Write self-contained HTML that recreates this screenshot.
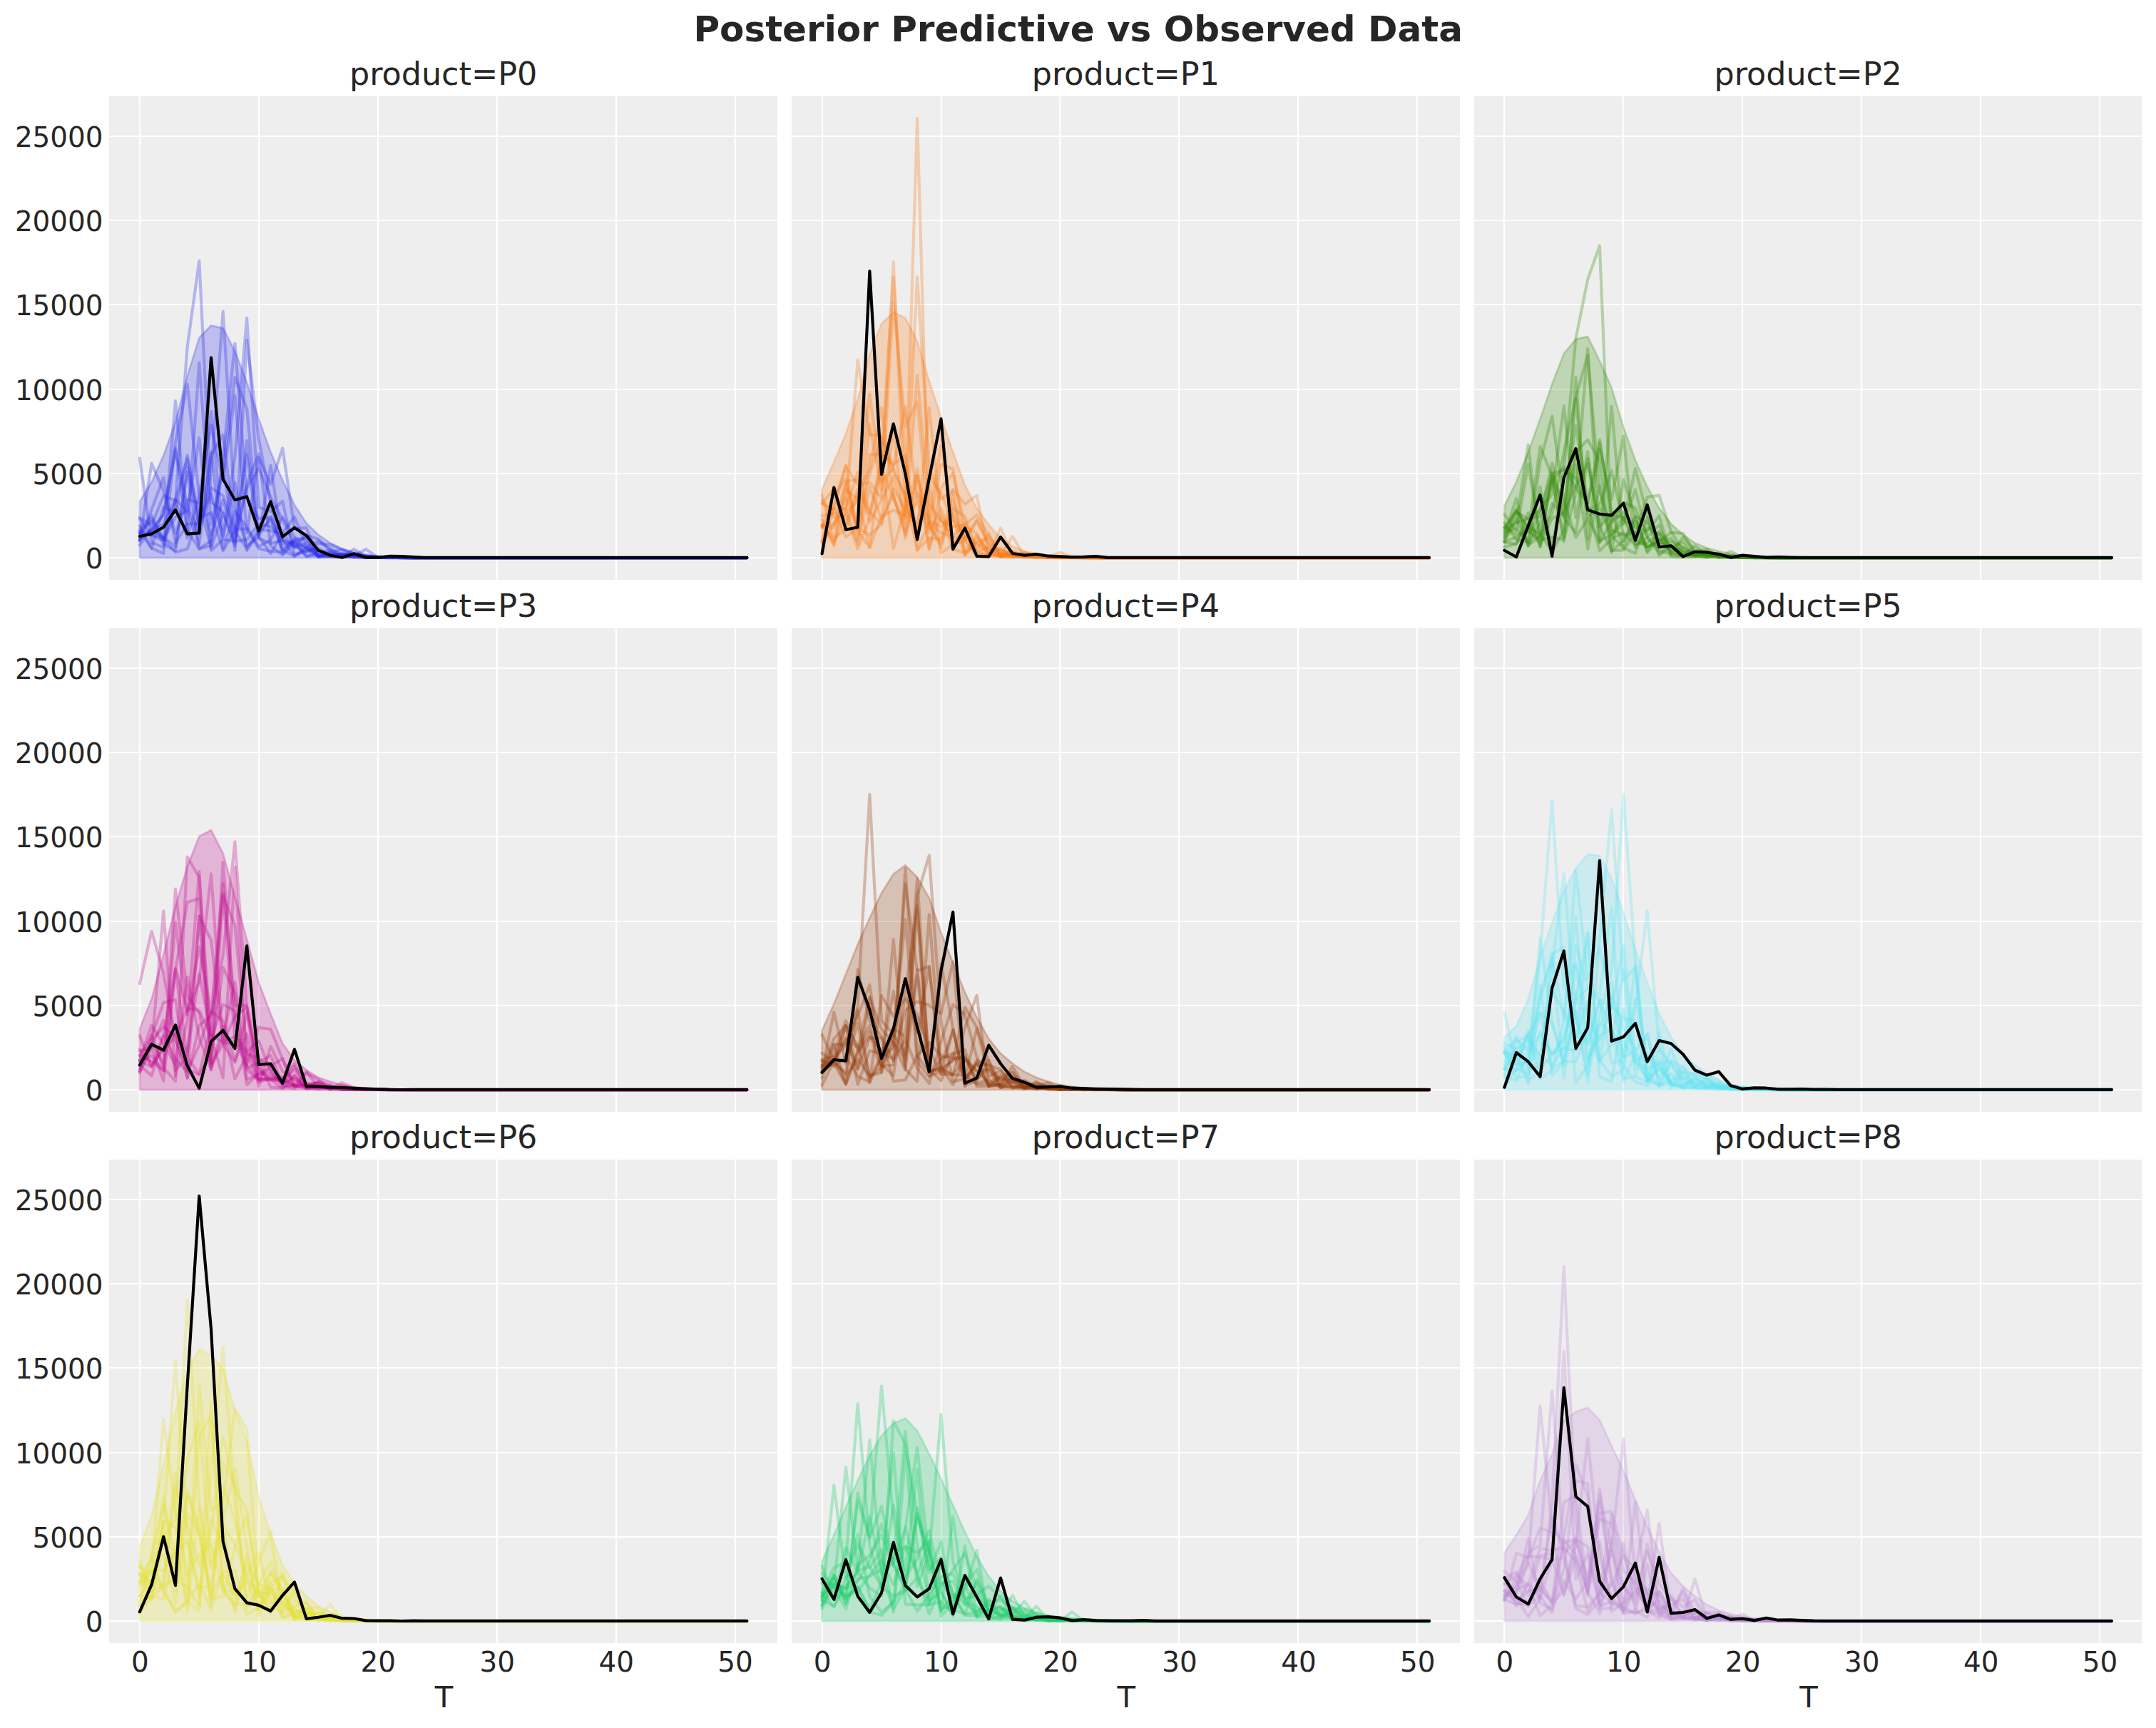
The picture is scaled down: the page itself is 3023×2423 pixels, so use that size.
<!DOCTYPE html>
<html lang="en"><head><meta charset="utf-8">
<title>Posterior Predictive vs Observed Data</title>
<style>
html,body{margin:0;padding:0;background:#fff;}
body{width:3023px;height:2423px;overflow:hidden;}
svg{display:block;}
text{font-family:"DejaVu Sans", "Liberation Sans", sans-serif;fill:#262626;}
.tick{font-size:38.9px;}
.ttl{font-size:44.44px;}
.xl{font-size:41.7px;}
.sup{font-size:50px;font-weight:bold;}
.grid{stroke:#fff;stroke-width:2.22;fill:none;}
.obs{stroke:#000;stroke-width:4.17;fill:none;stroke-linecap:round;stroke-linejoin:round;}
.dr{stroke-width:4.17;fill:none;stroke-opacity:0.3;stroke-linecap:round;stroke-linejoin:round;}
.band{fill-opacity:0.25;stroke-opacity:0.25;stroke-width:2.78;stroke-linejoin:round;}
</style></head><body>
<svg width="3023" height="2423" viewBox="0 0 3023 2423">
<rect x="0" y="0" width="3023" height="2423" fill="#ffffff"/>
<text class="sup" x="1511.7" y="58.4" text-anchor="middle">Posterior Predictive vs Observed Data</text>
<g id="panel-P0">
<rect x="153.0" y="135.0" width="937.0" height="678.0" fill="#eeeeee"/>
<path class="grid" d="M196.0,135.0V813.0M363.0,135.0V813.0M530.0,135.0V813.0M697.0,135.0V813.0M864.0,135.0V813.0M1031.0,135.0V813.0M153.3,782.0H1089.9M153.3,664.0H1089.9M153.3,546.0H1089.9M153.3,427.0H1089.9M153.3,309.0H1089.9M153.3,191.0H1089.9"/>
<g>
<path class="band" fill="#2a2eec" stroke="#2a2eec" d="M195.9,703.3L212.6,675.7L229.3,638.4L246.0,592.0L262.7,527.0L279.3,473.7L296.0,456.3L312.7,460.2L329.4,492.2L346.1,536.3L362.8,587.4L379.5,633.7L396.2,673.2L412.9,708.0L429.6,733.5L446.3,749.7L463.0,761.3L479.7,769.4L496.4,774.1L513.1,777.5L529.8,779.9L546.5,781.0L563.2,781.6L579.9,781.9L596.6,782.2L613.3,782.2L629.9,782.2L646.6,782.2L663.3,782.2L680.0,782.2L696.7,782.2L713.4,782.2L730.1,782.2L746.8,782.2L763.5,782.2L780.2,782.2L796.9,782.2L813.6,782.2L830.3,782.2L847.0,782.2L863.7,782.2L880.4,782.2L897.1,782.2L913.8,782.2L930.5,782.2L947.2,782.2L963.9,782.2L980.5,782.2L997.2,782.2L1013.9,782.2L1030.6,782.2L1047.3,782.2L1047.3,782.2L195.9,782.2Z"/>
<g class="dr" stroke="#2a2eec">
<path d="M195.9,727.6L212.6,750.9L229.3,757.7L246.0,702.1L262.7,486.4L279.3,365.8L296.0,704.1L312.7,717.7L329.4,765.8L346.1,617.9L362.8,752.3L379.5,776.2L396.2,747.9L412.9,768.0L429.6,761.1L446.3,780.3L463.0,775.1L479.7,780.8L496.4,780.0L513.1,781.3L529.8,781.7L546.5,782.1L563.2,781.8L579.9,782.1L596.6,782.2L613.3,782.2L629.9,782.2L646.6,782.2L663.3,782.2L680.0,782.2L696.7,782.2L713.4,782.2L730.1,782.2L746.8,782.2L763.5,782.2L780.2,782.2L796.9,782.2L813.6,782.2L830.3,782.2L847.0,782.2L863.7,782.2L880.4,782.2L897.1,782.2L913.8,782.2L930.5,782.2L947.2,782.2L963.9,782.2L980.5,782.2L997.2,782.2L1013.9,782.2L1030.6,782.2L1047.3,782.2"/>
<path d="M195.9,755.7L212.6,743.7L229.3,720.6L246.0,631.4L262.7,709.3L279.3,748.1L296.0,663.9L312.7,436.8L329.4,712.3L346.1,765.4L362.8,753.4L379.5,652.8L396.2,762.8L412.9,759.8L429.6,752.5L446.3,778.9L463.0,779.8L479.7,776.2L496.4,780.4L513.1,781.9L529.8,781.5L546.5,781.7L563.2,781.9L579.9,782.1L596.6,782.2L613.3,782.2L629.9,782.2L646.6,782.2L663.3,782.2L680.0,782.2L696.7,782.2L713.4,782.2L730.1,782.2L746.8,782.2L763.5,782.2L780.2,782.2L796.9,782.2L813.6,782.2L830.3,782.2L847.0,782.2L863.7,782.2L880.4,782.2L897.1,782.2L913.8,782.2L930.5,782.2L947.2,782.2L963.9,782.2L980.5,782.2L997.2,782.2L1013.9,782.2L1030.6,782.2L1047.3,782.2"/>
<path d="M195.9,737.0L212.6,768.9L229.3,711.4L246.0,718.5L262.7,638.5L279.3,737.7L296.0,692.2L312.7,751.2L329.4,640.2L346.1,446.2L362.8,711.2L379.5,717.3L396.2,702.9L412.9,777.6L429.6,773.4L446.3,762.1L463.0,763.5L479.7,770.6L496.4,776.6L513.1,780.6L529.8,781.2L546.5,781.9L563.2,782.0L579.9,782.1L596.6,782.2L613.3,782.2L629.9,782.2L646.6,782.2L663.3,782.2L680.0,782.2L696.7,782.2L713.4,782.2L730.1,782.2L746.8,782.2L763.5,782.2L780.2,782.2L796.9,782.2L813.6,782.2L830.3,782.2L847.0,782.2L863.7,782.2L880.4,782.2L897.1,782.2L913.8,782.2L930.5,782.2L947.2,782.2L963.9,782.2L980.5,782.2L997.2,782.2L1013.9,782.2L1030.6,782.2L1047.3,782.2"/>
<path d="M195.9,750.0L212.6,749.9L229.3,753.0L246.0,766.5L262.7,662.1L279.3,769.7L296.0,764.8L312.7,650.3L329.4,771.6L346.1,477.0L362.8,615.5L379.5,705.1L396.2,776.5L412.9,758.3L429.6,780.5L446.3,774.1L463.0,780.5L479.7,780.4L496.4,776.6L513.1,781.6L529.8,781.9L546.5,782.1L563.2,781.7L579.9,782.1L596.6,782.2L613.3,782.2L629.9,782.2L646.6,782.2L663.3,782.2L680.0,782.2L696.7,782.2L713.4,782.2L730.1,782.2L746.8,782.2L763.5,782.2L780.2,782.2L796.9,782.2L813.6,782.2L830.3,782.2L847.0,782.2L863.7,782.2L880.4,782.2L897.1,782.2L913.8,782.2L930.5,782.2L947.2,782.2L963.9,782.2L980.5,782.2L997.2,782.2L1013.9,782.2L1030.6,782.2L1047.3,782.2"/>
<path d="M195.9,642.6L212.6,760.9L229.3,767.4L246.0,701.1L262.7,643.1L279.3,725.5L296.0,719.2L312.7,772.2L329.4,743.7L346.1,637.9L362.8,755.0L379.5,762.2L396.2,757.3L412.9,766.9L429.6,750.8L446.3,755.7L463.0,772.8L479.7,780.4L496.4,781.2L513.1,781.1L529.8,781.9L546.5,782.0L563.2,781.8L579.9,782.2L596.6,782.2L613.3,782.2L629.9,782.2L646.6,782.2L663.3,782.2L680.0,782.2L696.7,782.2L713.4,782.2L730.1,782.2L746.8,782.2L763.5,782.2L780.2,782.2L796.9,782.2L813.6,782.2L830.3,782.2L847.0,782.2L863.7,782.2L880.4,782.2L897.1,782.2L913.8,782.2L930.5,782.2L947.2,782.2L963.9,782.2L980.5,782.2L997.2,782.2L1013.9,782.2L1030.6,782.2L1047.3,782.2"/>
<path d="M195.9,726.0L212.6,736.8L229.3,695.1L246.0,702.2L262.7,754.6L279.3,695.3L296.0,596.5L312.7,674.0L329.4,554.7L346.1,747.1L362.8,641.3L379.5,679.2L396.2,628.4L412.9,740.9L429.6,740.2L446.3,781.1L463.0,779.4L479.7,777.6L496.4,777.9L513.1,780.1L529.8,781.7L546.5,782.0L563.2,781.8L579.9,782.0L596.6,782.2L613.3,782.2L629.9,782.2L646.6,782.2L663.3,782.2L680.0,782.2L696.7,782.2L713.4,782.2L730.1,782.2L746.8,782.2L763.5,782.2L780.2,782.2L796.9,782.2L813.6,782.2L830.3,782.2L847.0,782.2L863.7,782.2L880.4,782.2L897.1,782.2L913.8,782.2L930.5,782.2L947.2,782.2L963.9,782.2L980.5,782.2L997.2,782.2L1013.9,782.2L1030.6,782.2L1047.3,782.2"/>
<path d="M195.9,757.7L212.6,649.7L229.3,689.0L246.0,748.4L262.7,700.3L279.3,705.2L296.0,768.6L312.7,719.7L329.4,761.8L346.1,678.5L362.8,636.4L379.5,765.4L396.2,778.2L412.9,761.8L429.6,767.9L446.3,775.6L463.0,771.1L479.7,777.5L496.4,776.4L513.1,779.2L529.8,780.9L546.5,781.8L563.2,781.9L579.9,782.1L596.6,782.2L613.3,782.2L629.9,782.2L646.6,782.2L663.3,782.2L680.0,782.2L696.7,782.2L713.4,782.2L730.1,782.2L746.8,782.2L763.5,782.2L780.2,782.2L796.9,782.2L813.6,782.2L830.3,782.2L847.0,782.2L863.7,782.2L880.4,782.2L897.1,782.2L913.8,782.2L930.5,782.2L947.2,782.2L963.9,782.2L980.5,782.2L997.2,782.2L1013.9,782.2L1030.6,782.2L1047.3,782.2"/>
<path d="M195.9,742.5L212.6,722.8L229.3,757.7L246.0,562.2L262.7,745.1L279.3,508.6L296.0,735.6L312.7,658.4L329.4,529.1L346.1,573.2L362.8,751.1L379.5,724.3L396.2,770.1L412.9,757.6L429.6,770.5L446.3,780.4L463.0,775.6L479.7,780.8L496.4,780.0L513.1,779.8L529.8,781.0L546.5,781.5L563.2,782.1L579.9,782.1L596.6,782.2L613.3,782.2L629.9,782.2L646.6,782.2L663.3,782.2L680.0,782.2L696.7,782.2L713.4,782.2L730.1,782.2L746.8,782.2L763.5,782.2L780.2,782.2L796.9,782.2L813.6,782.2L830.3,782.2L847.0,782.2L863.7,782.2L880.4,782.2L897.1,782.2L913.8,782.2L930.5,782.2L947.2,782.2L963.9,782.2L980.5,782.2L997.2,782.2L1013.9,782.2L1030.6,782.2L1047.3,782.2"/>
<path d="M195.9,745.1L212.6,768.7L229.3,776.0L246.0,619.6L262.7,538.5L279.3,697.1L296.0,750.1L312.7,701.4L329.4,755.1L346.1,684.3L362.8,656.6L379.5,696.9L396.2,728.6L412.9,765.3L429.6,774.3L446.3,768.5L463.0,778.5L479.7,776.6L496.4,778.0L513.1,780.8L529.8,781.9L546.5,781.8L563.2,782.1L579.9,782.1L596.6,782.2L613.3,782.2L629.9,782.2L646.6,782.2L663.3,782.2L680.0,782.2L696.7,782.2L713.4,782.2L730.1,782.2L746.8,782.2L763.5,782.2L780.2,782.2L796.9,782.2L813.6,782.2L830.3,782.2L847.0,782.2L863.7,782.2L880.4,782.2L897.1,782.2L913.8,782.2L930.5,782.2L947.2,782.2L963.9,782.2L980.5,782.2L997.2,782.2L1013.9,782.2L1030.6,782.2L1047.3,782.2"/>
<path d="M195.9,757.0L212.6,743.0L229.3,722.4L246.0,628.3L262.7,744.5L279.3,769.4L296.0,758.2L312.7,641.1L329.4,481.7L346.1,697.9L362.8,727.1L379.5,725.9L396.2,756.4L412.9,762.8L429.6,779.6L446.3,778.1L463.0,777.9L479.7,777.8L496.4,781.5L513.1,781.8L529.8,781.3L546.5,781.6L563.2,782.0L579.9,782.1L596.6,782.2L613.3,782.2L629.9,782.2L646.6,782.2L663.3,782.2L680.0,782.2L696.7,782.2L713.4,782.2L730.1,782.2L746.8,782.2L763.5,782.2L780.2,782.2L796.9,782.2L813.6,782.2L830.3,782.2L847.0,782.2L863.7,782.2L880.4,782.2L897.1,782.2L913.8,782.2L930.5,782.2L947.2,782.2L963.9,782.2L980.5,782.2L997.2,782.2L1013.9,782.2L1030.6,782.2L1047.3,782.2"/>
<path d="M195.9,758.7L212.6,714.6L229.3,669.6L246.0,761.4L262.7,734.8L279.3,733.9L296.0,634.1L312.7,770.0L329.4,717.1L346.1,738.9L362.8,766.4L379.5,757.1L396.2,725.1L412.9,753.3L429.6,768.1L446.3,780.3L463.0,780.5L479.7,780.4L496.4,769.9L513.1,780.8L529.8,781.7L546.5,781.3L563.2,782.1L579.9,782.1L596.6,782.2L613.3,782.2L629.9,782.2L646.6,782.2L663.3,782.2L680.0,782.2L696.7,782.2L713.4,782.2L730.1,782.2L746.8,782.2L763.5,782.2L780.2,782.2L796.9,782.2L813.6,782.2L830.3,782.2L847.0,782.2L863.7,782.2L880.4,782.2L897.1,782.2L913.8,782.2L930.5,782.2L947.2,782.2L963.9,782.2L980.5,782.2L997.2,782.2L1013.9,782.2L1030.6,782.2L1047.3,782.2"/>
<path d="M195.9,747.3L212.6,744.5L229.3,735.1L246.0,699.8L262.7,716.9L279.3,763.3L296.0,638.1L312.7,609.9L329.4,745.2L346.1,769.2L362.8,742.4L379.5,744.5L396.2,747.2L412.9,724.8L429.6,765.5L446.3,779.3L463.0,778.8L479.7,778.6L496.4,779.3L513.1,770.1L529.8,781.7L546.5,781.6L563.2,782.1L579.9,782.1L596.6,782.2L613.3,782.2L629.9,782.2L646.6,782.2L663.3,782.2L680.0,782.2L696.7,782.2L713.4,782.2L730.1,782.2L746.8,782.2L763.5,782.2L780.2,782.2L796.9,782.2L813.6,782.2L830.3,782.2L847.0,782.2L863.7,782.2L880.4,782.2L897.1,782.2L913.8,782.2L930.5,782.2L947.2,782.2L963.9,782.2L980.5,782.2L997.2,782.2L1013.9,782.2L1030.6,782.2L1047.3,782.2"/>
<path d="M195.9,748.7L212.6,726.9L229.3,756.0L246.0,725.2L262.7,716.2L279.3,614.2L296.0,771.9L312.7,756.8L329.4,759.0L346.1,756.7L362.8,734.8L379.5,738.2L396.2,756.7L412.9,779.7L429.6,767.0L446.3,758.2L463.0,769.1L479.7,780.0L496.4,779.2L513.1,779.5L529.8,781.7L546.5,781.8L563.2,782.0L579.9,782.1L596.6,782.2L613.3,782.2L629.9,782.2L646.6,782.2L663.3,782.2L680.0,782.2L696.7,782.2L713.4,782.2L730.1,782.2L746.8,782.2L763.5,782.2L780.2,782.2L796.9,782.2L813.6,782.2L830.3,782.2L847.0,782.2L863.7,782.2L880.4,782.2L897.1,782.2L913.8,782.2L930.5,782.2L947.2,782.2L963.9,782.2L980.5,782.2L997.2,782.2L1013.9,782.2L1030.6,782.2L1047.3,782.2"/>
<path d="M195.9,746.4L212.6,730.9L229.3,763.1L246.0,772.3L262.7,655.0L279.3,736.2L296.0,684.1L312.7,695.0L329.4,741.8L346.1,741.6L362.8,769.4L379.5,773.0L396.2,774.0L412.9,754.9L429.6,755.9L446.3,780.3L463.0,774.1L479.7,770.8L496.4,777.5L513.1,780.8L529.8,781.8L546.5,781.5L563.2,781.7L579.9,782.1L596.6,782.2L613.3,782.2L629.9,782.2L646.6,782.2L663.3,782.2L680.0,782.2L696.7,782.2L713.4,782.2L730.1,782.2L746.8,782.2L763.5,782.2L780.2,782.2L796.9,782.2L813.6,782.2L830.3,782.2L847.0,782.2L863.7,782.2L880.4,782.2L897.1,782.2L913.8,782.2L930.5,782.2L947.2,782.2L963.9,782.2L980.5,782.2L997.2,782.2L1013.9,782.2L1030.6,782.2L1047.3,782.2"/>
<path d="M195.9,764.4L212.6,739.8L229.3,755.3L246.0,774.4L262.7,769.5L279.3,721.5L296.0,576.8L312.7,753.8L329.4,676.6L346.1,772.0L362.8,746.3L379.5,728.6L396.2,771.4L412.9,779.8L429.6,770.7L446.3,771.9L463.0,778.0L479.7,777.2L496.4,780.4L513.1,780.5L529.8,780.8L546.5,782.0L563.2,782.1L579.9,782.1L596.6,782.2L613.3,782.2L629.9,782.2L646.6,782.2L663.3,782.2L680.0,782.2L696.7,782.2L713.4,782.2L730.1,782.2L746.8,782.2L763.5,782.2L780.2,782.2L796.9,782.2L813.6,782.2L830.3,782.2L847.0,782.2L863.7,782.2L880.4,782.2L897.1,782.2L913.8,782.2L930.5,782.2L947.2,782.2L963.9,782.2L980.5,782.2L997.2,782.2L1013.9,782.2L1030.6,782.2L1047.3,782.2"/>
</g>
<path class="obs" d="M195.9,752.0L212.6,748.6L229.3,739.2L246.0,714.9L262.7,748.6L279.3,747.4L296.0,501.5L312.7,672.0L329.4,701.0L346.1,696.4L362.8,744.6L379.5,703.3L396.2,752.7L412.9,740.0L429.6,750.9L446.3,771.7L463.0,778.7L479.7,781.7L496.4,776.4L513.1,781.7L529.8,781.7L546.5,779.8L563.2,780.2L579.9,781.1L596.6,781.8L613.3,781.9L629.9,781.9L646.6,781.9L663.3,781.9L680.0,781.9L696.7,781.9L713.4,781.9L730.1,781.9L746.8,781.9L763.5,781.9L780.2,781.9L796.9,781.9L813.6,781.9L830.3,781.9L847.0,781.9L863.7,781.9L880.4,781.9L897.1,781.9L913.8,781.9L930.5,781.9L947.2,781.9L963.9,781.9L980.5,781.9L997.2,781.9L1013.9,781.9L1030.6,781.9L1047.3,781.9"/>
</g>
<text class="ttl" x="621.6" y="119.0" text-anchor="middle">product=P0</text>
<text class="tick" x="144.6" y="797.2" text-anchor="end">0</text>
<text class="tick" x="144.6" y="678.9" text-anchor="end">5000</text>
<text class="tick" x="144.6" y="560.6" text-anchor="end">10000</text>
<text class="tick" x="144.6" y="442.3" text-anchor="end">15000</text>
<text class="tick" x="144.6" y="324.0" text-anchor="end">20000</text>
<text class="tick" x="144.6" y="205.7" text-anchor="end">25000</text>
</g>
<g id="panel-P1">
<rect x="1110.0" y="135.0" width="937.0" height="678.0" fill="#eeeeee"/>
<path class="grid" d="M1153.0,135.0V813.0M1320.0,135.0V813.0M1486.0,135.0V813.0M1653.0,135.0V813.0M1820.0,135.0V813.0M1987.0,135.0V813.0M1110.0,782.0H2046.6M1110.0,664.0H2046.6M1110.0,546.0H2046.6M1110.0,427.0H2046.6M1110.0,309.0H2046.6M1110.0,191.0H2046.6"/>
<g>
<path class="band" fill="#fa7c17" stroke="#fa7c17" d="M1152.6,685.9L1169.3,647.7L1186.0,608.2L1202.7,559.8L1219.4,496.9L1236.0,454.0L1252.7,437.7L1269.4,445.8L1286.1,478.3L1302.8,534.0L1319.5,585.0L1336.2,633.7L1352.9,680.1L1369.6,712.6L1386.3,735.8L1403.0,754.4L1419.7,766.0L1436.4,772.9L1453.1,776.4L1469.8,778.7L1486.5,779.9L1503.2,781.0L1519.9,781.6L1536.6,781.9L1553.3,782.2L1570.0,782.2L1586.6,782.2L1603.3,782.2L1620.0,782.2L1636.7,782.2L1653.4,782.2L1670.1,782.2L1686.8,782.2L1703.5,782.2L1720.2,782.2L1736.9,782.2L1753.6,782.2L1770.3,782.2L1787.0,782.2L1803.7,782.2L1820.4,782.2L1837.1,782.2L1853.8,782.2L1870.5,782.2L1887.2,782.2L1903.9,782.2L1920.6,782.2L1937.2,782.2L1953.9,782.2L1970.6,782.2L1987.3,782.2L2004.0,782.2L2004.0,782.2L1152.6,782.2Z"/>
<g class="dr" stroke="#fa7c17">
<path d="M1152.6,728.8L1169.3,765.0L1186.0,687.0L1202.7,699.9L1219.4,767.4L1236.0,647.7L1252.7,768.9L1269.4,711.2L1286.1,165.8L1302.8,746.7L1319.5,712.8L1336.2,762.2L1352.9,759.1L1369.6,778.8L1386.3,776.8L1403.0,772.2L1419.7,775.6L1436.4,779.8L1453.1,780.1L1469.8,781.8L1486.5,781.8L1503.2,781.7L1519.9,782.1L1536.6,782.1L1553.3,782.2L1570.0,782.2L1586.6,782.2L1603.3,782.2L1620.0,782.2L1636.7,782.2L1653.4,782.2L1670.1,782.2L1686.8,782.2L1703.5,782.2L1720.2,782.2L1736.9,782.2L1753.6,782.2L1770.3,782.2L1787.0,782.2L1803.7,782.2L1820.4,782.2L1837.1,782.2L1853.8,782.2L1870.5,782.2L1887.2,782.2L1903.9,782.2L1920.6,782.2L1937.2,782.2L1953.9,782.2L1970.6,782.2L1987.3,782.2L2004.0,782.2"/>
<path d="M1152.6,739.3L1169.3,693.3L1186.0,671.5L1202.7,740.7L1219.4,595.1L1236.0,687.5L1252.7,367.3L1269.4,723.0L1286.1,657.5L1302.8,768.6L1319.5,722.3L1336.2,769.9L1352.9,775.3L1369.6,763.2L1386.3,775.6L1403.0,780.1L1419.7,781.1L1436.4,781.1L1453.1,778.8L1469.8,782.0L1486.5,782.0L1503.2,782.0L1519.9,782.1L1536.6,782.0L1553.3,782.2L1570.0,782.2L1586.6,782.2L1603.3,782.2L1620.0,782.2L1636.7,782.2L1653.4,782.2L1670.1,782.2L1686.8,782.2L1703.5,782.2L1720.2,782.2L1736.9,782.2L1753.6,782.2L1770.3,782.2L1787.0,782.2L1803.7,782.2L1820.4,782.2L1837.1,782.2L1853.8,782.2L1870.5,782.2L1887.2,782.2L1903.9,782.2L1920.6,782.2L1937.2,782.2L1953.9,782.2L1970.6,782.2L1987.3,782.2L2004.0,782.2"/>
<path d="M1152.6,700.9L1169.3,725.8L1186.0,720.9L1202.7,769.5L1219.4,725.4L1236.0,640.2L1252.7,389.2L1269.4,645.0L1286.1,754.3L1302.8,677.4L1319.5,775.4L1336.2,763.7L1352.9,744.0L1369.6,774.1L1386.3,778.4L1403.0,779.3L1419.7,772.7L1436.4,780.8L1453.1,781.1L1469.8,781.2L1486.5,781.1L1503.2,782.0L1519.9,781.8L1536.6,782.1L1553.3,782.2L1570.0,782.2L1586.6,782.2L1603.3,782.2L1620.0,782.2L1636.7,782.2L1653.4,782.2L1670.1,782.2L1686.8,782.2L1703.5,782.2L1720.2,782.2L1736.9,782.2L1753.6,782.2L1770.3,782.2L1787.0,782.2L1803.7,782.2L1820.4,782.2L1837.1,782.2L1853.8,782.2L1870.5,782.2L1887.2,782.2L1903.9,782.2L1920.6,782.2L1937.2,782.2L1953.9,782.2L1970.6,782.2L1987.3,782.2L2004.0,782.2"/>
<path d="M1152.6,759.2L1169.3,707.7L1186.0,653.5L1202.7,679.6L1219.4,676.4L1236.0,698.5L1252.7,423.8L1269.4,598.0L1286.1,563.2L1302.8,737.9L1319.5,762.6L1336.2,713.1L1352.9,724.2L1369.6,771.1L1386.3,748.2L1403.0,779.6L1419.7,781.2L1436.4,775.3L1453.1,780.3L1469.8,782.0L1486.5,782.1L1503.2,781.9L1519.9,782.0L1536.6,781.9L1553.3,782.2L1570.0,782.2L1586.6,782.2L1603.3,782.2L1620.0,782.2L1636.7,782.2L1653.4,782.2L1670.1,782.2L1686.8,782.2L1703.5,782.2L1720.2,782.2L1736.9,782.2L1753.6,782.2L1770.3,782.2L1787.0,782.2L1803.7,782.2L1820.4,782.2L1837.1,782.2L1853.8,782.2L1870.5,782.2L1887.2,782.2L1903.9,782.2L1920.6,782.2L1937.2,782.2L1953.9,782.2L1970.6,782.2L1987.3,782.2L2004.0,782.2"/>
<path d="M1152.6,694.4L1169.3,759.0L1186.0,678.3L1202.7,744.4L1219.4,767.6L1236.0,724.2L1252.7,715.3L1269.4,723.0L1286.1,388.0L1302.8,652.1L1319.5,699.7L1336.2,688.3L1352.9,777.7L1369.6,754.8L1386.3,769.7L1403.0,778.4L1419.7,778.8L1436.4,774.4L1453.1,780.1L1469.8,781.7L1486.5,781.3L1503.2,781.7L1519.9,781.8L1536.6,782.1L1553.3,782.2L1570.0,782.2L1586.6,782.2L1603.3,782.2L1620.0,782.2L1636.7,782.2L1653.4,782.2L1670.1,782.2L1686.8,782.2L1703.5,782.2L1720.2,782.2L1736.9,782.2L1753.6,782.2L1770.3,782.2L1787.0,782.2L1803.7,782.2L1820.4,782.2L1837.1,782.2L1853.8,782.2L1870.5,782.2L1887.2,782.2L1903.9,782.2L1920.6,782.2L1937.2,782.2L1953.9,782.2L1970.6,782.2L1987.3,782.2L2004.0,782.2"/>
<path d="M1152.6,761.2L1169.3,734.2L1186.0,713.5L1202.7,504.7L1219.4,609.6L1236.0,610.3L1252.7,654.5L1269.4,570.4L1286.1,698.4L1302.8,732.4L1319.5,747.1L1336.2,753.1L1352.9,756.2L1369.6,729.4L1386.3,762.9L1403.0,773.8L1419.7,778.5L1436.4,778.1L1453.1,778.2L1469.8,781.5L1486.5,781.8L1503.2,782.0L1519.9,781.8L1536.6,782.1L1553.3,782.2L1570.0,782.2L1586.6,782.2L1603.3,782.2L1620.0,782.2L1636.7,782.2L1653.4,782.2L1670.1,782.2L1686.8,782.2L1703.5,782.2L1720.2,782.2L1736.9,782.2L1753.6,782.2L1770.3,782.2L1787.0,782.2L1803.7,782.2L1820.4,782.2L1837.1,782.2L1853.8,782.2L1870.5,782.2L1887.2,782.2L1903.9,782.2L1920.6,782.2L1937.2,782.2L1953.9,782.2L1970.6,782.2L1987.3,782.2L2004.0,782.2"/>
<path d="M1152.6,735.1L1169.3,762.6L1186.0,718.8L1202.7,702.7L1219.4,552.9L1236.0,676.4L1252.7,656.5L1269.4,697.7L1286.1,748.0L1302.8,571.6L1319.5,729.6L1336.2,751.9L1352.9,732.9L1369.6,773.8L1386.3,767.1L1403.0,781.1L1419.7,774.7L1436.4,777.8L1453.1,778.8L1469.8,780.0L1486.5,780.7L1503.2,781.5L1519.9,781.8L1536.6,782.1L1553.3,782.2L1570.0,782.2L1586.6,782.2L1603.3,782.2L1620.0,782.2L1636.7,782.2L1653.4,782.2L1670.1,782.2L1686.8,782.2L1703.5,782.2L1720.2,782.2L1736.9,782.2L1753.6,782.2L1770.3,782.2L1787.0,782.2L1803.7,782.2L1820.4,782.2L1837.1,782.2L1853.8,782.2L1870.5,782.2L1887.2,782.2L1903.9,782.2L1920.6,782.2L1937.2,782.2L1953.9,782.2L1970.6,782.2L1987.3,782.2L2004.0,782.2"/>
<path d="M1152.6,723.3L1169.3,720.0L1186.0,713.5L1202.7,763.0L1219.4,637.1L1236.0,637.4L1252.7,651.3L1269.4,638.4L1286.1,771.5L1302.8,754.6L1319.5,756.0L1336.2,686.1L1352.9,706.9L1369.6,694.6L1386.3,777.2L1403.0,780.5L1419.7,778.7L1436.4,781.0L1453.1,779.8L1469.8,781.4L1486.5,782.0L1503.2,781.8L1519.9,781.9L1536.6,782.0L1553.3,782.2L1570.0,782.2L1586.6,782.2L1603.3,782.2L1620.0,782.2L1636.7,782.2L1653.4,782.2L1670.1,782.2L1686.8,782.2L1703.5,782.2L1720.2,782.2L1736.9,782.2L1753.6,782.2L1770.3,782.2L1787.0,782.2L1803.7,782.2L1820.4,782.2L1837.1,782.2L1853.8,782.2L1870.5,782.2L1887.2,782.2L1903.9,782.2L1920.6,782.2L1937.2,782.2L1953.9,782.2L1970.6,782.2L1987.3,782.2L2004.0,782.2"/>
<path d="M1152.6,739.7L1169.3,713.2L1186.0,712.6L1202.7,662.6L1219.4,718.2L1236.0,734.2L1252.7,599.5L1269.4,754.5L1286.1,691.0L1302.8,729.7L1319.5,738.9L1336.2,721.0L1352.9,755.7L1369.6,776.0L1386.3,779.5L1403.0,740.3L1419.7,780.1L1436.4,779.6L1453.1,776.9L1469.8,781.1L1486.5,782.0L1503.2,781.9L1519.9,782.1L1536.6,782.1L1553.3,782.2L1570.0,782.2L1586.6,782.2L1603.3,782.2L1620.0,782.2L1636.7,782.2L1653.4,782.2L1670.1,782.2L1686.8,782.2L1703.5,782.2L1720.2,782.2L1736.9,782.2L1753.6,782.2L1770.3,782.2L1787.0,782.2L1803.7,782.2L1820.4,782.2L1837.1,782.2L1853.8,782.2L1870.5,782.2L1887.2,782.2L1903.9,782.2L1920.6,782.2L1937.2,782.2L1953.9,782.2L1970.6,782.2L1987.3,782.2L2004.0,782.2"/>
<path d="M1152.6,706.3L1169.3,713.9L1186.0,652.5L1202.7,758.8L1219.4,683.3L1236.0,728.1L1252.7,693.6L1269.4,747.2L1286.1,665.2L1302.8,770.2L1319.5,683.8L1336.2,663.9L1352.9,735.8L1369.6,721.8L1386.3,751.3L1403.0,779.2L1419.7,752.1L1436.4,780.4L1453.1,779.7L1469.8,781.2L1486.5,781.5L1503.2,782.1L1519.9,782.1L1536.6,782.2L1553.3,782.2L1570.0,782.2L1586.6,782.2L1603.3,782.2L1620.0,782.2L1636.7,782.2L1653.4,782.2L1670.1,782.2L1686.8,782.2L1703.5,782.2L1720.2,782.2L1736.9,782.2L1753.6,782.2L1770.3,782.2L1787.0,782.2L1803.7,782.2L1820.4,782.2L1837.1,782.2L1853.8,782.2L1870.5,782.2L1887.2,782.2L1903.9,782.2L1920.6,782.2L1937.2,782.2L1953.9,782.2L1970.6,782.2L1987.3,782.2L2004.0,782.2"/>
<path d="M1152.6,736.1L1169.3,734.9L1186.0,698.1L1202.7,740.2L1219.4,750.2L1236.0,734.7L1252.7,684.9L1269.4,713.7L1286.1,733.0L1302.8,667.9L1319.5,692.3L1336.2,729.0L1352.9,753.5L1369.6,761.3L1386.3,771.1L1403.0,770.3L1419.7,778.4L1436.4,780.7L1453.1,779.9L1469.8,781.3L1486.5,774.4L1503.2,781.7L1519.9,782.1L1536.6,782.0L1553.3,782.2L1570.0,782.2L1586.6,782.2L1603.3,782.2L1620.0,782.2L1636.7,782.2L1653.4,782.2L1670.1,782.2L1686.8,782.2L1703.5,782.2L1720.2,782.2L1736.9,782.2L1753.6,782.2L1770.3,782.2L1787.0,782.2L1803.7,782.2L1820.4,782.2L1837.1,782.2L1853.8,782.2L1870.5,782.2L1887.2,782.2L1903.9,782.2L1920.6,782.2L1937.2,782.2L1953.9,782.2L1970.6,782.2L1987.3,782.2L2004.0,782.2"/>
<path d="M1152.6,737.4L1169.3,755.0L1186.0,741.1L1202.7,692.1L1219.4,657.6L1236.0,571.7L1252.7,696.2L1269.4,750.5L1286.1,667.2L1302.8,725.8L1319.5,624.9L1336.2,727.4L1352.9,778.7L1369.6,759.8L1386.3,754.7L1403.0,776.7L1419.7,778.2L1436.4,780.7L1453.1,782.0L1469.8,781.3L1486.5,781.5L1503.2,781.5L1519.9,782.1L1536.6,782.2L1553.3,782.2L1570.0,782.2L1586.6,782.2L1603.3,782.2L1620.0,782.2L1636.7,782.2L1653.4,782.2L1670.1,782.2L1686.8,782.2L1703.5,782.2L1720.2,782.2L1736.9,782.2L1753.6,782.2L1770.3,782.2L1787.0,782.2L1803.7,782.2L1820.4,782.2L1837.1,782.2L1853.8,782.2L1870.5,782.2L1887.2,782.2L1903.9,782.2L1920.6,782.2L1937.2,782.2L1953.9,782.2L1970.6,782.2L1987.3,782.2L2004.0,782.2"/>
<path d="M1152.6,706.1L1169.3,685.7L1186.0,735.1L1202.7,685.3L1219.4,720.0L1236.0,654.5L1252.7,699.3L1269.4,734.2L1286.1,526.4L1302.8,706.4L1319.5,730.8L1336.2,738.3L1352.9,736.2L1369.6,748.5L1386.3,776.6L1403.0,768.5L1419.7,780.7L1436.4,780.3L1453.1,780.3L1469.8,781.7L1486.5,780.6L1503.2,781.8L1519.9,781.9L1536.6,782.0L1553.3,782.2L1570.0,782.2L1586.6,782.2L1603.3,782.2L1620.0,782.2L1636.7,782.2L1653.4,782.2L1670.1,782.2L1686.8,782.2L1703.5,782.2L1720.2,782.2L1736.9,782.2L1753.6,782.2L1770.3,782.2L1787.0,782.2L1803.7,782.2L1820.4,782.2L1837.1,782.2L1853.8,782.2L1870.5,782.2L1887.2,782.2L1903.9,782.2L1920.6,782.2L1937.2,782.2L1953.9,782.2L1970.6,782.2L1987.3,782.2L2004.0,782.2"/>
<path d="M1152.6,758.4L1169.3,714.4L1186.0,753.0L1202.7,740.2L1219.4,664.6L1236.0,614.8L1252.7,661.3L1269.4,693.9L1286.1,770.9L1302.8,733.2L1319.5,767.9L1336.2,699.9L1352.9,772.8L1369.6,750.6L1386.3,778.7L1403.0,776.0L1419.7,778.0L1436.4,778.6L1453.1,781.9L1469.8,780.3L1486.5,782.0L1503.2,781.9L1519.9,782.1L1536.6,782.1L1553.3,782.2L1570.0,782.2L1586.6,782.2L1603.3,782.2L1620.0,782.2L1636.7,782.2L1653.4,782.2L1670.1,782.2L1686.8,782.2L1703.5,782.2L1720.2,782.2L1736.9,782.2L1753.6,782.2L1770.3,782.2L1787.0,782.2L1803.7,782.2L1820.4,782.2L1837.1,782.2L1853.8,782.2L1870.5,782.2L1887.2,782.2L1903.9,782.2L1920.6,782.2L1937.2,782.2L1953.9,782.2L1970.6,782.2L1987.3,782.2L2004.0,782.2"/>
<path d="M1152.6,737.6L1169.3,740.5L1186.0,674.8L1202.7,672.9L1219.4,731.7L1236.0,701.1L1252.7,668.5L1269.4,726.7L1286.1,704.5L1302.8,742.2L1319.5,651.0L1336.2,657.5L1352.9,757.8L1369.6,730.3L1386.3,761.9L1403.0,780.6L1419.7,777.9L1436.4,779.3L1453.1,780.8L1469.8,781.8L1486.5,782.1L1503.2,782.1L1519.9,782.0L1536.6,782.0L1553.3,782.2L1570.0,782.2L1586.6,782.2L1603.3,782.2L1620.0,782.2L1636.7,782.2L1653.4,782.2L1670.1,782.2L1686.8,782.2L1703.5,782.2L1720.2,782.2L1736.9,782.2L1753.6,782.2L1770.3,782.2L1787.0,782.2L1803.7,782.2L1820.4,782.2L1837.1,782.2L1853.8,782.2L1870.5,782.2L1887.2,782.2L1903.9,782.2L1920.6,782.2L1937.2,782.2L1953.9,782.2L1970.6,782.2L1987.3,782.2L2004.0,782.2"/>
</g>
<path class="obs" d="M1152.6,776.4L1169.3,683.6L1186.0,742.7L1202.7,739.3L1219.4,380.0L1236.0,665.1L1252.7,594.3L1269.4,663.9L1286.1,756.7L1302.8,671.0L1319.5,587.4L1336.2,770.1L1352.9,740.4L1369.6,779.9L1386.3,780.5L1403.0,753.0L1419.7,776.0L1436.4,778.6L1453.1,777.1L1469.8,779.7L1486.5,780.4L1503.2,781.1L1519.9,780.9L1536.6,780.1L1553.3,781.9L1570.0,781.9L1586.6,781.9L1603.3,781.9L1620.0,781.9L1636.7,781.9L1653.4,781.9L1670.1,781.9L1686.8,781.9L1703.5,781.9L1720.2,781.9L1736.9,781.9L1753.6,781.9L1770.3,781.9L1787.0,781.9L1803.7,781.9L1820.4,781.9L1837.1,781.9L1853.8,781.9L1870.5,781.9L1887.2,781.9L1903.9,781.9L1920.6,781.9L1937.2,781.9L1953.9,781.9L1970.6,781.9L1987.3,781.9L2004.0,781.9"/>
</g>
<text class="ttl" x="1578.3" y="119.0" text-anchor="middle">product=P1</text>
</g>
<g id="panel-P2">
<rect x="2067.0" y="135.0" width="936.3" height="678.0" fill="#eeeeee"/>
<path class="grid" d="M2109.0,135.0V813.0M2276.0,135.0V813.0M2443.0,135.0V813.0M2610.0,135.0V813.0M2777.0,135.0V813.0M2944.0,135.0V813.0M2066.8,782.0H3003.4M2066.8,664.0H3003.4M2066.8,546.0H3003.4M2066.8,427.0H3003.4M2066.8,309.0H3003.4M2066.8,191.0H3003.4"/>
<g>
<path class="band" fill="#328c06" stroke="#328c06" d="M2109.4,709.1L2126.1,675.5L2142.8,633.7L2159.5,587.4L2176.2,538.6L2192.8,495.7L2209.5,475.6L2226.2,471.8L2242.9,506.2L2259.6,543.3L2276.3,598.9L2293.0,645.3L2309.7,682.4L2326.4,712.6L2343.1,734.6L2359.8,749.7L2376.5,761.3L2393.2,768.3L2409.9,772.9L2426.6,776.4L2443.3,779.4L2460.0,780.8L2476.7,781.5L2493.4,781.8L2510.1,782.2L2526.8,782.2L2543.4,782.2L2560.1,782.2L2576.8,782.2L2593.5,782.2L2610.2,782.2L2626.9,782.2L2643.6,782.2L2660.3,782.2L2677.0,782.2L2693.7,782.2L2710.4,782.2L2727.1,782.2L2743.8,782.2L2760.5,782.2L2777.2,782.2L2793.9,782.2L2810.6,782.2L2827.3,782.2L2844.0,782.2L2860.7,782.2L2877.4,782.2L2894.0,782.2L2910.7,782.2L2927.4,782.2L2944.1,782.2L2960.8,782.2L2960.8,782.2L2109.4,782.2Z"/>
<g class="dr" stroke="#328c06">
<path d="M2109.4,733.0L2126.1,757.0L2142.8,760.0L2159.5,682.6L2176.2,772.2L2192.8,659.2L2209.5,474.6L2226.2,391.8L2242.9,344.5L2259.6,751.4L2276.3,767.9L2293.0,731.3L2309.7,767.4L2326.4,757.2L2343.1,772.0L2359.8,767.9L2376.5,777.4L2393.2,781.7L2409.9,779.0L2426.6,780.3L2443.3,780.6L2460.0,781.2L2476.7,782.1L2493.4,782.0L2510.1,782.2L2526.8,782.2L2543.4,782.2L2560.1,782.2L2576.8,782.2L2593.5,782.2L2610.2,782.2L2626.9,782.2L2643.6,782.2L2660.3,782.2L2677.0,782.2L2693.7,782.2L2710.4,782.2L2727.1,782.2L2743.8,782.2L2760.5,782.2L2777.2,782.2L2793.9,782.2L2810.6,782.2L2827.3,782.2L2844.0,782.2L2860.7,782.2L2877.4,782.2L2894.0,782.2L2910.7,782.2L2927.4,782.2L2944.1,782.2L2960.8,782.2"/>
<path d="M2109.4,759.9L2126.1,753.3L2142.8,745.3L2159.5,757.3L2176.2,753.6L2192.8,756.5L2209.5,692.2L2226.2,488.8L2242.9,760.4L2259.6,569.9L2276.3,758.9L2293.0,724.0L2309.7,773.3L2326.4,745.3L2343.1,765.2L2359.8,774.1L2376.5,779.5L2393.2,781.5L2409.9,777.2L2426.6,781.2L2443.3,780.1L2460.0,781.3L2476.7,781.9L2493.4,782.1L2510.1,782.2L2526.8,782.2L2543.4,782.2L2560.1,782.2L2576.8,782.2L2593.5,782.2L2610.2,782.2L2626.9,782.2L2643.6,782.2L2660.3,782.2L2677.0,782.2L2693.7,782.2L2710.4,782.2L2727.1,782.2L2743.8,782.2L2760.5,782.2L2777.2,782.2L2793.9,782.2L2810.6,782.2L2827.3,782.2L2844.0,782.2L2860.7,782.2L2877.4,782.2L2894.0,782.2L2910.7,782.2L2927.4,782.2L2944.1,782.2L2960.8,782.2"/>
<path d="M2109.4,752.2L2126.1,713.2L2142.8,765.6L2159.5,733.6L2176.2,673.3L2192.8,752.6L2209.5,529.0L2226.2,756.3L2242.9,620.3L2259.6,717.0L2276.3,768.4L2293.0,775.9L2309.7,726.3L2326.4,778.8L2343.1,766.2L2359.8,778.3L2376.5,780.5L2393.2,776.3L2409.9,779.2L2426.6,780.6L2443.3,782.0L2460.0,782.1L2476.7,781.8L2493.4,782.1L2510.1,782.2L2526.8,782.2L2543.4,782.2L2560.1,782.2L2576.8,782.2L2593.5,782.2L2610.2,782.2L2626.9,782.2L2643.6,782.2L2660.3,782.2L2677.0,782.2L2693.7,782.2L2710.4,782.2L2727.1,782.2L2743.8,782.2L2760.5,782.2L2777.2,782.2L2793.9,782.2L2810.6,782.2L2827.3,782.2L2844.0,782.2L2860.7,782.2L2877.4,782.2L2894.0,782.2L2910.7,782.2L2927.4,782.2L2944.1,782.2L2960.8,782.2"/>
<path d="M2109.4,721.1L2126.1,744.8L2142.8,650.7L2159.5,751.1L2176.2,720.3L2192.8,633.7L2209.5,557.4L2226.2,497.9L2242.9,688.7L2259.6,743.1L2276.3,750.7L2293.0,746.7L2309.7,766.6L2326.4,761.5L2343.1,759.0L2359.8,766.9L2376.5,777.4L2393.2,777.8L2409.9,780.3L2426.6,781.0L2443.3,781.8L2460.0,781.0L2476.7,782.0L2493.4,782.1L2510.1,782.2L2526.8,782.2L2543.4,782.2L2560.1,782.2L2576.8,782.2L2593.5,782.2L2610.2,782.2L2626.9,782.2L2643.6,782.2L2660.3,782.2L2677.0,782.2L2693.7,782.2L2710.4,782.2L2727.1,782.2L2743.8,782.2L2760.5,782.2L2777.2,782.2L2793.9,782.2L2810.6,782.2L2827.3,782.2L2844.0,782.2L2860.7,782.2L2877.4,782.2L2894.0,782.2L2910.7,782.2L2927.4,782.2L2944.1,782.2L2960.8,782.2"/>
<path d="M2109.4,754.2L2126.1,726.9L2142.8,765.5L2159.5,711.8L2176.2,693.8L2192.8,569.3L2209.5,725.9L2226.2,633.4L2242.9,761.1L2259.6,730.9L2276.3,704.5L2293.0,712.2L2309.7,752.8L2326.4,776.3L2343.1,764.5L2359.8,779.7L2376.5,765.2L2393.2,778.6L2409.9,775.9L2426.6,781.3L2443.3,780.5L2460.0,782.1L2476.7,782.0L2493.4,782.1L2510.1,782.2L2526.8,782.2L2543.4,782.2L2560.1,782.2L2576.8,782.2L2593.5,782.2L2610.2,782.2L2626.9,782.2L2643.6,782.2L2660.3,782.2L2677.0,782.2L2693.7,782.2L2710.4,782.2L2727.1,782.2L2743.8,782.2L2760.5,782.2L2777.2,782.2L2793.9,782.2L2810.6,782.2L2827.3,782.2L2844.0,782.2L2860.7,782.2L2877.4,782.2L2894.0,782.2L2910.7,782.2L2927.4,782.2L2944.1,782.2L2960.8,782.2"/>
<path d="M2109.4,746.2L2126.1,741.2L2142.8,760.8L2159.5,647.9L2176.2,583.4L2192.8,703.0L2209.5,753.5L2226.2,727.6L2242.9,758.5L2259.6,749.8L2276.3,724.8L2293.0,756.5L2309.7,767.1L2326.4,757.3L2343.1,754.7L2359.8,777.7L2376.5,778.6L2393.2,777.2L2409.9,781.2L2426.6,780.3L2443.3,781.7L2460.0,782.1L2476.7,782.1L2493.4,782.1L2510.1,782.2L2526.8,782.2L2543.4,782.2L2560.1,782.2L2576.8,782.2L2593.5,782.2L2610.2,782.2L2626.9,782.2L2643.6,782.2L2660.3,782.2L2677.0,782.2L2693.7,782.2L2710.4,782.2L2727.1,782.2L2743.8,782.2L2760.5,782.2L2777.2,782.2L2793.9,782.2L2810.6,782.2L2827.3,782.2L2844.0,782.2L2860.7,782.2L2877.4,782.2L2894.0,782.2L2910.7,782.2L2927.4,782.2L2944.1,782.2L2960.8,782.2"/>
<path d="M2109.4,743.7L2126.1,732.9L2142.8,727.6L2159.5,716.1L2176.2,662.8L2192.8,710.0L2209.5,596.9L2226.2,705.8L2242.9,629.8L2259.6,700.6L2276.3,611.8L2293.0,768.1L2309.7,740.3L2326.4,748.5L2343.1,767.6L2359.8,759.7L2376.5,779.2L2393.2,776.1L2409.9,778.3L2426.6,780.1L2443.3,782.0L2460.0,781.3L2476.7,781.8L2493.4,782.2L2510.1,782.2L2526.8,782.2L2543.4,782.2L2560.1,782.2L2576.8,782.2L2593.5,782.2L2610.2,782.2L2626.9,782.2L2643.6,782.2L2660.3,782.2L2677.0,782.2L2693.7,782.2L2710.4,782.2L2727.1,782.2L2743.8,782.2L2760.5,782.2L2777.2,782.2L2793.9,782.2L2810.6,782.2L2827.3,782.2L2844.0,782.2L2860.7,782.2L2877.4,782.2L2894.0,782.2L2910.7,782.2L2927.4,782.2L2944.1,782.2L2960.8,782.2"/>
<path d="M2109.4,760.3L2126.1,762.7L2142.8,733.9L2159.5,755.1L2176.2,674.0L2192.8,655.4L2209.5,684.0L2226.2,705.9L2242.9,616.6L2259.6,732.3L2276.3,718.5L2293.0,739.6L2309.7,744.8L2326.4,723.3L2343.1,780.5L2359.8,781.2L2376.5,780.2L2393.2,779.9L2409.9,779.6L2426.6,781.8L2443.3,781.5L2460.0,781.5L2476.7,782.1L2493.4,782.1L2510.1,782.2L2526.8,782.2L2543.4,782.2L2560.1,782.2L2576.8,782.2L2593.5,782.2L2610.2,782.2L2626.9,782.2L2643.6,782.2L2660.3,782.2L2677.0,782.2L2693.7,782.2L2710.4,782.2L2727.1,782.2L2743.8,782.2L2760.5,782.2L2777.2,782.2L2793.9,782.2L2810.6,782.2L2827.3,782.2L2844.0,782.2L2860.7,782.2L2877.4,782.2L2894.0,782.2L2910.7,782.2L2927.4,782.2L2944.1,782.2L2960.8,782.2"/>
<path d="M2109.4,740.2L2126.1,717.7L2142.8,727.5L2159.5,724.0L2176.2,649.6L2192.8,726.6L2209.5,747.0L2226.2,643.1L2242.9,738.4L2259.6,772.0L2276.3,771.3L2293.0,747.8L2309.7,697.0L2326.4,694.6L2343.1,745.4L2359.8,772.2L2376.5,775.9L2393.2,779.9L2409.9,779.7L2426.6,779.7L2443.3,781.3L2460.0,781.3L2476.7,781.9L2493.4,782.1L2510.1,782.2L2526.8,782.2L2543.4,782.2L2560.1,782.2L2576.8,782.2L2593.5,782.2L2610.2,782.2L2626.9,782.2L2643.6,782.2L2660.3,782.2L2677.0,782.2L2693.7,782.2L2710.4,782.2L2727.1,782.2L2743.8,782.2L2760.5,782.2L2777.2,782.2L2793.9,782.2L2810.6,782.2L2827.3,782.2L2844.0,782.2L2860.7,782.2L2877.4,782.2L2894.0,782.2L2910.7,782.2L2927.4,782.2L2944.1,782.2L2960.8,782.2"/>
<path d="M2109.4,759.0L2126.1,730.8L2142.8,623.7L2159.5,766.0L2176.2,664.1L2192.8,659.3L2209.5,670.4L2226.2,707.8L2242.9,772.5L2259.6,755.5L2276.3,746.9L2293.0,764.8L2309.7,753.8L2326.4,771.7L2343.1,777.2L2359.8,753.1L2376.5,771.9L2393.2,774.2L2409.9,780.4L2426.6,781.1L2443.3,781.8L2460.0,781.6L2476.7,782.0L2493.4,782.2L2510.1,782.2L2526.8,782.2L2543.4,782.2L2560.1,782.2L2576.8,782.2L2593.5,782.2L2610.2,782.2L2626.9,782.2L2643.6,782.2L2660.3,782.2L2677.0,782.2L2693.7,782.2L2710.4,782.2L2727.1,782.2L2743.8,782.2L2760.5,782.2L2777.2,782.2L2793.9,782.2L2810.6,782.2L2827.3,782.2L2844.0,782.2L2860.7,782.2L2877.4,782.2L2894.0,782.2L2910.7,782.2L2927.4,782.2L2944.1,782.2L2960.8,782.2"/>
<path d="M2109.4,738.8L2126.1,749.5L2142.8,745.1L2159.5,626.0L2176.2,667.4L2192.8,759.3L2209.5,632.0L2226.2,716.3L2242.9,707.2L2259.6,660.2L2276.3,734.6L2293.0,686.6L2309.7,753.0L2326.4,735.9L2343.1,775.3L2359.8,779.7L2376.5,776.8L2393.2,772.9L2409.9,781.6L2426.6,781.0L2443.3,781.5L2460.0,781.9L2476.7,781.8L2493.4,782.1L2510.1,782.2L2526.8,782.2L2543.4,782.2L2560.1,782.2L2576.8,782.2L2593.5,782.2L2610.2,782.2L2626.9,782.2L2643.6,782.2L2660.3,782.2L2677.0,782.2L2693.7,782.2L2710.4,782.2L2727.1,782.2L2743.8,782.2L2760.5,782.2L2777.2,782.2L2793.9,782.2L2810.6,782.2L2827.3,782.2L2844.0,782.2L2860.7,782.2L2877.4,782.2L2894.0,782.2L2910.7,782.2L2927.4,782.2L2944.1,782.2L2960.8,782.2"/>
<path d="M2109.4,767.1L2126.1,762.6L2142.8,719.1L2159.5,766.9L2176.2,706.2L2192.8,724.1L2209.5,559.6L2226.2,725.0L2242.9,712.1L2259.6,750.7L2276.3,732.9L2293.0,656.8L2309.7,723.6L2326.4,758.7L2343.1,746.7L2359.8,747.9L2376.5,775.1L2393.2,777.7L2409.9,779.9L2426.6,779.4L2443.3,782.0L2460.0,782.1L2476.7,782.1L2493.4,782.1L2510.1,782.2L2526.8,782.2L2543.4,782.2L2560.1,782.2L2576.8,782.2L2593.5,782.2L2610.2,782.2L2626.9,782.2L2643.6,782.2L2660.3,782.2L2677.0,782.2L2693.7,782.2L2710.4,782.2L2727.1,782.2L2743.8,782.2L2760.5,782.2L2777.2,782.2L2793.9,782.2L2810.6,782.2L2827.3,782.2L2844.0,782.2L2860.7,782.2L2877.4,782.2L2894.0,782.2L2910.7,782.2L2927.4,782.2L2944.1,782.2L2960.8,782.2"/>
<path d="M2109.4,758.3L2126.1,716.3L2142.8,740.1L2159.5,763.0L2176.2,727.2L2192.8,719.2L2209.5,682.5L2226.2,650.1L2242.9,738.4L2259.6,721.8L2276.3,726.2L2293.0,762.8L2309.7,761.2L2326.4,748.3L2343.1,778.1L2359.8,778.4L2376.5,774.1L2393.2,779.1L2409.9,781.8L2426.6,773.0L2443.3,782.0L2460.0,782.0L2476.7,781.8L2493.4,782.1L2510.1,782.2L2526.8,782.2L2543.4,782.2L2560.1,782.2L2576.8,782.2L2593.5,782.2L2610.2,782.2L2626.9,782.2L2643.6,782.2L2660.3,782.2L2677.0,782.2L2693.7,782.2L2710.4,782.2L2727.1,782.2L2743.8,782.2L2760.5,782.2L2777.2,782.2L2793.9,782.2L2810.6,782.2L2827.3,782.2L2844.0,782.2L2860.7,782.2L2877.4,782.2L2894.0,782.2L2910.7,782.2L2927.4,782.2L2944.1,782.2L2960.8,782.2"/>
<path d="M2109.4,740.6L2126.1,715.5L2142.8,739.9L2159.5,747.9L2176.2,773.4L2192.8,743.3L2209.5,651.5L2226.2,769.8L2242.9,680.8L2259.6,772.9L2276.3,758.6L2293.0,725.8L2309.7,774.8L2326.4,754.9L2343.1,773.4L2359.8,778.2L2376.5,776.9L2393.2,778.2L2409.9,780.2L2426.6,779.4L2443.3,780.2L2460.0,781.9L2476.7,781.9L2493.4,782.2L2510.1,782.2L2526.8,782.2L2543.4,782.2L2560.1,782.2L2576.8,782.2L2593.5,782.2L2610.2,782.2L2626.9,782.2L2643.6,782.2L2660.3,782.2L2677.0,782.2L2693.7,782.2L2710.4,782.2L2727.1,782.2L2743.8,782.2L2760.5,782.2L2777.2,782.2L2793.9,782.2L2810.6,782.2L2827.3,782.2L2844.0,782.2L2860.7,782.2L2877.4,782.2L2894.0,782.2L2910.7,782.2L2927.4,782.2L2944.1,782.2L2960.8,782.2"/>
<path d="M2109.4,749.1L2126.1,698.9L2142.8,764.5L2159.5,751.8L2176.2,666.4L2192.8,723.2L2209.5,633.2L2226.2,616.9L2242.9,646.0L2259.6,774.8L2276.3,672.8L2293.0,723.6L2309.7,732.4L2326.4,762.2L2343.1,766.3L2359.8,773.3L2376.5,773.8L2393.2,770.1L2409.9,781.0L2426.6,781.9L2443.3,781.7L2460.0,781.8L2476.7,782.1L2493.4,782.1L2510.1,782.2L2526.8,782.2L2543.4,782.2L2560.1,782.2L2576.8,782.2L2593.5,782.2L2610.2,782.2L2626.9,782.2L2643.6,782.2L2660.3,782.2L2677.0,782.2L2693.7,782.2L2710.4,782.2L2727.1,782.2L2743.8,782.2L2760.5,782.2L2777.2,782.2L2793.9,782.2L2810.6,782.2L2827.3,782.2L2844.0,782.2L2860.7,782.2L2877.4,782.2L2894.0,782.2L2910.7,782.2L2927.4,782.2L2944.1,782.2L2960.8,782.2"/>
</g>
<path class="obs" d="M2109.4,771.7L2126.1,781.0L2142.8,737.2L2159.5,694.1L2176.2,779.9L2192.8,669.7L2209.5,629.1L2226.2,714.9L2242.9,720.7L2259.6,722.6L2276.3,705.6L2293.0,757.8L2309.7,708.0L2326.4,767.0L2343.1,765.3L2359.8,780.4L2376.5,773.7L2393.2,774.5L2409.9,777.1L2426.6,781.8L2443.3,778.6L2460.0,780.1L2476.7,781.6L2493.4,781.1L2510.1,781.6L2526.8,781.9L2543.4,781.9L2560.1,781.9L2576.8,781.9L2593.5,781.9L2610.2,781.9L2626.9,781.9L2643.6,781.9L2660.3,781.9L2677.0,781.9L2693.7,781.9L2710.4,781.9L2727.1,781.9L2743.8,781.9L2760.5,781.9L2777.2,781.9L2793.9,781.9L2810.6,781.9L2827.3,781.9L2844.0,781.9L2860.7,781.9L2877.4,781.9L2894.0,781.9L2910.7,781.9L2927.4,781.9L2944.1,781.9L2960.8,781.9"/>
</g>
<text class="ttl" x="2535.1" y="119.0" text-anchor="middle">product=P2</text>
</g>
<g id="panel-P3">
<rect x="153.0" y="881.0" width="937.0" height="678.0" fill="#eeeeee"/>
<path class="grid" d="M196.0,881.0V1559.0M363.0,881.0V1559.0M530.0,881.0V1559.0M697.0,881.0V1559.0M864.0,881.0V1559.0M1031.0,881.0V1559.0M153.3,1528.0H1089.9M153.3,1410.0H1089.9M153.3,1292.0H1089.9M153.3,1173.0H1089.9M153.3,1055.0H1089.9M153.3,937.0H1089.9"/>
<g>
<path class="band" fill="#c10c90" stroke="#c10c90" d="M195.9,1442.4L212.6,1400.6L229.3,1338.0L246.0,1270.7L262.7,1215.1L279.3,1172.8L296.0,1164.0L312.7,1196.5L329.4,1256.8L346.1,1317.1L362.8,1377.4L379.5,1421.5L396.2,1463.2L412.9,1486.4L429.6,1500.4L446.3,1510.8L463.0,1516.6L479.7,1521.2L496.4,1524.0L513.1,1525.9L529.8,1527.0L546.5,1527.6L563.2,1527.9L579.9,1528.2L596.6,1528.2L613.3,1528.2L629.9,1528.2L646.6,1528.2L663.3,1528.2L680.0,1528.2L696.7,1528.2L713.4,1528.2L730.1,1528.2L746.8,1528.2L763.5,1528.2L780.2,1528.2L796.9,1528.2L813.6,1528.2L830.3,1528.2L847.0,1528.2L863.7,1528.2L880.4,1528.2L897.1,1528.2L913.8,1528.2L930.5,1528.2L947.2,1528.2L963.9,1528.2L980.5,1528.2L997.2,1528.2L1013.9,1528.2L1030.6,1528.2L1047.3,1528.2L1047.3,1528.2L195.9,1528.2Z"/>
<g class="dr" stroke="#c10c90">
<path d="M195.9,1379.1L212.6,1305.8L229.3,1364.9L246.0,1457.2L262.7,1498.5L279.3,1507.1L296.0,1477.5L312.7,1356.5L329.4,1392.5L346.1,1513.5L362.8,1506.2L379.5,1505.2L396.2,1521.3L412.9,1522.9L429.6,1519.5L446.3,1526.4L463.0,1522.0L479.7,1526.9L496.4,1527.9L513.1,1527.6L529.8,1527.6L546.5,1527.9L563.2,1528.0L579.9,1528.2L596.6,1528.2L613.3,1528.2L629.9,1528.2L646.6,1528.2L663.3,1528.2L680.0,1528.2L696.7,1528.2L713.4,1528.2L730.1,1528.2L746.8,1528.2L763.5,1528.2L780.2,1528.2L796.9,1528.2L813.6,1528.2L830.3,1528.2L847.0,1528.2L863.7,1528.2L880.4,1528.2L897.1,1528.2L913.8,1528.2L930.5,1528.2L947.2,1528.2L963.9,1528.2L980.5,1528.2L997.2,1528.2L1013.9,1528.2L1030.6,1528.2L1047.3,1528.2"/>
<path d="M195.9,1487.7L212.6,1495.9L229.3,1469.2L246.0,1456.3L262.7,1511.1L279.3,1437.9L296.0,1424.4L312.7,1338.9L329.4,1180.4L346.1,1413.1L362.8,1517.3L379.5,1512.4L396.2,1510.5L412.9,1522.5L429.6,1525.3L446.3,1527.7L463.0,1526.5L479.7,1527.6L496.4,1527.3L513.1,1527.7L529.8,1527.8L546.5,1527.9L563.2,1528.2L579.9,1528.2L596.6,1528.2L613.3,1528.2L629.9,1528.2L646.6,1528.2L663.3,1528.2L680.0,1528.2L696.7,1528.2L713.4,1528.2L730.1,1528.2L746.8,1528.2L763.5,1528.2L780.2,1528.2L796.9,1528.2L813.6,1528.2L830.3,1528.2L847.0,1528.2L863.7,1528.2L880.4,1528.2L897.1,1528.2L913.8,1528.2L930.5,1528.2L947.2,1528.2L963.9,1528.2L980.5,1528.2L997.2,1528.2L1013.9,1528.2L1030.6,1528.2L1047.3,1528.2"/>
<path d="M195.9,1498.6L212.6,1458.5L229.3,1440.3L246.0,1452.7L262.7,1413.7L279.3,1416.8L296.0,1453.5L312.7,1511.2L329.4,1215.9L346.1,1494.0L362.8,1513.6L379.5,1513.0L396.2,1517.1L412.9,1499.5L429.6,1526.3L446.3,1525.2L463.0,1524.1L479.7,1527.8L496.4,1527.3L513.1,1527.2L529.8,1528.0L546.5,1528.1L563.2,1528.2L579.9,1528.2L596.6,1528.2L613.3,1528.2L629.9,1528.2L646.6,1528.2L663.3,1528.2L680.0,1528.2L696.7,1528.2L713.4,1528.2L730.1,1528.2L746.8,1528.2L763.5,1528.2L780.2,1528.2L796.9,1528.2L813.6,1528.2L830.3,1528.2L847.0,1528.2L863.7,1528.2L880.4,1528.2L897.1,1528.2L913.8,1528.2L930.5,1528.2L947.2,1528.2L963.9,1528.2L980.5,1528.2L997.2,1528.2L1013.9,1528.2L1030.6,1528.2L1047.3,1528.2"/>
<path d="M195.9,1452.2L212.6,1495.4L229.3,1451.5L246.0,1359.7L262.7,1265.0L279.3,1260.1L296.0,1489.9L312.7,1208.8L329.4,1433.2L346.1,1500.3L362.8,1514.9L379.5,1509.1L396.2,1514.2L412.9,1521.7L429.6,1502.2L446.3,1524.4L463.0,1526.1L479.7,1526.8L496.4,1527.9L513.1,1527.9L529.8,1527.8L546.5,1528.1L563.2,1528.0L579.9,1528.2L596.6,1528.2L613.3,1528.2L629.9,1528.2L646.6,1528.2L663.3,1528.2L680.0,1528.2L696.7,1528.2L713.4,1528.2L730.1,1528.2L746.8,1528.2L763.5,1528.2L780.2,1528.2L796.9,1528.2L813.6,1528.2L830.3,1528.2L847.0,1528.2L863.7,1528.2L880.4,1528.2L897.1,1528.2L913.8,1528.2L930.5,1528.2L947.2,1528.2L963.9,1528.2L980.5,1528.2L997.2,1528.2L1013.9,1528.2L1030.6,1528.2L1047.3,1528.2"/>
<path d="M195.9,1486.7L212.6,1480.2L229.3,1501.0L246.0,1358.1L262.7,1417.8L279.3,1376.8L296.0,1225.3L312.7,1464.2L329.4,1489.7L346.1,1420.4L362.8,1512.5L379.5,1492.8L396.2,1522.8L412.9,1526.4L429.6,1504.8L446.3,1513.4L463.0,1526.4L479.7,1527.8L496.4,1527.6L513.1,1527.8L529.8,1528.0L546.5,1527.8L563.2,1528.1L579.9,1528.2L596.6,1528.2L613.3,1528.2L629.9,1528.2L646.6,1528.2L663.3,1528.2L680.0,1528.2L696.7,1528.2L713.4,1528.2L730.1,1528.2L746.8,1528.2L763.5,1528.2L780.2,1528.2L796.9,1528.2L813.6,1528.2L830.3,1528.2L847.0,1528.2L863.7,1528.2L880.4,1528.2L897.1,1528.2L913.8,1528.2L930.5,1528.2L947.2,1528.2L963.9,1528.2L980.5,1528.2L997.2,1528.2L1013.9,1528.2L1030.6,1528.2L1047.3,1528.2"/>
<path d="M195.9,1501.5L212.6,1451.5L229.3,1497.5L246.0,1516.0L262.7,1201.7L279.3,1230.1L296.0,1457.2L312.7,1408.4L329.4,1417.5L346.1,1521.2L362.8,1504.8L379.5,1499.7L396.2,1517.5L412.9,1495.2L429.6,1520.5L446.3,1518.9L463.0,1527.6L479.7,1526.0L496.4,1525.7L513.1,1528.0L529.8,1527.5L546.5,1528.1L563.2,1528.1L579.9,1528.2L596.6,1528.2L613.3,1528.2L629.9,1528.2L646.6,1528.2L663.3,1528.2L680.0,1528.2L696.7,1528.2L713.4,1528.2L730.1,1528.2L746.8,1528.2L763.5,1528.2L780.2,1528.2L796.9,1528.2L813.6,1528.2L830.3,1528.2L847.0,1528.2L863.7,1528.2L880.4,1528.2L897.1,1528.2L913.8,1528.2L930.5,1528.2L947.2,1528.2L963.9,1528.2L980.5,1528.2L997.2,1528.2L1013.9,1528.2L1030.6,1528.2L1047.3,1528.2"/>
<path d="M195.9,1479.8L212.6,1488.0L229.3,1501.6L246.0,1246.6L262.7,1396.4L279.3,1421.0L296.0,1496.6L312.7,1453.2L329.4,1377.1L346.1,1497.9L362.8,1489.8L379.5,1480.0L396.2,1519.2L412.9,1508.1L429.6,1525.7L446.3,1522.6L463.0,1527.7L479.7,1522.0L496.4,1527.3L513.1,1528.0L529.8,1528.1L546.5,1528.2L563.2,1528.0L579.9,1528.2L596.6,1528.2L613.3,1528.2L629.9,1528.2L646.6,1528.2L663.3,1528.2L680.0,1528.2L696.7,1528.2L713.4,1528.2L730.1,1528.2L746.8,1528.2L763.5,1528.2L780.2,1528.2L796.9,1528.2L813.6,1528.2L830.3,1528.2L847.0,1528.2L863.7,1528.2L880.4,1528.2L897.1,1528.2L913.8,1528.2L930.5,1528.2L947.2,1528.2L963.9,1528.2L980.5,1528.2L997.2,1528.2L1013.9,1528.2L1030.6,1528.2L1047.3,1528.2"/>
<path d="M195.9,1473.7L212.6,1468.8L229.3,1277.4L246.0,1508.3L262.7,1429.7L279.3,1222.1L296.0,1493.2L312.7,1464.3L329.4,1460.1L346.1,1477.9L362.8,1484.3L379.5,1495.2L396.2,1484.2L412.9,1523.3L429.6,1520.4L446.3,1518.3L463.0,1525.7L479.7,1523.8L496.4,1528.1L513.1,1527.4L529.8,1527.2L546.5,1528.1L563.2,1528.0L579.9,1528.2L596.6,1528.2L613.3,1528.2L629.9,1528.2L646.6,1528.2L663.3,1528.2L680.0,1528.2L696.7,1528.2L713.4,1528.2L730.1,1528.2L746.8,1528.2L763.5,1528.2L780.2,1528.2L796.9,1528.2L813.6,1528.2L830.3,1528.2L847.0,1528.2L863.7,1528.2L880.4,1528.2L897.1,1528.2L913.8,1528.2L930.5,1528.2L947.2,1528.2L963.9,1528.2L980.5,1528.2L997.2,1528.2L1013.9,1528.2L1030.6,1528.2L1047.3,1528.2"/>
<path d="M195.9,1502.7L212.6,1465.8L229.3,1430.8L246.0,1501.0L262.7,1480.1L279.3,1284.5L296.0,1499.8L312.7,1439.2L329.4,1512.7L346.1,1479.8L362.8,1512.6L379.5,1513.8L396.2,1526.0L412.9,1508.3L429.6,1526.9L446.3,1523.7L463.0,1523.1L479.7,1527.0L496.4,1527.4L513.1,1528.1L529.8,1528.0L546.5,1527.8L563.2,1528.1L579.9,1528.2L596.6,1528.2L613.3,1528.2L629.9,1528.2L646.6,1528.2L663.3,1528.2L680.0,1528.2L696.7,1528.2L713.4,1528.2L730.1,1528.2L746.8,1528.2L763.5,1528.2L780.2,1528.2L796.9,1528.2L813.6,1528.2L830.3,1528.2L847.0,1528.2L863.7,1528.2L880.4,1528.2L897.1,1528.2L913.8,1528.2L930.5,1528.2L947.2,1528.2L963.9,1528.2L980.5,1528.2L997.2,1528.2L1013.9,1528.2L1030.6,1528.2L1047.3,1528.2"/>
<path d="M195.9,1485.8L212.6,1437.8L229.3,1463.9L246.0,1492.8L262.7,1369.9L279.3,1454.7L296.0,1500.0L312.7,1256.1L329.4,1297.4L346.1,1474.1L362.8,1459.6L379.5,1502.6L396.2,1519.4L412.9,1512.2L429.6,1524.7L446.3,1516.3L463.0,1521.8L479.7,1526.7L496.4,1526.0L513.1,1527.9L529.8,1527.9L546.5,1528.2L563.2,1528.1L579.9,1528.2L596.6,1528.2L613.3,1528.2L629.9,1528.2L646.6,1528.2L663.3,1528.2L680.0,1528.2L696.7,1528.2L713.4,1528.2L730.1,1528.2L746.8,1528.2L763.5,1528.2L780.2,1528.2L796.9,1528.2L813.6,1528.2L830.3,1528.2L847.0,1528.2L863.7,1528.2L880.4,1528.2L897.1,1528.2L913.8,1528.2L930.5,1528.2L947.2,1528.2L963.9,1528.2L980.5,1528.2L997.2,1528.2L1013.9,1528.2L1030.6,1528.2L1047.3,1528.2"/>
<path d="M195.9,1488.4L212.6,1463.6L229.3,1491.0L246.0,1293.4L262.7,1423.0L279.3,1327.4L296.0,1421.8L312.7,1239.0L329.4,1410.1L346.1,1409.9L362.8,1491.1L379.5,1524.3L396.2,1525.4L412.9,1521.0L429.6,1521.0L446.3,1523.2L463.0,1526.3L479.7,1525.6L496.4,1527.3L513.1,1527.0L529.8,1528.0L546.5,1528.0L563.2,1528.1L579.9,1528.2L596.6,1528.2L613.3,1528.2L629.9,1528.2L646.6,1528.2L663.3,1528.2L680.0,1528.2L696.7,1528.2L713.4,1528.2L730.1,1528.2L746.8,1528.2L763.5,1528.2L780.2,1528.2L796.9,1528.2L813.6,1528.2L830.3,1528.2L847.0,1528.2L863.7,1528.2L880.4,1528.2L897.1,1528.2L913.8,1528.2L930.5,1528.2L947.2,1528.2L963.9,1528.2L980.5,1528.2L997.2,1528.2L1013.9,1528.2L1030.6,1528.2L1047.3,1528.2"/>
<path d="M195.9,1504.0L212.6,1469.6L229.3,1515.9L246.0,1359.8L262.7,1483.1L279.3,1505.9L296.0,1439.5L312.7,1252.5L329.4,1458.0L346.1,1493.4L362.8,1440.7L379.5,1443.0L396.2,1485.6L412.9,1523.6L429.6,1524.8L446.3,1524.5L463.0,1525.2L479.7,1526.3L496.4,1526.9L513.1,1527.1L529.8,1527.7L546.5,1527.8L563.2,1528.1L579.9,1528.2L596.6,1528.2L613.3,1528.2L629.9,1528.2L646.6,1528.2L663.3,1528.2L680.0,1528.2L696.7,1528.2L713.4,1528.2L730.1,1528.2L746.8,1528.2L763.5,1528.2L780.2,1528.2L796.9,1528.2L813.6,1528.2L830.3,1528.2L847.0,1528.2L863.7,1528.2L880.4,1528.2L897.1,1528.2L913.8,1528.2L930.5,1528.2L947.2,1528.2L963.9,1528.2L980.5,1528.2L997.2,1528.2L1013.9,1528.2L1030.6,1528.2L1047.3,1528.2"/>
<path d="M195.9,1480.1L212.6,1453.2L229.3,1405.8L246.0,1401.7L262.7,1512.0L279.3,1284.7L296.0,1318.2L312.7,1461.2L329.4,1453.7L346.1,1472.8L362.8,1499.0L379.5,1512.4L396.2,1515.8L412.9,1522.7L429.6,1524.0L446.3,1521.6L463.0,1527.0L479.7,1518.2L496.4,1525.8L513.1,1527.7L529.8,1527.5L546.5,1528.0L563.2,1528.0L579.9,1528.2L596.6,1528.2L613.3,1528.2L629.9,1528.2L646.6,1528.2L663.3,1528.2L680.0,1528.2L696.7,1528.2L713.4,1528.2L730.1,1528.2L746.8,1528.2L763.5,1528.2L780.2,1528.2L796.9,1528.2L813.6,1528.2L830.3,1528.2L847.0,1528.2L863.7,1528.2L880.4,1528.2L897.1,1528.2L913.8,1528.2L930.5,1528.2L947.2,1528.2L963.9,1528.2L980.5,1528.2L997.2,1528.2L1013.9,1528.2L1030.6,1528.2L1047.3,1528.2"/>
<path d="M195.9,1493.9L212.6,1508.3L229.3,1452.6L246.0,1485.0L262.7,1502.9L279.3,1465.5L296.0,1417.9L312.7,1431.6L329.4,1487.4L346.1,1449.6L362.8,1523.1L379.5,1467.1L396.2,1502.2L412.9,1514.6L429.6,1522.7L446.3,1522.8L463.0,1525.6L479.7,1527.4L496.4,1526.6L513.1,1527.2L529.8,1528.0L546.5,1528.1L563.2,1528.1L579.9,1528.2L596.6,1528.2L613.3,1528.2L629.9,1528.2L646.6,1528.2L663.3,1528.2L680.0,1528.2L696.7,1528.2L713.4,1528.2L730.1,1528.2L746.8,1528.2L763.5,1528.2L780.2,1528.2L796.9,1528.2L813.6,1528.2L830.3,1528.2L847.0,1528.2L863.7,1528.2L880.4,1528.2L897.1,1528.2L913.8,1528.2L930.5,1528.2L947.2,1528.2L963.9,1528.2L980.5,1528.2L997.2,1528.2L1013.9,1528.2L1030.6,1528.2L1047.3,1528.2"/>
<path d="M195.9,1471.5L212.6,1494.1L229.3,1471.6L246.0,1449.1L262.7,1474.3L279.3,1365.9L296.0,1450.4L312.7,1462.0L329.4,1425.0L346.1,1412.4L362.8,1501.2L379.5,1515.1L396.2,1511.9L412.9,1491.2L429.6,1524.1L446.3,1517.6L463.0,1525.8L479.7,1527.6L496.4,1526.4L513.1,1527.6L529.8,1527.7L546.5,1528.1L563.2,1528.2L579.9,1528.2L596.6,1528.2L613.3,1528.2L629.9,1528.2L646.6,1528.2L663.3,1528.2L680.0,1528.2L696.7,1528.2L713.4,1528.2L730.1,1528.2L746.8,1528.2L763.5,1528.2L780.2,1528.2L796.9,1528.2L813.6,1528.2L830.3,1528.2L847.0,1528.2L863.7,1528.2L880.4,1528.2L897.1,1528.2L913.8,1528.2L930.5,1528.2L947.2,1528.2L963.9,1528.2L980.5,1528.2L997.2,1528.2L1013.9,1528.2L1030.6,1528.2L1047.3,1528.2"/>
</g>
<path class="obs" d="M195.9,1493.4L212.6,1464.4L229.3,1472.5L246.0,1437.3L262.7,1494.5L279.3,1525.9L296.0,1460.4L312.7,1444.7L329.4,1470.2L346.1,1326.4L362.8,1492.9L379.5,1491.5L396.2,1518.9L412.9,1471.4L429.6,1523.1L446.3,1523.7L463.0,1524.6L479.7,1525.0L496.4,1525.9L513.1,1526.7L529.8,1527.3L546.5,1527.9L563.2,1528.0L579.9,1527.9L596.6,1527.9L613.3,1527.9L629.9,1527.9L646.6,1527.9L663.3,1527.9L680.0,1527.9L696.7,1527.9L713.4,1527.9L730.1,1527.9L746.8,1527.9L763.5,1527.9L780.2,1527.9L796.9,1527.9L813.6,1527.9L830.3,1527.9L847.0,1527.9L863.7,1527.9L880.4,1527.9L897.1,1527.9L913.8,1527.9L930.5,1527.9L947.2,1527.9L963.9,1527.9L980.5,1527.9L997.2,1527.9L1013.9,1527.9L1030.6,1527.9L1047.3,1527.9"/>
</g>
<text class="ttl" x="621.6" y="865.0" text-anchor="middle">product=P3</text>
<text class="tick" x="144.6" y="1543.2" text-anchor="end">0</text>
<text class="tick" x="144.6" y="1424.9" text-anchor="end">5000</text>
<text class="tick" x="144.6" y="1306.6" text-anchor="end">10000</text>
<text class="tick" x="144.6" y="1188.3" text-anchor="end">15000</text>
<text class="tick" x="144.6" y="1070.0" text-anchor="end">20000</text>
<text class="tick" x="144.6" y="951.7" text-anchor="end">25000</text>
</g>
<g id="panel-P4">
<rect x="1110.0" y="881.0" width="937.0" height="678.0" fill="#eeeeee"/>
<path class="grid" d="M1153.0,881.0V1559.0M1320.0,881.0V1559.0M1486.0,881.0V1559.0M1653.0,881.0V1559.0M1820.0,881.0V1559.0M1987.0,881.0V1559.0M1110.0,1528.0H2046.6M1110.0,1410.0H2046.6M1110.0,1292.0H2046.6M1110.0,1173.0H2046.6M1110.0,1055.0H2046.6M1110.0,937.0H2046.6"/>
<g>
<path class="band" fill="#933708" stroke="#933708" d="M1152.6,1444.7L1169.3,1407.6L1186.0,1365.8L1202.7,1324.1L1219.4,1287.0L1236.0,1252.2L1252.7,1225.5L1269.4,1213.2L1286.1,1230.1L1302.8,1259.1L1319.5,1307.8L1336.2,1349.6L1352.9,1391.3L1369.6,1426.1L1386.3,1456.3L1403.0,1477.1L1419.7,1491.1L1436.4,1502.7L1453.1,1510.8L1469.8,1516.6L1486.5,1521.2L1503.2,1523.5L1519.9,1525.4L1536.6,1526.3L1553.3,1527.2L1570.0,1527.7L1586.6,1528.2L1603.3,1528.2L1620.0,1528.2L1636.7,1528.2L1653.4,1528.2L1670.1,1528.2L1686.8,1528.2L1703.5,1528.2L1720.2,1528.2L1736.9,1528.2L1753.6,1528.2L1770.3,1528.2L1787.0,1528.2L1803.7,1528.2L1820.4,1528.2L1837.1,1528.2L1853.8,1528.2L1870.5,1528.2L1887.2,1528.2L1903.9,1528.2L1920.6,1528.2L1937.2,1528.2L1953.9,1528.2L1970.6,1528.2L1987.3,1528.2L2004.0,1528.2L2004.0,1528.2L1152.6,1528.2Z"/>
<g class="dr" stroke="#933708">
<path d="M1152.6,1493.7L1169.3,1490.6L1186.0,1504.1L1202.7,1409.9L1219.4,1114.1L1236.0,1431.2L1252.7,1450.1L1269.4,1478.7L1286.1,1359.4L1302.8,1502.7L1319.5,1496.7L1336.2,1507.0L1352.9,1507.8L1369.6,1520.6L1386.3,1519.2L1403.0,1520.8L1419.7,1509.2L1436.4,1521.2L1453.1,1527.4L1469.8,1524.6L1486.5,1527.9L1503.2,1526.7L1519.9,1526.8L1536.6,1527.9L1553.3,1527.9L1570.0,1528.1L1586.6,1528.2L1603.3,1528.2L1620.0,1528.2L1636.7,1528.2L1653.4,1528.2L1670.1,1528.2L1686.8,1528.2L1703.5,1528.2L1720.2,1528.2L1736.9,1528.2L1753.6,1528.2L1770.3,1528.2L1787.0,1528.2L1803.7,1528.2L1820.4,1528.2L1837.1,1528.2L1853.8,1528.2L1870.5,1528.2L1887.2,1528.2L1903.9,1528.2L1920.6,1528.2L1937.2,1528.2L1953.9,1528.2L1970.6,1528.2L1987.3,1528.2L2004.0,1528.2"/>
<path d="M1152.6,1488.2L1169.3,1488.5L1186.0,1456.9L1202.7,1499.0L1219.4,1399.1L1236.0,1443.3L1252.7,1462.1L1269.4,1500.3L1286.1,1256.1L1302.8,1199.3L1319.5,1433.5L1336.2,1516.8L1352.9,1512.6L1369.6,1491.2L1386.3,1522.4L1403.0,1510.5L1419.7,1502.7L1436.4,1523.6L1453.1,1526.7L1469.8,1525.0L1486.5,1526.7L1503.2,1528.0L1519.9,1528.0L1536.6,1527.7L1553.3,1527.9L1570.0,1528.0L1586.6,1528.2L1603.3,1528.2L1620.0,1528.2L1636.7,1528.2L1653.4,1528.2L1670.1,1528.2L1686.8,1528.2L1703.5,1528.2L1720.2,1528.2L1736.9,1528.2L1753.6,1528.2L1770.3,1528.2L1787.0,1528.2L1803.7,1528.2L1820.4,1528.2L1837.1,1528.2L1853.8,1528.2L1870.5,1528.2L1887.2,1528.2L1903.9,1528.2L1920.6,1528.2L1937.2,1528.2L1953.9,1528.2L1970.6,1528.2L1987.3,1528.2L2004.0,1528.2"/>
<path d="M1152.6,1476.7L1169.3,1488.7L1186.0,1454.7L1202.7,1469.2L1219.4,1437.7L1236.0,1495.2L1252.7,1493.2L1269.4,1218.2L1286.1,1481.3L1302.8,1502.4L1319.5,1351.7L1336.2,1441.4L1352.9,1522.0L1369.6,1515.6L1386.3,1486.6L1403.0,1524.8L1419.7,1523.7L1436.4,1525.1L1453.1,1522.5L1469.8,1527.7L1486.5,1527.1L1503.2,1527.9L1519.9,1526.5L1536.6,1527.7L1553.3,1527.8L1570.0,1528.1L1586.6,1528.2L1603.3,1528.2L1620.0,1528.2L1636.7,1528.2L1653.4,1528.2L1670.1,1528.2L1686.8,1528.2L1703.5,1528.2L1720.2,1528.2L1736.9,1528.2L1753.6,1528.2L1770.3,1528.2L1787.0,1528.2L1803.7,1528.2L1820.4,1528.2L1837.1,1528.2L1853.8,1528.2L1870.5,1528.2L1887.2,1528.2L1903.9,1528.2L1920.6,1528.2L1937.2,1528.2L1953.9,1528.2L1970.6,1528.2L1987.3,1528.2L2004.0,1528.2"/>
<path d="M1152.6,1496.4L1169.3,1456.6L1186.0,1438.1L1202.7,1466.3L1219.4,1518.1L1236.0,1482.1L1252.7,1469.8L1269.4,1239.5L1286.1,1361.5L1302.8,1355.0L1319.5,1507.3L1336.2,1443.8L1352.9,1513.8L1369.6,1488.9L1386.3,1523.1L1403.0,1520.5L1419.7,1495.2L1436.4,1523.9L1453.1,1524.0L1469.8,1522.2L1486.5,1527.5L1503.2,1527.5L1519.9,1526.0L1536.6,1527.4L1553.3,1527.5L1570.0,1528.1L1586.6,1528.2L1603.3,1528.2L1620.0,1528.2L1636.7,1528.2L1653.4,1528.2L1670.1,1528.2L1686.8,1528.2L1703.5,1528.2L1720.2,1528.2L1736.9,1528.2L1753.6,1528.2L1770.3,1528.2L1787.0,1528.2L1803.7,1528.2L1820.4,1528.2L1837.1,1528.2L1853.8,1528.2L1870.5,1528.2L1887.2,1528.2L1903.9,1528.2L1920.6,1528.2L1937.2,1528.2L1953.9,1528.2L1970.6,1528.2L1987.3,1528.2L2004.0,1528.2"/>
<path d="M1152.6,1502.0L1169.3,1419.3L1186.0,1490.8L1202.7,1435.1L1219.4,1509.7L1236.0,1497.5L1252.7,1441.9L1269.4,1453.6L1286.1,1232.4L1302.8,1503.6L1319.5,1496.8L1336.2,1521.0L1352.9,1485.0L1369.6,1512.3L1386.3,1498.4L1403.0,1514.8L1419.7,1511.6L1436.4,1526.5L1453.1,1526.2L1469.8,1525.9L1486.5,1526.4L1503.2,1525.8L1519.9,1527.7L1536.6,1528.0L1553.3,1528.0L1570.0,1527.8L1586.6,1528.2L1603.3,1528.2L1620.0,1528.2L1636.7,1528.2L1653.4,1528.2L1670.1,1528.2L1686.8,1528.2L1703.5,1528.2L1720.2,1528.2L1736.9,1528.2L1753.6,1528.2L1770.3,1528.2L1787.0,1528.2L1803.7,1528.2L1820.4,1528.2L1837.1,1528.2L1853.8,1528.2L1870.5,1528.2L1887.2,1528.2L1903.9,1528.2L1920.6,1528.2L1937.2,1528.2L1953.9,1528.2L1970.6,1528.2L1987.3,1528.2L2004.0,1528.2"/>
<path d="M1152.6,1496.2L1169.3,1491.6L1186.0,1520.2L1202.7,1474.0L1219.4,1446.4L1236.0,1503.3L1252.7,1461.1L1269.4,1485.4L1286.1,1275.0L1302.8,1500.7L1319.5,1500.9L1336.2,1506.5L1352.9,1485.7L1369.6,1502.3L1386.3,1518.7L1403.0,1507.3L1419.7,1524.0L1436.4,1527.0L1453.1,1516.4L1469.8,1526.8L1486.5,1527.5L1503.2,1525.5L1519.9,1528.0L1536.6,1527.7L1553.3,1527.8L1570.0,1528.1L1586.6,1528.2L1603.3,1528.2L1620.0,1528.2L1636.7,1528.2L1653.4,1528.2L1670.1,1528.2L1686.8,1528.2L1703.5,1528.2L1720.2,1528.2L1736.9,1528.2L1753.6,1528.2L1770.3,1528.2L1787.0,1528.2L1803.7,1528.2L1820.4,1528.2L1837.1,1528.2L1853.8,1528.2L1870.5,1528.2L1887.2,1528.2L1903.9,1528.2L1920.6,1528.2L1937.2,1528.2L1953.9,1528.2L1970.6,1528.2L1987.3,1528.2L2004.0,1528.2"/>
<path d="M1152.6,1511.6L1169.3,1464.0L1186.0,1465.3L1202.7,1416.3L1219.4,1513.3L1236.0,1480.3L1252.7,1390.1L1269.4,1498.9L1286.1,1516.6L1302.8,1282.1L1319.5,1493.5L1336.2,1444.6L1352.9,1513.4L1369.6,1492.6L1386.3,1493.5L1403.0,1524.3L1419.7,1522.1L1436.4,1524.7L1453.1,1520.2L1469.8,1525.9L1486.5,1527.8L1503.2,1527.8L1519.9,1527.0L1536.6,1527.3L1553.3,1527.9L1570.0,1527.8L1586.6,1528.2L1603.3,1528.2L1620.0,1528.2L1636.7,1528.2L1653.4,1528.2L1670.1,1528.2L1686.8,1528.2L1703.5,1528.2L1720.2,1528.2L1736.9,1528.2L1753.6,1528.2L1770.3,1528.2L1787.0,1528.2L1803.7,1528.2L1820.4,1528.2L1837.1,1528.2L1853.8,1528.2L1870.5,1528.2L1887.2,1528.2L1903.9,1528.2L1920.6,1528.2L1937.2,1528.2L1953.9,1528.2L1970.6,1528.2L1987.3,1528.2L2004.0,1528.2"/>
<path d="M1152.6,1487.3L1169.3,1495.7L1186.0,1481.4L1202.7,1509.1L1219.4,1517.1L1236.0,1396.1L1252.7,1425.0L1269.4,1400.1L1286.1,1423.0L1302.8,1470.5L1319.5,1505.9L1336.2,1507.8L1352.9,1441.1L1369.6,1395.7L1386.3,1523.9L1403.0,1511.1L1419.7,1517.5L1436.4,1519.3L1453.1,1525.9L1469.8,1526.4L1486.5,1527.3L1503.2,1527.8L1519.9,1527.1L1536.6,1527.4L1553.3,1528.0L1570.0,1528.2L1586.6,1528.2L1603.3,1528.2L1620.0,1528.2L1636.7,1528.2L1653.4,1528.2L1670.1,1528.2L1686.8,1528.2L1703.5,1528.2L1720.2,1528.2L1736.9,1528.2L1753.6,1528.2L1770.3,1528.2L1787.0,1528.2L1803.7,1528.2L1820.4,1528.2L1837.1,1528.2L1853.8,1528.2L1870.5,1528.2L1887.2,1528.2L1903.9,1528.2L1920.6,1528.2L1937.2,1528.2L1953.9,1528.2L1970.6,1528.2L1987.3,1528.2L2004.0,1528.2"/>
<path d="M1152.6,1504.0L1169.3,1489.5L1186.0,1438.1L1202.7,1520.6L1219.4,1473.3L1236.0,1477.1L1252.7,1484.7L1269.4,1416.8L1286.1,1404.4L1302.8,1409.6L1319.5,1421.3L1336.2,1348.4L1352.9,1523.7L1369.6,1486.5L1386.3,1494.0L1403.0,1499.6L1419.7,1526.1L1436.4,1518.8L1453.1,1524.2L1469.8,1526.7L1486.5,1521.9L1503.2,1527.5L1519.9,1528.1L1536.6,1527.0L1553.3,1528.0L1570.0,1528.0L1586.6,1528.2L1603.3,1528.2L1620.0,1528.2L1636.7,1528.2L1653.4,1528.2L1670.1,1528.2L1686.8,1528.2L1703.5,1528.2L1720.2,1528.2L1736.9,1528.2L1753.6,1528.2L1770.3,1528.2L1787.0,1528.2L1803.7,1528.2L1820.4,1528.2L1837.1,1528.2L1853.8,1528.2L1870.5,1528.2L1887.2,1528.2L1903.9,1528.2L1920.6,1528.2L1937.2,1528.2L1953.9,1528.2L1970.6,1528.2L1987.3,1528.2L2004.0,1528.2"/>
<path d="M1152.6,1492.8L1169.3,1485.3L1186.0,1465.3L1202.7,1424.8L1219.4,1381.0L1236.0,1494.3L1252.7,1455.7L1269.4,1372.0L1286.1,1448.1L1302.8,1356.4L1319.5,1498.3L1336.2,1487.6L1352.9,1412.3L1369.6,1440.8L1386.3,1509.6L1403.0,1501.6L1419.7,1516.1L1436.4,1514.8L1453.1,1523.5L1469.8,1526.9L1486.5,1526.3L1503.2,1527.5L1519.9,1526.2L1536.6,1527.4L1553.3,1528.0L1570.0,1528.1L1586.6,1528.2L1603.3,1528.2L1620.0,1528.2L1636.7,1528.2L1653.4,1528.2L1670.1,1528.2L1686.8,1528.2L1703.5,1528.2L1720.2,1528.2L1736.9,1528.2L1753.6,1528.2L1770.3,1528.2L1787.0,1528.2L1803.7,1528.2L1820.4,1528.2L1837.1,1528.2L1853.8,1528.2L1870.5,1528.2L1887.2,1528.2L1903.9,1528.2L1920.6,1528.2L1937.2,1528.2L1953.9,1528.2L1970.6,1528.2L1987.3,1528.2L2004.0,1528.2"/>
<path d="M1152.6,1485.6L1169.3,1481.7L1186.0,1520.1L1202.7,1359.3L1219.4,1431.9L1236.0,1453.1L1252.7,1516.0L1269.4,1514.3L1286.1,1480.4L1302.8,1461.6L1319.5,1480.3L1336.2,1483.7L1352.9,1483.3L1369.6,1501.8L1386.3,1499.9L1403.0,1524.9L1419.7,1511.0L1436.4,1524.2L1453.1,1518.5L1469.8,1523.4L1486.5,1523.7L1503.2,1526.6L1519.9,1528.0L1536.6,1528.1L1553.3,1527.5L1570.0,1528.1L1586.6,1528.2L1603.3,1528.2L1620.0,1528.2L1636.7,1528.2L1653.4,1528.2L1670.1,1528.2L1686.8,1528.2L1703.5,1528.2L1720.2,1528.2L1736.9,1528.2L1753.6,1528.2L1770.3,1528.2L1787.0,1528.2L1803.7,1528.2L1820.4,1528.2L1837.1,1528.2L1853.8,1528.2L1870.5,1528.2L1887.2,1528.2L1903.9,1528.2L1920.6,1528.2L1937.2,1528.2L1953.9,1528.2L1970.6,1528.2L1987.3,1528.2L2004.0,1528.2"/>
<path d="M1152.6,1451.1L1169.3,1486.4L1186.0,1439.1L1202.7,1499.0L1219.4,1455.3L1236.0,1455.4L1252.7,1487.6L1269.4,1457.0L1286.1,1497.9L1302.8,1519.0L1319.5,1460.2L1336.2,1408.6L1352.9,1422.4L1369.6,1482.2L1386.3,1522.7L1403.0,1522.3L1419.7,1525.1L1436.4,1523.4L1453.1,1524.9L1469.8,1523.3L1486.5,1527.0L1503.2,1525.5L1519.9,1527.2L1536.6,1528.1L1553.3,1528.0L1570.0,1527.9L1586.6,1528.2L1603.3,1528.2L1620.0,1528.2L1636.7,1528.2L1653.4,1528.2L1670.1,1528.2L1686.8,1528.2L1703.5,1528.2L1720.2,1528.2L1736.9,1528.2L1753.6,1528.2L1770.3,1528.2L1787.0,1528.2L1803.7,1528.2L1820.4,1528.2L1837.1,1528.2L1853.8,1528.2L1870.5,1528.2L1887.2,1528.2L1903.9,1528.2L1920.6,1528.2L1937.2,1528.2L1953.9,1528.2L1970.6,1528.2L1987.3,1528.2L2004.0,1528.2"/>
<path d="M1152.6,1521.7L1169.3,1487.4L1186.0,1507.4L1202.7,1485.2L1219.4,1508.6L1236.0,1504.0L1252.7,1317.4L1269.4,1496.4L1286.1,1366.7L1302.8,1508.6L1319.5,1502.5L1336.2,1485.7L1352.9,1480.5L1369.6,1518.7L1386.3,1513.7L1403.0,1524.9L1419.7,1517.2L1436.4,1526.0L1453.1,1523.2L1469.8,1517.8L1486.5,1527.7L1503.2,1526.4L1519.9,1528.0L1536.6,1527.8L1553.3,1528.1L1570.0,1528.1L1586.6,1528.2L1603.3,1528.2L1620.0,1528.2L1636.7,1528.2L1653.4,1528.2L1670.1,1528.2L1686.8,1528.2L1703.5,1528.2L1720.2,1528.2L1736.9,1528.2L1753.6,1528.2L1770.3,1528.2L1787.0,1528.2L1803.7,1528.2L1820.4,1528.2L1837.1,1528.2L1853.8,1528.2L1870.5,1528.2L1887.2,1528.2L1903.9,1528.2L1920.6,1528.2L1937.2,1528.2L1953.9,1528.2L1970.6,1528.2L1987.3,1528.2L2004.0,1528.2"/>
<path d="M1152.6,1503.4L1169.3,1476.3L1186.0,1431.2L1202.7,1472.5L1219.4,1397.9L1236.0,1492.2L1252.7,1508.3L1269.4,1393.3L1286.1,1268.6L1302.8,1500.0L1319.5,1515.1L1336.2,1476.8L1352.9,1513.9L1369.6,1442.0L1386.3,1488.8L1403.0,1516.6L1419.7,1504.3L1436.4,1524.9L1453.1,1523.6L1469.8,1526.2L1486.5,1527.7L1503.2,1526.2L1519.9,1528.1L1536.6,1527.5L1553.3,1527.8L1570.0,1527.9L1586.6,1528.2L1603.3,1528.2L1620.0,1528.2L1636.7,1528.2L1653.4,1528.2L1670.1,1528.2L1686.8,1528.2L1703.5,1528.2L1720.2,1528.2L1736.9,1528.2L1753.6,1528.2L1770.3,1528.2L1787.0,1528.2L1803.7,1528.2L1820.4,1528.2L1837.1,1528.2L1853.8,1528.2L1870.5,1528.2L1887.2,1528.2L1903.9,1528.2L1920.6,1528.2L1937.2,1528.2L1953.9,1528.2L1970.6,1528.2L1987.3,1528.2L2004.0,1528.2"/>
<path d="M1152.6,1500.1L1169.3,1464.9L1186.0,1519.6L1202.7,1475.4L1219.4,1453.7L1236.0,1473.0L1252.7,1452.3L1269.4,1289.2L1286.1,1489.0L1302.8,1509.8L1319.5,1484.6L1336.2,1477.5L1352.9,1472.2L1369.6,1523.4L1386.3,1522.9L1403.0,1520.7L1419.7,1516.7L1436.4,1525.9L1453.1,1525.2L1469.8,1523.8L1486.5,1526.3L1503.2,1527.8L1519.9,1526.3L1536.6,1527.9L1553.3,1527.9L1570.0,1527.9L1586.6,1528.2L1603.3,1528.2L1620.0,1528.2L1636.7,1528.2L1653.4,1528.2L1670.1,1528.2L1686.8,1528.2L1703.5,1528.2L1720.2,1528.2L1736.9,1528.2L1753.6,1528.2L1770.3,1528.2L1787.0,1528.2L1803.7,1528.2L1820.4,1528.2L1837.1,1528.2L1853.8,1528.2L1870.5,1528.2L1887.2,1528.2L1903.9,1528.2L1920.6,1528.2L1937.2,1528.2L1953.9,1528.2L1970.6,1528.2L1987.3,1528.2L2004.0,1528.2"/>
</g>
<path class="obs" d="M1152.6,1503.8L1169.3,1486.0L1186.0,1487.6L1202.7,1370.4L1219.4,1415.7L1236.0,1484.1L1252.7,1442.4L1269.4,1372.3L1286.1,1440.1L1302.8,1502.7L1319.5,1361.2L1336.2,1278.8L1352.9,1518.9L1369.6,1511.6L1386.3,1465.6L1403.0,1491.5L1419.7,1512.3L1436.4,1517.5L1453.1,1524.6L1469.8,1524.2L1486.5,1523.5L1503.2,1525.7L1519.9,1526.4L1536.6,1526.9L1553.3,1527.1L1570.0,1527.4L1586.6,1527.7L1603.3,1527.9L1620.0,1527.9L1636.7,1527.9L1653.4,1527.9L1670.1,1527.9L1686.8,1527.9L1703.5,1527.9L1720.2,1527.9L1736.9,1527.9L1753.6,1527.9L1770.3,1527.9L1787.0,1527.9L1803.7,1527.9L1820.4,1527.9L1837.1,1527.9L1853.8,1527.9L1870.5,1527.9L1887.2,1527.9L1903.9,1527.9L1920.6,1527.9L1937.2,1527.9L1953.9,1527.9L1970.6,1527.9L1987.3,1527.9L2004.0,1527.9"/>
</g>
<text class="ttl" x="1578.3" y="865.0" text-anchor="middle">product=P4</text>
</g>
<g id="panel-P5">
<rect x="2067.0" y="881.0" width="936.3" height="678.0" fill="#eeeeee"/>
<path class="grid" d="M2109.0,881.0V1559.0M2276.0,881.0V1559.0M2443.0,881.0V1559.0M2610.0,881.0V1559.0M2777.0,881.0V1559.0M2944.0,881.0V1559.0M2066.8,1528.0H3003.4M2066.8,1410.0H3003.4M2066.8,1292.0H3003.4M2066.8,1173.0H3003.4M2066.8,1055.0H3003.4M2066.8,937.0H3003.4"/>
<g>
<path class="band" fill="#65e5f3" stroke="#65e5f3" d="M2109.4,1454.8L2126.1,1438.9L2142.8,1400.6L2159.5,1342.6L2176.2,1293.9L2192.8,1249.8L2209.5,1217.4L2226.2,1197.6L2242.9,1200.0L2259.6,1231.3L2276.3,1280.0L2293.0,1331.0L2309.7,1377.4L2326.4,1421.5L2343.1,1454.0L2359.8,1477.1L2376.5,1493.4L2393.2,1505.0L2409.9,1514.3L2426.6,1520.1L2443.3,1523.5L2460.0,1525.4L2476.7,1526.8L2493.4,1527.5L2510.1,1527.8L2526.8,1528.2L2543.4,1528.2L2560.1,1528.2L2576.8,1528.2L2593.5,1528.2L2610.2,1528.2L2626.9,1528.2L2643.6,1528.2L2660.3,1528.2L2677.0,1528.2L2693.7,1528.2L2710.4,1528.2L2727.1,1528.2L2743.8,1528.2L2760.5,1528.2L2777.2,1528.2L2793.9,1528.2L2810.6,1528.2L2827.3,1528.2L2844.0,1528.2L2860.7,1528.2L2877.4,1528.2L2894.0,1528.2L2910.7,1528.2L2927.4,1528.2L2944.1,1528.2L2960.8,1528.2L2960.8,1528.2L2109.4,1528.2Z"/>
<g class="dr" stroke="#65e5f3">
<path d="M2109.4,1474.6L2126.1,1456.6L2142.8,1473.2L2159.5,1338.9L2176.2,1123.6L2192.8,1386.2L2209.5,1350.4L2226.2,1424.0L2242.9,1458.8L2259.6,1410.1L2276.3,1428.2L2293.0,1431.0L2309.7,1516.8L2326.4,1498.2L2343.1,1517.6L2359.8,1503.3L2376.5,1505.5L2393.2,1512.3L2409.9,1523.8L2426.6,1521.6L2443.3,1525.9L2460.0,1527.7L2476.7,1527.9L2493.4,1528.0L2510.1,1528.1L2526.8,1528.2L2543.4,1528.2L2560.1,1528.2L2576.8,1528.2L2593.5,1528.2L2610.2,1528.2L2626.9,1528.2L2643.6,1528.2L2660.3,1528.2L2677.0,1528.2L2693.7,1528.2L2710.4,1528.2L2727.1,1528.2L2743.8,1528.2L2760.5,1528.2L2777.2,1528.2L2793.9,1528.2L2810.6,1528.2L2827.3,1528.2L2844.0,1528.2L2860.7,1528.2L2877.4,1528.2L2894.0,1528.2L2910.7,1528.2L2927.4,1528.2L2944.1,1528.2L2960.8,1528.2"/>
<path d="M2109.4,1492.2L2126.1,1453.1L2142.8,1499.2L2159.5,1381.3L2176.2,1507.9L2192.8,1489.3L2209.5,1417.7L2226.2,1518.0L2242.9,1315.3L2259.6,1135.4L2276.3,1374.4L2293.0,1356.7L2309.7,1513.6L2326.4,1522.9L2343.1,1505.3L2359.8,1524.8L2376.5,1509.2L2393.2,1513.0L2409.9,1521.0L2426.6,1525.7L2443.3,1525.3L2460.0,1527.5L2476.7,1527.9L2493.4,1528.0L2510.1,1528.1L2526.8,1528.2L2543.4,1528.2L2560.1,1528.2L2576.8,1528.2L2593.5,1528.2L2610.2,1528.2L2626.9,1528.2L2643.6,1528.2L2660.3,1528.2L2677.0,1528.2L2693.7,1528.2L2710.4,1528.2L2727.1,1528.2L2743.8,1528.2L2760.5,1528.2L2777.2,1528.2L2793.9,1528.2L2810.6,1528.2L2827.3,1528.2L2844.0,1528.2L2860.7,1528.2L2877.4,1528.2L2894.0,1528.2L2910.7,1528.2L2927.4,1528.2L2944.1,1528.2L2960.8,1528.2"/>
<path d="M2109.4,1477.1L2126.1,1492.2L2142.8,1490.8L2159.5,1497.8L2176.2,1337.1L2192.8,1328.9L2209.5,1518.2L2226.2,1494.0L2242.9,1423.6L2259.6,1362.6L2276.3,1114.1L2293.0,1350.7L2309.7,1515.3L2326.4,1447.3L2343.1,1520.9L2359.8,1525.8L2376.5,1518.4L2393.2,1521.9L2409.9,1523.6L2426.6,1526.5L2443.3,1527.4L2460.0,1527.9L2476.7,1527.6L2493.4,1528.1L2510.1,1528.0L2526.8,1528.2L2543.4,1528.2L2560.1,1528.2L2576.8,1528.2L2593.5,1528.2L2610.2,1528.2L2626.9,1528.2L2643.6,1528.2L2660.3,1528.2L2677.0,1528.2L2693.7,1528.2L2710.4,1528.2L2727.1,1528.2L2743.8,1528.2L2760.5,1528.2L2777.2,1528.2L2793.9,1528.2L2810.6,1528.2L2827.3,1528.2L2844.0,1528.2L2860.7,1528.2L2877.4,1528.2L2894.0,1528.2L2910.7,1528.2L2927.4,1528.2L2944.1,1528.2L2960.8,1528.2"/>
<path d="M2109.4,1498.8L2126.1,1470.4L2142.8,1515.5L2159.5,1500.8L2176.2,1390.3L2192.8,1418.0L2209.5,1454.7L2226.2,1405.0L2242.9,1486.4L2259.6,1509.0L2276.3,1500.0L2293.0,1409.9L2309.7,1277.4L2326.4,1469.0L2343.1,1525.4L2359.8,1503.1L2376.5,1519.8L2393.2,1524.5L2409.9,1526.3L2426.6,1526.0L2443.3,1527.1L2460.0,1528.1L2476.7,1528.0L2493.4,1528.1L2510.1,1528.1L2526.8,1528.2L2543.4,1528.2L2560.1,1528.2L2576.8,1528.2L2593.5,1528.2L2610.2,1528.2L2626.9,1528.2L2643.6,1528.2L2660.3,1528.2L2677.0,1528.2L2693.7,1528.2L2710.4,1528.2L2727.1,1528.2L2743.8,1528.2L2760.5,1528.2L2777.2,1528.2L2793.9,1528.2L2810.6,1528.2L2827.3,1528.2L2844.0,1528.2L2860.7,1528.2L2877.4,1528.2L2894.0,1528.2L2910.7,1528.2L2927.4,1528.2L2944.1,1528.2L2960.8,1528.2"/>
<path d="M2109.4,1419.4L2126.1,1492.7L2142.8,1451.3L2159.5,1420.5L2176.2,1497.9L2192.8,1488.1L2209.5,1489.0L2226.2,1442.7L2242.9,1489.0L2259.6,1377.6L2276.3,1482.1L2293.0,1401.2L2309.7,1485.0L2326.4,1491.7L2343.1,1518.9L2359.8,1525.4L2376.5,1524.5L2393.2,1510.6L2409.9,1526.8L2426.6,1526.1L2443.3,1526.2L2460.0,1527.6L2476.7,1528.0L2493.4,1527.9L2510.1,1528.1L2526.8,1528.2L2543.4,1528.2L2560.1,1528.2L2576.8,1528.2L2593.5,1528.2L2610.2,1528.2L2626.9,1528.2L2643.6,1528.2L2660.3,1528.2L2677.0,1528.2L2693.7,1528.2L2710.4,1528.2L2727.1,1528.2L2743.8,1528.2L2760.5,1528.2L2777.2,1528.2L2793.9,1528.2L2810.6,1528.2L2827.3,1528.2L2844.0,1528.2L2860.7,1528.2L2877.4,1528.2L2894.0,1528.2L2910.7,1528.2L2927.4,1528.2L2944.1,1528.2L2960.8,1528.2"/>
<path d="M2109.4,1468.5L2126.1,1501.5L2142.8,1445.3L2159.5,1485.9L2176.2,1355.7L2192.8,1225.3L2209.5,1434.5L2226.2,1463.4L2242.9,1401.0L2259.6,1413.0L2276.3,1326.8L2293.0,1487.4L2309.7,1476.9L2326.4,1511.1L2343.1,1471.7L2359.8,1513.5L2376.5,1505.1L2393.2,1507.5L2409.9,1516.2L2426.6,1524.6L2443.3,1525.2L2460.0,1527.3L2476.7,1527.2L2493.4,1527.8L2510.1,1528.1L2526.8,1528.2L2543.4,1528.2L2560.1,1528.2L2576.8,1528.2L2593.5,1528.2L2610.2,1528.2L2626.9,1528.2L2643.6,1528.2L2660.3,1528.2L2677.0,1528.2L2693.7,1528.2L2710.4,1528.2L2727.1,1528.2L2743.8,1528.2L2760.5,1528.2L2777.2,1528.2L2793.9,1528.2L2810.6,1528.2L2827.3,1528.2L2844.0,1528.2L2860.7,1528.2L2877.4,1528.2L2894.0,1528.2L2910.7,1528.2L2927.4,1528.2L2944.1,1528.2L2960.8,1528.2"/>
<path d="M2109.4,1475.8L2126.1,1481.3L2142.8,1449.3L2159.5,1513.1L2176.2,1500.9L2192.8,1432.2L2209.5,1220.6L2226.2,1372.8L2242.9,1328.6L2259.6,1406.6L2276.3,1482.7L2293.0,1473.1L2309.7,1451.2L2326.4,1517.2L2343.1,1491.9L2359.8,1513.9L2376.5,1525.2L2393.2,1525.9L2409.9,1527.1L2426.6,1526.4L2443.3,1525.9L2460.0,1526.9L2476.7,1527.8L2493.4,1527.8L2510.1,1527.9L2526.8,1528.2L2543.4,1528.2L2560.1,1528.2L2576.8,1528.2L2593.5,1528.2L2610.2,1528.2L2626.9,1528.2L2643.6,1528.2L2660.3,1528.2L2677.0,1528.2L2693.7,1528.2L2710.4,1528.2L2727.1,1528.2L2743.8,1528.2L2760.5,1528.2L2777.2,1528.2L2793.9,1528.2L2810.6,1528.2L2827.3,1528.2L2844.0,1528.2L2860.7,1528.2L2877.4,1528.2L2894.0,1528.2L2910.7,1528.2L2927.4,1528.2L2944.1,1528.2L2960.8,1528.2"/>
<path d="M2109.4,1476.1L2126.1,1511.4L2142.8,1508.5L2159.5,1446.8L2176.2,1477.8L2192.8,1469.1L2209.5,1473.6L2226.2,1308.2L2242.9,1488.4L2259.6,1463.9L2276.3,1359.9L2293.0,1507.7L2309.7,1449.2L2326.4,1523.6L2343.1,1518.2L2359.8,1520.9L2376.5,1513.0L2393.2,1518.5L2409.9,1522.8L2426.6,1527.3L2443.3,1527.6L2460.0,1528.1L2476.7,1527.7L2493.4,1528.0L2510.1,1527.9L2526.8,1528.2L2543.4,1528.2L2560.1,1528.2L2576.8,1528.2L2593.5,1528.2L2610.2,1528.2L2626.9,1528.2L2643.6,1528.2L2660.3,1528.2L2677.0,1528.2L2693.7,1528.2L2710.4,1528.2L2727.1,1528.2L2743.8,1528.2L2760.5,1528.2L2777.2,1528.2L2793.9,1528.2L2810.6,1528.2L2827.3,1528.2L2844.0,1528.2L2860.7,1528.2L2877.4,1528.2L2894.0,1528.2L2910.7,1528.2L2927.4,1528.2L2944.1,1528.2L2960.8,1528.2"/>
<path d="M2109.4,1523.1L2126.1,1499.1L2142.8,1505.2L2159.5,1315.3L2176.2,1433.6L2192.8,1486.4L2209.5,1417.8L2226.2,1507.9L2242.9,1440.3L2259.6,1396.1L2276.3,1441.5L2293.0,1470.2L2309.7,1512.7L2326.4,1521.0L2343.1,1515.6L2359.8,1495.0L2376.5,1525.0L2393.2,1524.6L2409.9,1525.1L2426.6,1527.1L2443.3,1527.8L2460.0,1527.8L2476.7,1528.1L2493.4,1528.1L2510.1,1528.1L2526.8,1528.2L2543.4,1528.2L2560.1,1528.2L2576.8,1528.2L2593.5,1528.2L2610.2,1528.2L2626.9,1528.2L2643.6,1528.2L2660.3,1528.2L2677.0,1528.2L2693.7,1528.2L2710.4,1528.2L2727.1,1528.2L2743.8,1528.2L2760.5,1528.2L2777.2,1528.2L2793.9,1528.2L2810.6,1528.2L2827.3,1528.2L2844.0,1528.2L2860.7,1528.2L2877.4,1528.2L2894.0,1528.2L2910.7,1528.2L2927.4,1528.2L2944.1,1528.2L2960.8,1528.2"/>
<path d="M2109.4,1463.4L2126.1,1470.2L2142.8,1458.2L2159.5,1479.7L2176.2,1494.2L2192.8,1469.0L2209.5,1353.7L2226.2,1462.4L2242.9,1403.4L2259.6,1443.1L2276.3,1494.2L2293.0,1517.1L2309.7,1522.2L2326.4,1489.7L2343.1,1488.9L2359.8,1505.2L2376.5,1524.0L2393.2,1513.5L2409.9,1526.6L2426.6,1524.8L2443.3,1526.4L2460.0,1527.1L2476.7,1528.0L2493.4,1528.0L2510.1,1528.2L2526.8,1528.2L2543.4,1528.2L2560.1,1528.2L2576.8,1528.2L2593.5,1528.2L2610.2,1528.2L2626.9,1528.2L2643.6,1528.2L2660.3,1528.2L2677.0,1528.2L2693.7,1528.2L2710.4,1528.2L2727.1,1528.2L2743.8,1528.2L2760.5,1528.2L2777.2,1528.2L2793.9,1528.2L2810.6,1528.2L2827.3,1528.2L2844.0,1528.2L2860.7,1528.2L2877.4,1528.2L2894.0,1528.2L2910.7,1528.2L2927.4,1528.2L2944.1,1528.2L2960.8,1528.2"/>
<path d="M2109.4,1499.2L2126.1,1500.8L2142.8,1484.1L2159.5,1419.9L2176.2,1434.5L2192.8,1494.2L2209.5,1324.6L2226.2,1385.6L2242.9,1402.8L2259.6,1490.4L2276.3,1486.9L2293.0,1354.4L2309.7,1504.0L2326.4,1521.9L2343.1,1486.3L2359.8,1497.5L2376.5,1509.7L2393.2,1524.7L2409.9,1518.4L2426.6,1526.6L2443.3,1528.0L2460.0,1527.2L2476.7,1527.9L2493.4,1528.1L2510.1,1528.1L2526.8,1528.2L2543.4,1528.2L2560.1,1528.2L2576.8,1528.2L2593.5,1528.2L2610.2,1528.2L2626.9,1528.2L2643.6,1528.2L2660.3,1528.2L2677.0,1528.2L2693.7,1528.2L2710.4,1528.2L2727.1,1528.2L2743.8,1528.2L2760.5,1528.2L2777.2,1528.2L2793.9,1528.2L2810.6,1528.2L2827.3,1528.2L2844.0,1528.2L2860.7,1528.2L2877.4,1528.2L2894.0,1528.2L2910.7,1528.2L2927.4,1528.2L2944.1,1528.2L2960.8,1528.2"/>
<path d="M2109.4,1506.4L2126.1,1460.7L2142.8,1452.6L2159.5,1498.7L2176.2,1478.9L2192.8,1454.6L2209.5,1389.6L2226.2,1485.8L2242.9,1453.0L2259.6,1443.7L2276.3,1512.2L2293.0,1509.6L2309.7,1516.8L2326.4,1497.1L2343.1,1521.0L2359.8,1521.9L2376.5,1512.7L2393.2,1521.9L2409.9,1524.5L2426.6,1526.2L2443.3,1526.2L2460.0,1527.8L2476.7,1527.4L2493.4,1527.7L2510.1,1528.1L2526.8,1528.2L2543.4,1528.2L2560.1,1528.2L2576.8,1528.2L2593.5,1528.2L2610.2,1528.2L2626.9,1528.2L2643.6,1528.2L2660.3,1528.2L2677.0,1528.2L2693.7,1528.2L2710.4,1528.2L2727.1,1528.2L2743.8,1528.2L2760.5,1528.2L2777.2,1528.2L2793.9,1528.2L2810.6,1528.2L2827.3,1528.2L2844.0,1528.2L2860.7,1528.2L2877.4,1528.2L2894.0,1528.2L2910.7,1528.2L2927.4,1528.2L2944.1,1528.2L2960.8,1528.2"/>
<path d="M2109.4,1474.2L2126.1,1478.3L2142.8,1467.1L2159.5,1403.5L2176.2,1337.8L2192.8,1429.9L2209.5,1285.2L2226.2,1491.0L2242.9,1434.4L2259.6,1447.2L2276.3,1460.3L2293.0,1488.0L2309.7,1514.3L2326.4,1485.3L2343.1,1520.4L2359.8,1524.4L2376.5,1525.0L2393.2,1526.6L2409.9,1523.4L2426.6,1522.0L2443.3,1527.6L2460.0,1527.8L2476.7,1527.1L2493.4,1527.9L2510.1,1528.1L2526.8,1528.2L2543.4,1528.2L2560.1,1528.2L2576.8,1528.2L2593.5,1528.2L2610.2,1528.2L2626.9,1528.2L2643.6,1528.2L2660.3,1528.2L2677.0,1528.2L2693.7,1528.2L2710.4,1528.2L2727.1,1528.2L2743.8,1528.2L2760.5,1528.2L2777.2,1528.2L2793.9,1528.2L2810.6,1528.2L2827.3,1528.2L2844.0,1528.2L2860.7,1528.2L2877.4,1528.2L2894.0,1528.2L2910.7,1528.2L2927.4,1528.2L2944.1,1528.2L2960.8,1528.2"/>
<path d="M2109.4,1509.2L2126.1,1515.0L2142.8,1474.2L2159.5,1449.6L2176.2,1477.8L2192.8,1457.8L2209.5,1399.3L2226.2,1309.2L2242.9,1509.5L2259.6,1517.0L2276.3,1415.9L2293.0,1490.1L2309.7,1497.5L2326.4,1493.0L2343.1,1521.6L2359.8,1510.9L2376.5,1521.2L2393.2,1522.1L2409.9,1519.2L2426.6,1527.9L2443.3,1524.5L2460.0,1527.8L2476.7,1528.0L2493.4,1527.9L2510.1,1528.2L2526.8,1528.2L2543.4,1528.2L2560.1,1528.2L2576.8,1528.2L2593.5,1528.2L2610.2,1528.2L2626.9,1528.2L2643.6,1528.2L2660.3,1528.2L2677.0,1528.2L2693.7,1528.2L2710.4,1528.2L2727.1,1528.2L2743.8,1528.2L2760.5,1528.2L2777.2,1528.2L2793.9,1528.2L2810.6,1528.2L2827.3,1528.2L2844.0,1528.2L2860.7,1528.2L2877.4,1528.2L2894.0,1528.2L2910.7,1528.2L2927.4,1528.2L2944.1,1528.2L2960.8,1528.2"/>
<path d="M2109.4,1498.0L2126.1,1480.1L2142.8,1518.9L2159.5,1394.1L2176.2,1343.8L2192.8,1511.3L2209.5,1403.2L2226.2,1385.2L2242.9,1395.4L2259.6,1273.0L2276.3,1516.3L2293.0,1477.9L2309.7,1515.5L2326.4,1470.3L2343.1,1492.4L2359.8,1519.7L2376.5,1517.2L2393.2,1517.5L2409.9,1523.6L2426.6,1526.6L2443.3,1527.8L2460.0,1527.8L2476.7,1527.4L2493.4,1528.1L2510.1,1528.1L2526.8,1528.2L2543.4,1528.2L2560.1,1528.2L2576.8,1528.2L2593.5,1528.2L2610.2,1528.2L2626.9,1528.2L2643.6,1528.2L2660.3,1528.2L2677.0,1528.2L2693.7,1528.2L2710.4,1528.2L2727.1,1528.2L2743.8,1528.2L2760.5,1528.2L2777.2,1528.2L2793.9,1528.2L2810.6,1528.2L2827.3,1528.2L2844.0,1528.2L2860.7,1528.2L2877.4,1528.2L2894.0,1528.2L2910.7,1528.2L2927.4,1528.2L2944.1,1528.2L2960.8,1528.2"/>
</g>
<path class="obs" d="M2109.4,1524.7L2126.1,1476.0L2142.8,1488.7L2159.5,1509.6L2176.2,1385.5L2192.8,1333.4L2209.5,1470.2L2226.2,1441.2L2242.9,1206.9L2259.6,1459.8L2276.3,1454.0L2293.0,1434.9L2309.7,1488.7L2326.4,1459.1L2343.1,1463.2L2359.8,1478.3L2376.5,1500.5L2393.2,1507.6L2409.9,1502.7L2426.6,1522.2L2443.3,1526.9L2460.0,1525.4L2476.7,1525.7L2493.4,1527.4L2510.1,1527.4L2526.8,1527.1L2543.4,1527.7L2560.1,1527.5L2576.8,1527.8L2593.5,1527.9L2610.2,1527.9L2626.9,1527.9L2643.6,1527.9L2660.3,1527.9L2677.0,1527.9L2693.7,1527.9L2710.4,1527.9L2727.1,1527.9L2743.8,1527.9L2760.5,1527.9L2777.2,1527.9L2793.9,1527.9L2810.6,1527.9L2827.3,1527.9L2844.0,1527.9L2860.7,1527.9L2877.4,1527.9L2894.0,1527.9L2910.7,1527.9L2927.4,1527.9L2944.1,1527.9L2960.8,1527.9"/>
</g>
<text class="ttl" x="2535.1" y="865.0" text-anchor="middle">product=P5</text>
</g>
<g id="panel-P6">
<rect x="153.0" y="1626.0" width="937.0" height="678.0" fill="#eeeeee"/>
<path class="grid" d="M196.0,1626.0V2304.0M363.0,1626.0V2304.0M530.0,1626.0V2304.0M697.0,1626.0V2304.0M864.0,1626.0V2304.0M1031.0,1626.0V2304.0M153.3,2273.0H1089.9M153.3,2155.0H1089.9M153.3,2037.0H1089.9M153.3,1918.0H1089.9M153.3,1800.0H1089.9M153.3,1682.0H1089.9"/>
<g>
<path class="band" fill="#e6e135" stroke="#e6e135" d="M195.9,2168.6L212.6,2124.6L229.3,2052.7L246.0,1978.4L262.7,1923.0L279.3,1891.8L296.0,1899.8L312.7,1920.7L329.4,1976.3L346.1,2020.0L362.8,2099.1L379.5,2150.2L396.2,2194.2L412.9,2219.7L429.6,2238.2L446.3,2252.1L463.0,2260.2L479.7,2266.1L496.4,2268.8L513.1,2270.6L529.8,2272.0L546.5,2272.6L563.2,2272.9L579.9,2273.2L596.6,2273.2L613.3,2273.2L629.9,2273.2L646.6,2273.2L663.3,2273.2L680.0,2273.2L696.7,2273.2L713.4,2273.2L730.1,2273.2L746.8,2273.2L763.5,2273.2L780.2,2273.2L796.9,2273.2L813.6,2273.2L830.3,2273.2L847.0,2273.2L863.7,2273.2L880.4,2273.2L897.1,2273.2L913.8,2273.2L930.5,2273.2L947.2,2273.2L963.9,2273.2L980.5,2273.2L997.2,2273.2L1013.9,2273.2L1030.6,2273.2L1047.3,2273.2L1047.3,2273.2L195.9,2273.2Z"/>
<g class="dr" stroke="#e6e135">
<path d="M195.9,2209.4L212.6,2244.3L229.3,2155.0L246.0,2131.2L262.7,1822.5L279.3,2107.6L296.0,2200.6L312.7,2135.4L329.4,2241.2L346.1,2193.1L362.8,2221.2L379.5,2228.5L396.2,2227.3L412.9,2271.0L429.6,2257.4L446.3,2268.5L463.0,2269.5L479.7,2269.1L496.4,2272.3L513.1,2273.1L529.8,2273.1L546.5,2273.0L563.2,2273.1L579.9,2273.2L596.6,2273.2L613.3,2273.2L629.9,2273.2L646.6,2273.2L663.3,2273.2L680.0,2273.2L696.7,2273.2L713.4,2273.2L730.1,2273.2L746.8,2273.2L763.5,2273.2L780.2,2273.2L796.9,2273.2L813.6,2273.2L830.3,2273.2L847.0,2273.2L863.7,2273.2L880.4,2273.2L897.1,2273.2L913.8,2273.2L930.5,2273.2L947.2,2273.2L963.9,2273.2L980.5,2273.2L997.2,2273.2L1013.9,2273.2L1030.6,2273.2L1047.3,2273.2"/>
<path d="M195.9,2188.2L212.6,2241.2L229.3,2131.2L246.0,1907.9L262.7,2154.9L279.3,2238.1L296.0,2128.9L312.7,2169.7L329.4,2260.1L346.1,2180.7L362.8,2256.7L379.5,2204.0L396.2,2229.1L412.9,2267.3L429.6,2266.9L446.3,2269.4L463.0,2272.4L479.7,2271.9L496.4,2271.5L513.1,2273.0L529.8,2272.9L546.5,2273.0L563.2,2273.1L579.9,2273.2L596.6,2273.2L613.3,2273.2L629.9,2273.2L646.6,2273.2L663.3,2273.2L680.0,2273.2L696.7,2273.2L713.4,2273.2L730.1,2273.2L746.8,2273.2L763.5,2273.2L780.2,2273.2L796.9,2273.2L813.6,2273.2L830.3,2273.2L847.0,2273.2L863.7,2273.2L880.4,2273.2L897.1,2273.2L913.8,2273.2L930.5,2273.2L947.2,2273.2L963.9,2273.2L980.5,2273.2L997.2,2273.2L1013.9,2273.2L1030.6,2273.2L1047.3,2273.2"/>
<path d="M195.9,2206.6L212.6,2218.9L229.3,2097.5L246.0,2215.7L262.7,2224.9L279.3,2251.4L296.0,2060.3L312.7,1889.4L329.4,2107.6L346.1,2251.0L362.8,2249.2L379.5,2219.9L396.2,2269.5L412.9,2259.1L429.6,2259.9L446.3,2269.7L463.0,2268.9L479.7,2269.2L496.4,2272.6L513.1,2272.1L529.8,2272.9L546.5,2272.9L563.2,2273.0L579.9,2273.2L596.6,2273.2L613.3,2273.2L629.9,2273.2L646.6,2273.2L663.3,2273.2L680.0,2273.2L696.7,2273.2L713.4,2273.2L730.1,2273.2L746.8,2273.2L763.5,2273.2L780.2,2273.2L796.9,2273.2L813.6,2273.2L830.3,2273.2L847.0,2273.2L863.7,2273.2L880.4,2273.2L897.1,2273.2L913.8,2273.2L930.5,2273.2L947.2,2273.2L963.9,2273.2L980.5,2273.2L997.2,2273.2L1013.9,2273.2L1030.6,2273.2L1047.3,2273.2"/>
<path d="M195.9,2225.0L212.6,2202.2L229.3,1989.9L246.0,2119.4L262.7,2208.9L279.3,2180.0L296.0,2165.4L312.7,2228.9L329.4,2234.1L346.1,2217.6L362.8,2231.2L379.5,2262.0L396.2,2205.1L412.9,2269.9L429.6,2255.6L446.3,2270.3L463.0,2270.5L479.7,2270.6L496.4,2272.0L513.1,2272.7L529.8,2273.1L546.5,2272.8L563.2,2273.1L579.9,2273.2L596.6,2273.2L613.3,2273.2L629.9,2273.2L646.6,2273.2L663.3,2273.2L680.0,2273.2L696.7,2273.2L713.4,2273.2L730.1,2273.2L746.8,2273.2L763.5,2273.2L780.2,2273.2L796.9,2273.2L813.6,2273.2L830.3,2273.2L847.0,2273.2L863.7,2273.2L880.4,2273.2L897.1,2273.2L913.8,2273.2L930.5,2273.2L947.2,2273.2L963.9,2273.2L980.5,2273.2L997.2,2273.2L1013.9,2273.2L1030.6,2273.2L1047.3,2273.2"/>
<path d="M195.9,2237.5L212.6,2241.0L229.3,2223.0L246.0,2065.7L262.7,2236.6L279.3,1943.3L296.0,2118.4L312.7,2107.6L329.4,1975.1L346.1,2004.9L362.8,2237.7L379.5,2247.0L396.2,2232.2L412.9,2257.0L429.6,2264.3L446.3,2260.9L463.0,2267.5L479.7,2272.5L496.4,2269.6L513.1,2272.5L529.8,2273.0L546.5,2273.1L563.2,2273.2L579.9,2273.2L596.6,2273.2L613.3,2273.2L629.9,2273.2L646.6,2273.2L663.3,2273.2L680.0,2273.2L696.7,2273.2L713.4,2273.2L730.1,2273.2L746.8,2273.2L763.5,2273.2L780.2,2273.2L796.9,2273.2L813.6,2273.2L830.3,2273.2L847.0,2273.2L863.7,2273.2L880.4,2273.2L897.1,2273.2L913.8,2273.2L930.5,2273.2L947.2,2273.2L963.9,2273.2L980.5,2273.2L997.2,2273.2L1013.9,2273.2L1030.6,2273.2L1047.3,2273.2"/>
<path d="M195.9,2238.1L212.6,2215.5L229.3,2227.8L246.0,2260.5L262.7,2246.2L279.3,2258.3L296.0,1965.6L312.7,2230.2L329.4,2249.3L346.1,2249.2L362.8,2236.2L379.5,2204.0L396.2,2235.7L412.9,2271.5L429.6,2263.2L446.3,2261.5L463.0,2271.9L479.7,2272.2L496.4,2272.4L513.1,2273.0L529.8,2272.8L546.5,2273.1L563.2,2273.2L579.9,2273.2L596.6,2273.2L613.3,2273.2L629.9,2273.2L646.6,2273.2L663.3,2273.2L680.0,2273.2L696.7,2273.2L713.4,2273.2L730.1,2273.2L746.8,2273.2L763.5,2273.2L780.2,2273.2L796.9,2273.2L813.6,2273.2L830.3,2273.2L847.0,2273.2L863.7,2273.2L880.4,2273.2L897.1,2273.2L913.8,2273.2L930.5,2273.2L947.2,2273.2L963.9,2273.2L980.5,2273.2L997.2,2273.2L1013.9,2273.2L1030.6,2273.2L1047.3,2273.2"/>
<path d="M195.9,2217.8L212.6,2199.2L229.3,2202.6L246.0,2175.7L262.7,2046.1L279.3,1994.0L296.0,2191.9L312.7,2131.5L329.4,2059.0L346.1,2168.9L362.8,2266.5L379.5,2226.5L396.2,2267.0L412.9,2264.8L429.6,2246.3L446.3,2271.6L463.0,2271.4L479.7,2272.1L496.4,2271.8L513.1,2273.1L529.8,2273.1L546.5,2273.1L563.2,2273.0L579.9,2273.2L596.6,2273.2L613.3,2273.2L629.9,2273.2L646.6,2273.2L663.3,2273.2L680.0,2273.2L696.7,2273.2L713.4,2273.2L730.1,2273.2L746.8,2273.2L763.5,2273.2L780.2,2273.2L796.9,2273.2L813.6,2273.2L830.3,2273.2L847.0,2273.2L863.7,2273.2L880.4,2273.2L897.1,2273.2L913.8,2273.2L930.5,2273.2L947.2,2273.2L963.9,2273.2L980.5,2273.2L997.2,2273.2L1013.9,2273.2L1030.6,2273.2L1047.3,2273.2"/>
<path d="M195.9,2248.4L212.6,2179.8L229.3,2110.2L246.0,2177.3L262.7,2249.2L279.3,2013.5L296.0,1984.5L312.7,2225.4L329.4,2254.7L346.1,2207.0L362.8,2238.7L379.5,2254.1L396.2,2259.7L412.9,2230.4L429.6,2270.4L446.3,2271.4L463.0,2262.6L479.7,2270.3L496.4,2272.8L513.1,2273.0L529.8,2273.1L546.5,2273.0L563.2,2273.1L579.9,2273.2L596.6,2273.2L613.3,2273.2L629.9,2273.2L646.6,2273.2L663.3,2273.2L680.0,2273.2L696.7,2273.2L713.4,2273.2L730.1,2273.2L746.8,2273.2L763.5,2273.2L780.2,2273.2L796.9,2273.2L813.6,2273.2L830.3,2273.2L847.0,2273.2L863.7,2273.2L880.4,2273.2L897.1,2273.2L913.8,2273.2L930.5,2273.2L947.2,2273.2L963.9,2273.2L980.5,2273.2L997.2,2273.2L1013.9,2273.2L1030.6,2273.2L1047.3,2273.2"/>
<path d="M195.9,2250.7L212.6,2236.5L229.3,2133.0L246.0,2141.2L262.7,2260.1L279.3,2111.7L296.0,2252.6L312.7,2205.6L329.4,2236.1L346.1,2240.3L362.8,2190.2L379.5,2147.8L396.2,2263.1L412.9,2252.6L429.6,2246.3L446.3,2272.3L463.0,2266.7L479.7,2271.9L496.4,2272.0L513.1,2273.0L529.8,2273.1L546.5,2273.2L563.2,2273.2L579.9,2273.2L596.6,2273.2L613.3,2273.2L629.9,2273.2L646.6,2273.2L663.3,2273.2L680.0,2273.2L696.7,2273.2L713.4,2273.2L730.1,2273.2L746.8,2273.2L763.5,2273.2L780.2,2273.2L796.9,2273.2L813.6,2273.2L830.3,2273.2L847.0,2273.2L863.7,2273.2L880.4,2273.2L897.1,2273.2L913.8,2273.2L930.5,2273.2L947.2,2273.2L963.9,2273.2L980.5,2273.2L997.2,2273.2L1013.9,2273.2L1030.6,2273.2L1047.3,2273.2"/>
<path d="M195.9,2262.2L212.6,2238.7L229.3,2241.3L246.0,2170.0L262.7,2162.3L279.3,2228.3L296.0,2222.5L312.7,2138.4L329.4,2165.5L346.1,2206.9L362.8,2177.0L379.5,2247.7L396.2,2246.6L412.9,2266.0L429.6,2255.3L446.3,2268.8L463.0,2249.1L479.7,2272.9L496.4,2272.7L513.1,2272.9L529.8,2272.5L546.5,2273.1L563.2,2273.1L579.9,2273.2L596.6,2273.2L613.3,2273.2L629.9,2273.2L646.6,2273.2L663.3,2273.2L680.0,2273.2L696.7,2273.2L713.4,2273.2L730.1,2273.2L746.8,2273.2L763.5,2273.2L780.2,2273.2L796.9,2273.2L813.6,2273.2L830.3,2273.2L847.0,2273.2L863.7,2273.2L880.4,2273.2L897.1,2273.2L913.8,2273.2L930.5,2273.2L947.2,2273.2L963.9,2273.2L980.5,2273.2L997.2,2273.2L1013.9,2273.2L1030.6,2273.2L1047.3,2273.2"/>
<path d="M195.9,2197.0L212.6,2204.3L229.3,2224.6L246.0,2212.8L262.7,2091.1L279.3,2141.0L296.0,2242.1L312.7,2238.2L329.4,2169.2L346.1,2125.1L362.8,2233.2L379.5,2234.6L396.2,2252.2L412.9,2260.2L429.6,2261.0L446.3,2264.7L463.0,2270.1L479.7,2270.8L496.4,2273.0L513.1,2272.0L529.8,2272.9L546.5,2272.9L563.2,2273.1L579.9,2273.2L596.6,2273.2L613.3,2273.2L629.9,2273.2L646.6,2273.2L663.3,2273.2L680.0,2273.2L696.7,2273.2L713.4,2273.2L730.1,2273.2L746.8,2273.2L763.5,2273.2L780.2,2273.2L796.9,2273.2L813.6,2273.2L830.3,2273.2L847.0,2273.2L863.7,2273.2L880.4,2273.2L897.1,2273.2L913.8,2273.2L930.5,2273.2L947.2,2273.2L963.9,2273.2L980.5,2273.2L997.2,2273.2L1013.9,2273.2L1030.6,2273.2L1047.3,2273.2"/>
<path d="M195.9,2218.8L212.6,2183.9L229.3,2232.7L246.0,2259.3L262.7,2244.8L279.3,2220.2L296.0,2256.8L312.7,2051.4L329.4,2081.0L346.1,2254.8L362.8,2220.8L379.5,2190.0L396.2,2234.9L412.9,2265.5L429.6,2255.1L446.3,2253.8L463.0,2272.0L479.7,2270.4L496.4,2272.4L513.1,2272.5L529.8,2272.5L546.5,2273.1L563.2,2273.0L579.9,2273.2L596.6,2273.2L613.3,2273.2L629.9,2273.2L646.6,2273.2L663.3,2273.2L680.0,2273.2L696.7,2273.2L713.4,2273.2L730.1,2273.2L746.8,2273.2L763.5,2273.2L780.2,2273.2L796.9,2273.2L813.6,2273.2L830.3,2273.2L847.0,2273.2L863.7,2273.2L880.4,2273.2L897.1,2273.2L913.8,2273.2L930.5,2273.2L947.2,2273.2L963.9,2273.2L980.5,2273.2L997.2,2273.2L1013.9,2273.2L1030.6,2273.2L1047.3,2273.2"/>
<path d="M195.9,2206.3L212.6,2231.1L229.3,2221.5L246.0,2084.0L262.7,2139.3L279.3,2194.6L296.0,2149.4L312.7,2015.8L329.4,2088.5L346.1,2116.7L362.8,2239.1L379.5,2217.5L396.2,2211.2L412.9,2231.3L429.6,2268.8L446.3,2271.8L463.0,2269.6L479.7,2270.0L496.4,2269.9L513.1,2272.5L529.8,2273.1L546.5,2273.0L563.2,2273.1L579.9,2273.2L596.6,2273.2L613.3,2273.2L629.9,2273.2L646.6,2273.2L663.3,2273.2L680.0,2273.2L696.7,2273.2L713.4,2273.2L730.1,2273.2L746.8,2273.2L763.5,2273.2L780.2,2273.2L796.9,2273.2L813.6,2273.2L830.3,2273.2L847.0,2273.2L863.7,2273.2L880.4,2273.2L897.1,2273.2L913.8,2273.2L930.5,2273.2L947.2,2273.2L963.9,2273.2L980.5,2273.2L997.2,2273.2L1013.9,2273.2L1030.6,2273.2L1047.3,2273.2"/>
<path d="M195.9,2220.7L212.6,2207.1L229.3,2179.9L246.0,2248.4L262.7,2122.6L279.3,2148.7L296.0,2242.1L312.7,2083.4L329.4,2130.4L346.1,2217.1L362.8,2256.5L379.5,2229.8L396.2,2246.9L412.9,2267.2L429.6,2271.9L446.3,2269.2L463.0,2272.3L479.7,2271.7L496.4,2272.1L513.1,2271.3L529.8,2273.0L546.5,2272.9L563.2,2273.2L579.9,2273.2L596.6,2273.2L613.3,2273.2L629.9,2273.2L646.6,2273.2L663.3,2273.2L680.0,2273.2L696.7,2273.2L713.4,2273.2L730.1,2273.2L746.8,2273.2L763.5,2273.2L780.2,2273.2L796.9,2273.2L813.6,2273.2L830.3,2273.2L847.0,2273.2L863.7,2273.2L880.4,2273.2L897.1,2273.2L913.8,2273.2L930.5,2273.2L947.2,2273.2L963.9,2273.2L980.5,2273.2L997.2,2273.2L1013.9,2273.2L1030.6,2273.2L1047.3,2273.2"/>
<path d="M195.9,2196.6L212.6,2223.7L229.3,2136.6L246.0,2231.3L262.7,2093.8L279.3,2152.2L296.0,2236.3L312.7,2203.6L329.4,2201.4L346.1,2264.1L362.8,2253.6L379.5,2226.1L396.2,2209.7L412.9,2244.0L429.6,2262.7L446.3,2267.5L463.0,2269.7L479.7,2272.7L496.4,2271.6L513.1,2272.6L529.8,2273.1L546.5,2272.9L563.2,2273.2L579.9,2273.2L596.6,2273.2L613.3,2273.2L629.9,2273.2L646.6,2273.2L663.3,2273.2L680.0,2273.2L696.7,2273.2L713.4,2273.2L730.1,2273.2L746.8,2273.2L763.5,2273.2L780.2,2273.2L796.9,2273.2L813.6,2273.2L830.3,2273.2L847.0,2273.2L863.7,2273.2L880.4,2273.2L897.1,2273.2L913.8,2273.2L930.5,2273.2L947.2,2273.2L963.9,2273.2L980.5,2273.2L997.2,2273.2L1013.9,2273.2L1030.6,2273.2L1047.3,2273.2"/>
</g>
<path class="obs" d="M195.9,2260.2L212.6,2221.9L229.3,2154.7L246.0,2223.1L262.7,1942.0L279.3,1677.0L296.0,1863.9L312.7,2161.6L329.4,2227.7L346.1,2247.4L362.8,2250.9L379.5,2259.0L396.2,2237.0L412.9,2218.4L429.6,2269.9L446.3,2267.7L463.0,2265.0L479.7,2269.2L496.4,2269.5L513.1,2272.4L529.8,2272.7L546.5,2272.7L563.2,2273.0L579.9,2272.7L596.6,2272.9L613.3,2272.9L629.9,2272.9L646.6,2272.9L663.3,2272.9L680.0,2272.9L696.7,2272.9L713.4,2272.9L730.1,2272.9L746.8,2272.9L763.5,2272.9L780.2,2272.9L796.9,2272.9L813.6,2272.9L830.3,2272.9L847.0,2272.9L863.7,2272.9L880.4,2272.9L897.1,2272.9L913.8,2272.9L930.5,2272.9L947.2,2272.9L963.9,2272.9L980.5,2272.9L997.2,2272.9L1013.9,2272.9L1030.6,2272.9L1047.3,2272.9"/>
</g>
<text class="ttl" x="621.6" y="1610.0" text-anchor="middle">product=P6</text>
<text class="tick" x="144.6" y="2288.2" text-anchor="end">0</text>
<text class="tick" x="144.6" y="2169.9" text-anchor="end">5000</text>
<text class="tick" x="144.6" y="2051.6" text-anchor="end">10000</text>
<text class="tick" x="144.6" y="1933.3" text-anchor="end">15000</text>
<text class="tick" x="144.6" y="1815.0" text-anchor="end">20000</text>
<text class="tick" x="144.6" y="1696.7" text-anchor="end">25000</text>
<text class="tick" x="196.4" y="2344.4" text-anchor="middle">0</text>
<text class="tick" x="363.3" y="2344.4" text-anchor="middle">10</text>
<text class="tick" x="530.3" y="2344.4" text-anchor="middle">20</text>
<text class="tick" x="697.2" y="2344.4" text-anchor="middle">30</text>
<text class="tick" x="864.2" y="2344.4" text-anchor="middle">40</text>
<text class="tick" x="1031.1" y="2344.4" text-anchor="middle">50</text>
<text class="xl" x="622.6" y="2394.1" text-anchor="middle">T</text>
</g>
<g id="panel-P7">
<rect x="1110.0" y="1626.0" width="937.0" height="678.0" fill="#eeeeee"/>
<path class="grid" d="M1153.0,1626.0V2304.0M1320.0,1626.0V2304.0M1486.0,1626.0V2304.0M1653.0,1626.0V2304.0M1820.0,1626.0V2304.0M1987.0,1626.0V2304.0M1110.0,2273.0H2046.6M1110.0,2155.0H2046.6M1110.0,2037.0H2046.6M1110.0,1918.0H2046.6M1110.0,1800.0H2046.6M1110.0,1682.0H2046.6"/>
<g>
<path class="band" fill="#1ccd6a" stroke="#1ccd6a" d="M1152.6,2189.4L1169.3,2152.3L1186.0,2112.9L1202.7,2075.8L1219.4,2041.0L1236.0,2013.2L1252.7,1995.8L1269.4,1988.8L1286.1,2006.2L1302.8,2038.7L1319.5,2073.5L1336.2,2110.6L1352.9,2147.7L1369.6,2182.5L1386.3,2210.3L1403.0,2231.2L1419.7,2245.1L1436.4,2254.4L1453.1,2260.2L1469.8,2264.8L1486.5,2267.1L1503.2,2268.8L1519.9,2270.2L1536.6,2271.3L1553.3,2272.2L1570.0,2272.7L1586.6,2273.2L1603.3,2273.2L1620.0,2273.2L1636.7,2273.2L1653.4,2273.2L1670.1,2273.2L1686.8,2273.2L1703.5,2273.2L1720.2,2273.2L1736.9,2273.2L1753.6,2273.2L1770.3,2273.2L1787.0,2273.2L1803.7,2273.2L1820.4,2273.2L1837.1,2273.2L1853.8,2273.2L1870.5,2273.2L1887.2,2273.2L1903.9,2273.2L1920.6,2273.2L1937.2,2273.2L1953.9,2273.2L1970.6,2273.2L1987.3,2273.2L2004.0,2273.2L2004.0,2273.2L1152.6,2273.2Z"/>
<g class="dr" stroke="#1ccd6a">
<path d="M1152.6,2244.8L1169.3,2082.7L1186.0,2214.0L1202.7,2152.0L1219.4,2238.4L1236.0,2260.8L1252.7,2245.7L1269.4,2141.6L1286.1,2208.2L1302.8,2162.5L1319.5,2259.9L1336.2,2126.7L1352.9,2249.2L1369.6,2260.0L1386.3,2242.6L1403.0,2266.2L1419.7,2263.3L1436.4,2258.4L1453.1,2269.6L1469.8,2270.3L1486.5,2267.7L1503.2,2272.8L1519.9,2271.1L1536.6,2273.0L1553.3,2273.0L1570.0,2273.1L1586.6,2273.2L1603.3,2273.2L1620.0,2273.2L1636.7,2273.2L1653.4,2273.2L1670.1,2273.2L1686.8,2273.2L1703.5,2273.2L1720.2,2273.2L1736.9,2273.2L1753.6,2273.2L1770.3,2273.2L1787.0,2273.2L1803.7,2273.2L1820.4,2273.2L1837.1,2273.2L1853.8,2273.2L1870.5,2273.2L1887.2,2273.2L1903.9,2273.2L1920.6,2273.2L1937.2,2273.2L1953.9,2273.2L1970.6,2273.2L1987.3,2273.2L2004.0,2273.2"/>
<path d="M1152.6,2205.9L1169.3,2225.9L1186.0,2057.2L1202.7,2202.2L1219.4,2196.8L1236.0,2224.4L1252.7,2178.9L1269.4,2168.4L1286.1,2206.2L1302.8,2263.1L1319.5,2224.3L1336.2,2201.3L1352.9,2178.0L1369.6,2227.9L1386.3,2259.5L1403.0,2254.7L1419.7,2269.0L1436.4,2272.5L1453.1,2271.1L1469.8,2267.3L1486.5,2272.9L1503.2,2271.1L1519.9,2272.5L1536.6,2272.5L1553.3,2273.1L1570.0,2273.0L1586.6,2273.2L1603.3,2273.2L1620.0,2273.2L1636.7,2273.2L1653.4,2273.2L1670.1,2273.2L1686.8,2273.2L1703.5,2273.2L1720.2,2273.2L1736.9,2273.2L1753.6,2273.2L1770.3,2273.2L1787.0,2273.2L1803.7,2273.2L1820.4,2273.2L1837.1,2273.2L1853.8,2273.2L1870.5,2273.2L1887.2,2273.2L1903.9,2273.2L1920.6,2273.2L1937.2,2273.2L1953.9,2273.2L1970.6,2273.2L1987.3,2273.2L2004.0,2273.2"/>
<path d="M1152.6,2232.9L1169.3,2198.5L1186.0,2190.4L1202.7,1968.0L1219.4,2166.7L1236.0,2226.3L1252.7,2237.8L1269.4,2231.0L1286.1,2212.1L1302.8,2248.4L1319.5,2192.0L1336.2,2233.8L1352.9,2250.0L1369.6,2217.4L1386.3,2258.5L1403.0,2252.1L1419.7,2271.1L1436.4,2267.9L1453.1,2270.9L1469.8,2270.8L1486.5,2270.9L1503.2,2272.5L1519.9,2272.8L1536.6,2272.8L1553.3,2273.1L1570.0,2272.9L1586.6,2273.2L1603.3,2273.2L1620.0,2273.2L1636.7,2273.2L1653.4,2273.2L1670.1,2273.2L1686.8,2273.2L1703.5,2273.2L1720.2,2273.2L1736.9,2273.2L1753.6,2273.2L1770.3,2273.2L1787.0,2273.2L1803.7,2273.2L1820.4,2273.2L1837.1,2273.2L1853.8,2273.2L1870.5,2273.2L1887.2,2273.2L1903.9,2273.2L1920.6,2273.2L1937.2,2273.2L1953.9,2273.2L1970.6,2273.2L1987.3,2273.2L2004.0,2273.2"/>
<path d="M1152.6,2251.9L1169.3,2220.0L1186.0,2226.8L1202.7,2202.2L1219.4,2019.0L1236.0,2206.9L1252.7,2256.4L1269.4,2227.6L1286.1,2259.3L1302.8,2236.3L1319.5,2210.7L1336.2,2206.5L1352.9,2241.7L1369.6,2237.5L1386.3,2257.0L1403.0,2265.9L1419.7,2268.6L1436.4,2263.8L1453.1,2271.9L1469.8,2272.1L1486.5,2271.7L1503.2,2272.2L1519.9,2270.7L1536.6,2272.9L1553.3,2273.1L1570.0,2273.2L1586.6,2273.2L1603.3,2273.2L1620.0,2273.2L1636.7,2273.2L1653.4,2273.2L1670.1,2273.2L1686.8,2273.2L1703.5,2273.2L1720.2,2273.2L1736.9,2273.2L1753.6,2273.2L1770.3,2273.2L1787.0,2273.2L1803.7,2273.2L1820.4,2273.2L1837.1,2273.2L1853.8,2273.2L1870.5,2273.2L1887.2,2273.2L1903.9,2273.2L1920.6,2273.2L1937.2,2273.2L1953.9,2273.2L1970.6,2273.2L1987.3,2273.2L2004.0,2273.2"/>
<path d="M1152.6,2239.1L1169.3,2212.7L1186.0,2247.7L1202.7,2093.5L1219.4,2154.9L1236.0,1943.6L1252.7,2131.2L1269.4,2211.6L1286.1,2185.4L1302.8,2146.1L1319.5,2218.8L1336.2,2239.0L1352.9,2263.3L1369.6,2214.9L1386.3,2250.5L1403.0,2254.0L1419.7,2264.7L1436.4,2271.6L1453.1,2269.6L1469.8,2266.4L1486.5,2272.5L1503.2,2272.2L1519.9,2271.8L1536.6,2272.2L1553.3,2272.9L1570.0,2273.1L1586.6,2273.2L1603.3,2273.2L1620.0,2273.2L1636.7,2273.2L1653.4,2273.2L1670.1,2273.2L1686.8,2273.2L1703.5,2273.2L1720.2,2273.2L1736.9,2273.2L1753.6,2273.2L1770.3,2273.2L1787.0,2273.2L1803.7,2273.2L1820.4,2273.2L1837.1,2273.2L1853.8,2273.2L1870.5,2273.2L1887.2,2273.2L1903.9,2273.2L1920.6,2273.2L1937.2,2273.2L1953.9,2273.2L1970.6,2273.2L1987.3,2273.2L2004.0,2273.2"/>
<path d="M1152.6,2195.7L1169.3,2241.8L1186.0,2170.5L1202.7,2204.0L1219.4,2227.1L1236.0,2237.9L1252.7,1992.3L1269.4,2025.1L1286.1,2122.8L1302.8,2199.9L1319.5,2184.1L1336.2,2234.7L1352.9,2264.9L1369.6,2264.6L1386.3,2255.5L1403.0,2266.5L1419.7,2265.3L1436.4,2269.4L1453.1,2267.2L1469.8,2271.3L1486.5,2272.6L1503.2,2270.5L1519.9,2272.6L1536.6,2272.5L1553.3,2272.8L1570.0,2273.1L1586.6,2273.2L1603.3,2273.2L1620.0,2273.2L1636.7,2273.2L1653.4,2273.2L1670.1,2273.2L1686.8,2273.2L1703.5,2273.2L1720.2,2273.2L1736.9,2273.2L1753.6,2273.2L1770.3,2273.2L1787.0,2273.2L1803.7,2273.2L1820.4,2273.2L1837.1,2273.2L1853.8,2273.2L1870.5,2273.2L1887.2,2273.2L1903.9,2273.2L1920.6,2273.2L1937.2,2273.2L1953.9,2273.2L1970.6,2273.2L1987.3,2273.2L2004.0,2273.2"/>
<path d="M1152.6,2243.5L1169.3,2252.4L1186.0,2223.6L1202.7,2205.7L1219.4,2126.8L1236.0,2206.7L1252.7,2191.0L1269.4,2143.1L1286.1,2029.5L1302.8,2190.4L1319.5,2255.4L1336.2,2252.3L1352.9,2211.7L1369.6,2239.7L1386.3,2270.9L1403.0,2265.6L1419.7,2255.3L1436.4,2256.0L1453.1,2264.2L1469.8,2271.2L1486.5,2270.8L1503.2,2273.0L1519.9,2273.0L1536.6,2272.7L1553.3,2272.9L1570.0,2273.0L1586.6,2273.2L1603.3,2273.2L1620.0,2273.2L1636.7,2273.2L1653.4,2273.2L1670.1,2273.2L1686.8,2273.2L1703.5,2273.2L1720.2,2273.2L1736.9,2273.2L1753.6,2273.2L1770.3,2273.2L1787.0,2273.2L1803.7,2273.2L1820.4,2273.2L1837.1,2273.2L1853.8,2273.2L1870.5,2273.2L1887.2,2273.2L1903.9,2273.2L1920.6,2273.2L1937.2,2273.2L1953.9,2273.2L1970.6,2273.2L1987.3,2273.2L2004.0,2273.2"/>
<path d="M1152.6,2233.0L1169.3,2253.0L1186.0,2213.1L1202.7,2165.0L1219.4,2197.8L1236.0,2173.3L1252.7,2260.1L1269.4,2035.3L1286.1,2224.4L1302.8,2178.5L1319.5,1983.0L1336.2,2190.4L1352.9,2239.3L1369.6,2267.7L1386.3,2265.1L1403.0,2270.1L1419.7,2253.7L1436.4,2263.5L1453.1,2271.9L1469.8,2272.7L1486.5,2270.3L1503.2,2271.9L1519.9,2272.9L1536.6,2272.8L1553.3,2273.0L1570.0,2273.1L1586.6,2273.2L1603.3,2273.2L1620.0,2273.2L1636.7,2273.2L1653.4,2273.2L1670.1,2273.2L1686.8,2273.2L1703.5,2273.2L1720.2,2273.2L1736.9,2273.2L1753.6,2273.2L1770.3,2273.2L1787.0,2273.2L1803.7,2273.2L1820.4,2273.2L1837.1,2273.2L1853.8,2273.2L1870.5,2273.2L1887.2,2273.2L1903.9,2273.2L1920.6,2273.2L1937.2,2273.2L1953.9,2273.2L1970.6,2273.2L1987.3,2273.2L2004.0,2273.2"/>
<path d="M1152.6,2220.1L1169.3,2223.2L1186.0,2237.9L1202.7,2225.7L1219.4,2255.8L1236.0,2219.3L1252.7,2110.6L1269.4,2201.6L1286.1,2060.3L1302.8,2250.5L1319.5,2246.1L1336.2,2262.3L1352.9,2167.6L1369.6,2266.3L1386.3,2245.2L1403.0,2244.1L1419.7,2254.0L1436.4,2268.8L1453.1,2267.2L1469.8,2272.7L1486.5,2272.8L1503.2,2272.5L1519.9,2273.0L1536.6,2272.4L1553.3,2273.1L1570.0,2273.0L1586.6,2273.2L1603.3,2273.2L1620.0,2273.2L1636.7,2273.2L1653.4,2273.2L1670.1,2273.2L1686.8,2273.2L1703.5,2273.2L1720.2,2273.2L1736.9,2273.2L1753.6,2273.2L1770.3,2273.2L1787.0,2273.2L1803.7,2273.2L1820.4,2273.2L1837.1,2273.2L1853.8,2273.2L1870.5,2273.2L1887.2,2273.2L1903.9,2273.2L1920.6,2273.2L1937.2,2273.2L1953.9,2273.2L1970.6,2273.2L1987.3,2273.2L2004.0,2273.2"/>
<path d="M1152.6,2236.5L1169.3,2224.2L1186.0,2242.6L1202.7,2223.9L1219.4,2260.4L1236.0,2265.0L1252.7,2246.7L1269.4,2220.4L1286.1,2122.1L1302.8,2174.2L1319.5,2258.6L1336.2,2237.7L1352.9,2229.3L1369.6,2173.8L1386.3,2269.5L1403.0,2269.9L1419.7,2268.3L1436.4,2271.7L1453.1,2269.9L1469.8,2272.0L1486.5,2270.3L1503.2,2269.6L1519.9,2272.0L1536.6,2272.8L1553.3,2273.1L1570.0,2273.0L1586.6,2273.2L1603.3,2273.2L1620.0,2273.2L1636.7,2273.2L1653.4,2273.2L1670.1,2273.2L1686.8,2273.2L1703.5,2273.2L1720.2,2273.2L1736.9,2273.2L1753.6,2273.2L1770.3,2273.2L1787.0,2273.2L1803.7,2273.2L1820.4,2273.2L1837.1,2273.2L1853.8,2273.2L1870.5,2273.2L1887.2,2273.2L1903.9,2273.2L1920.6,2273.2L1937.2,2273.2L1953.9,2273.2L1970.6,2273.2L1987.3,2273.2L2004.0,2273.2"/>
<path d="M1152.6,2255.4L1169.3,2227.2L1186.0,2255.7L1202.7,2193.9L1219.4,2181.0L1236.0,2152.3L1252.7,2196.1L1269.4,2007.1L1286.1,2167.3L1302.8,2243.6L1319.5,2233.5L1336.2,2262.2L1352.9,2220.2L1369.6,2266.9L1386.3,2258.3L1403.0,2263.9L1419.7,2237.3L1436.4,2265.5L1453.1,2261.5L1469.8,2270.9L1486.5,2270.2L1503.2,2272.7L1519.9,2272.7L1536.6,2272.3L1553.3,2272.9L1570.0,2273.1L1586.6,2273.2L1603.3,2273.2L1620.0,2273.2L1636.7,2273.2L1653.4,2273.2L1670.1,2273.2L1686.8,2273.2L1703.5,2273.2L1720.2,2273.2L1736.9,2273.2L1753.6,2273.2L1770.3,2273.2L1787.0,2273.2L1803.7,2273.2L1820.4,2273.2L1837.1,2273.2L1853.8,2273.2L1870.5,2273.2L1887.2,2273.2L1903.9,2273.2L1920.6,2273.2L1937.2,2273.2L1953.9,2273.2L1970.6,2273.2L1987.3,2273.2L2004.0,2273.2"/>
<path d="M1152.6,2241.3L1169.3,2209.8L1186.0,2238.2L1202.7,2231.7L1219.4,2208.6L1236.0,2187.2L1252.7,2222.2L1269.4,2168.5L1286.1,2177.2L1302.8,2159.7L1319.5,2266.7L1336.2,2246.6L1352.9,2208.6L1369.6,2236.1L1386.3,2224.1L1403.0,2240.1L1419.7,2263.2L1436.4,2245.5L1453.1,2267.0L1469.8,2270.6L1486.5,2269.8L1503.2,2271.3L1519.9,2271.9L1536.6,2271.8L1553.3,2273.1L1570.0,2273.1L1586.6,2273.2L1603.3,2273.2L1620.0,2273.2L1636.7,2273.2L1653.4,2273.2L1670.1,2273.2L1686.8,2273.2L1703.5,2273.2L1720.2,2273.2L1736.9,2273.2L1753.6,2273.2L1770.3,2273.2L1787.0,2273.2L1803.7,2273.2L1820.4,2273.2L1837.1,2273.2L1853.8,2273.2L1870.5,2273.2L1887.2,2273.2L1903.9,2273.2L1920.6,2273.2L1937.2,2273.2L1953.9,2273.2L1970.6,2273.2L1987.3,2273.2L2004.0,2273.2"/>
<path d="M1152.6,2250.4L1169.3,2207.7L1186.0,2249.3L1202.7,2213.7L1219.4,2210.4L1236.0,2200.4L1252.7,2037.6L1269.4,2249.4L1286.1,2250.3L1302.8,2250.3L1319.5,2219.2L1336.2,2217.4L1352.9,2246.6L1369.6,2252.8L1386.3,2267.4L1403.0,2257.3L1419.7,2257.0L1436.4,2269.9L1453.1,2252.1L1469.8,2272.9L1486.5,2272.5L1503.2,2272.2L1519.9,2272.6L1536.6,2273.0L1553.3,2272.9L1570.0,2273.0L1586.6,2273.2L1603.3,2273.2L1620.0,2273.2L1636.7,2273.2L1653.4,2273.2L1670.1,2273.2L1686.8,2273.2L1703.5,2273.2L1720.2,2273.2L1736.9,2273.2L1753.6,2273.2L1770.3,2273.2L1787.0,2273.2L1803.7,2273.2L1820.4,2273.2L1837.1,2273.2L1853.8,2273.2L1870.5,2273.2L1887.2,2273.2L1903.9,2273.2L1920.6,2273.2L1937.2,2273.2L1953.9,2273.2L1970.6,2273.2L1987.3,2273.2L2004.0,2273.2"/>
<path d="M1152.6,2238.1L1169.3,2209.1L1186.0,2241.8L1202.7,2103.8L1219.4,2156.8L1236.0,2112.2L1252.7,2193.8L1269.4,2227.6L1286.1,2127.9L1302.8,2177.2L1319.5,2229.8L1336.2,2266.0L1352.9,2222.1L1369.6,2200.8L1386.3,2261.1L1403.0,2237.6L1419.7,2257.9L1436.4,2267.3L1453.1,2266.5L1469.8,2271.8L1486.5,2272.9L1503.2,2260.3L1519.9,2273.0L1536.6,2272.8L1553.3,2272.6L1570.0,2273.0L1586.6,2273.2L1603.3,2273.2L1620.0,2273.2L1636.7,2273.2L1653.4,2273.2L1670.1,2273.2L1686.8,2273.2L1703.5,2273.2L1720.2,2273.2L1736.9,2273.2L1753.6,2273.2L1770.3,2273.2L1787.0,2273.2L1803.7,2273.2L1820.4,2273.2L1837.1,2273.2L1853.8,2273.2L1870.5,2273.2L1887.2,2273.2L1903.9,2273.2L1920.6,2273.2L1937.2,2273.2L1953.9,2273.2L1970.6,2273.2L1987.3,2273.2L2004.0,2273.2"/>
<path d="M1152.6,2249.4L1169.3,2219.8L1186.0,2228.1L1202.7,2217.3L1219.4,2188.1L1236.0,2137.3L1252.7,2193.1L1269.4,2229.3L1286.1,2114.5L1302.8,2205.2L1319.5,2161.7L1336.2,2257.3L1352.9,2262.7L1369.6,2260.0L1386.3,2249.8L1403.0,2263.1L1419.7,2265.1L1436.4,2272.0L1453.1,2269.0L1469.8,2272.3L1486.5,2271.5L1503.2,2270.8L1519.9,2273.0L1536.6,2273.0L1553.3,2272.8L1570.0,2273.1L1586.6,2273.2L1603.3,2273.2L1620.0,2273.2L1636.7,2273.2L1653.4,2273.2L1670.1,2273.2L1686.8,2273.2L1703.5,2273.2L1720.2,2273.2L1736.9,2273.2L1753.6,2273.2L1770.3,2273.2L1787.0,2273.2L1803.7,2273.2L1820.4,2273.2L1837.1,2273.2L1853.8,2273.2L1870.5,2273.2L1887.2,2273.2L1903.9,2273.2L1920.6,2273.2L1937.2,2273.2L1953.9,2273.2L1970.6,2273.2L1987.3,2273.2L2004.0,2273.2"/>
</g>
<path class="obs" d="M1152.6,2213.8L1169.3,2242.8L1186.0,2187.1L1202.7,2238.2L1219.4,2260.9L1236.0,2233.5L1252.7,2162.8L1269.4,2223.1L1286.1,2239.3L1302.8,2227.7L1319.5,2186.7L1336.2,2263.2L1352.9,2209.2L1369.6,2239.3L1386.3,2269.9L1403.0,2212.6L1419.7,2270.7L1436.4,2271.7L1453.1,2267.7L1469.8,2267.2L1486.5,2268.7L1503.2,2272.4L1519.9,2271.1L1536.6,2272.4L1553.3,2272.7L1570.0,2272.7L1586.6,2272.6L1603.3,2272.1L1620.0,2272.9L1636.7,2272.9L1653.4,2272.9L1670.1,2272.9L1686.8,2272.9L1703.5,2272.9L1720.2,2272.9L1736.9,2272.9L1753.6,2272.9L1770.3,2272.9L1787.0,2272.9L1803.7,2272.9L1820.4,2272.9L1837.1,2272.9L1853.8,2272.9L1870.5,2272.9L1887.2,2272.9L1903.9,2272.9L1920.6,2272.9L1937.2,2272.9L1953.9,2272.9L1970.6,2272.9L1987.3,2272.9L2004.0,2272.9"/>
</g>
<text class="ttl" x="1578.3" y="1610.0" text-anchor="middle">product=P7</text>
<text class="tick" x="1153.1" y="2344.4" text-anchor="middle">0</text>
<text class="tick" x="1320.0" y="2344.4" text-anchor="middle">10</text>
<text class="tick" x="1487.0" y="2344.4" text-anchor="middle">20</text>
<text class="tick" x="1653.9" y="2344.4" text-anchor="middle">30</text>
<text class="tick" x="1820.9" y="2344.4" text-anchor="middle">40</text>
<text class="tick" x="1987.8" y="2344.4" text-anchor="middle">50</text>
<text class="xl" x="1579.3" y="2394.1" text-anchor="middle">T</text>
</g>
<g id="panel-P8">
<rect x="2067.0" y="1626.0" width="936.3" height="678.0" fill="#eeeeee"/>
<path class="grid" d="M2109.0,1626.0V2304.0M2276.0,1626.0V2304.0M2443.0,1626.0V2304.0M2610.0,1626.0V2304.0M2777.0,1626.0V2304.0M2944.0,1626.0V2304.0M2066.8,2273.0H3003.4M2066.8,2155.0H3003.4M2066.8,2037.0H3003.4M2066.8,1918.0H3003.4M2066.8,1800.0H3003.4M2066.8,1682.0H3003.4"/>
<g>
<path class="band" fill="#bd8ad5" stroke="#bd8ad5" d="M2109.4,2177.8L2126.1,2152.3L2142.8,2124.5L2159.5,2075.8L2176.2,2038.7L2192.8,1992.3L2209.5,1979.5L2226.2,1973.7L2242.9,1991.1L2259.6,2027.1L2276.3,2061.9L2293.0,2103.6L2309.7,2140.7L2326.4,2175.5L2343.1,2205.7L2359.8,2224.2L2376.5,2238.2L2393.2,2249.8L2409.9,2257.9L2426.6,2263.0L2443.3,2266.5L2460.0,2269.0L2476.7,2270.6L2493.4,2271.8L2510.1,2272.5L2526.8,2272.8L2543.4,2273.2L2560.1,2273.2L2576.8,2273.2L2593.5,2273.2L2610.2,2273.2L2626.9,2273.2L2643.6,2273.2L2660.3,2273.2L2677.0,2273.2L2693.7,2273.2L2710.4,2273.2L2727.1,2273.2L2743.8,2273.2L2760.5,2273.2L2777.2,2273.2L2793.9,2273.2L2810.6,2273.2L2827.3,2273.2L2844.0,2273.2L2860.7,2273.2L2877.4,2273.2L2894.0,2273.2L2910.7,2273.2L2927.4,2273.2L2944.1,2273.2L2960.8,2273.2L2960.8,2273.2L2109.4,2273.2Z"/>
<g class="dr" stroke="#bd8ad5">
<path d="M2109.4,2235.2L2126.1,2240.0L2142.8,2267.1L2159.5,2241.7L2176.2,2107.6L2192.8,1776.3L2209.5,2131.2L2226.2,2233.8L2242.9,2162.7L2259.6,2259.4L2276.3,2248.0L2293.0,2200.5L2309.7,2235.2L2326.4,2258.4L2343.1,2267.6L2359.8,2268.7L2376.5,2271.8L2393.2,2268.3L2409.9,2269.0L2426.6,2271.5L2443.3,2271.5L2460.0,2272.0L2476.7,2273.0L2493.4,2272.6L2510.1,2273.1L2526.8,2273.1L2543.4,2273.2L2560.1,2273.2L2576.8,2273.2L2593.5,2273.2L2610.2,2273.2L2626.9,2273.2L2643.6,2273.2L2660.3,2273.2L2677.0,2273.2L2693.7,2273.2L2710.4,2273.2L2727.1,2273.2L2743.8,2273.2L2760.5,2273.2L2777.2,2273.2L2793.9,2273.2L2810.6,2273.2L2827.3,2273.2L2844.0,2273.2L2860.7,2273.2L2877.4,2273.2L2894.0,2273.2L2910.7,2273.2L2927.4,2273.2L2944.1,2273.2L2960.8,2273.2"/>
<path d="M2109.4,2213.9L2126.1,2204.1L2142.8,2237.7L2159.5,2181.3L2176.2,2178.5L2192.8,1894.6L2209.5,2214.0L2226.2,2179.4L2242.9,2251.5L2259.6,2218.7L2276.3,2257.8L2293.0,2261.7L2309.7,2257.2L2326.4,2269.2L2343.1,2241.2L2359.8,2253.2L2376.5,2243.0L2393.2,2271.6L2409.9,2261.1L2426.6,2267.9L2443.3,2272.6L2460.0,2272.9L2476.7,2273.0L2493.4,2272.9L2510.1,2273.1L2526.8,2273.2L2543.4,2273.2L2560.1,2273.2L2576.8,2273.2L2593.5,2273.2L2610.2,2273.2L2626.9,2273.2L2643.6,2273.2L2660.3,2273.2L2677.0,2273.2L2693.7,2273.2L2710.4,2273.2L2727.1,2273.2L2743.8,2273.2L2760.5,2273.2L2777.2,2273.2L2793.9,2273.2L2810.6,2273.2L2827.3,2273.2L2844.0,2273.2L2860.7,2273.2L2877.4,2273.2L2894.0,2273.2L2910.7,2273.2L2927.4,2273.2L2944.1,2273.2L2960.8,2273.2"/>
<path d="M2109.4,2230.8L2126.1,2235.0L2142.8,2190.4L2159.5,1971.4L2176.2,2143.1L2192.8,2162.6L2209.5,2158.6L2226.2,2168.9L2242.9,2252.2L2259.6,2245.8L2276.3,2253.0L2293.0,2263.0L2309.7,2252.6L2326.4,2246.0L2343.1,2267.3L2359.8,2259.5L2376.5,2261.7L2393.2,2270.2L2409.9,2268.4L2426.6,2265.8L2443.3,2271.7L2460.0,2272.8L2476.7,2271.1L2493.4,2272.5L2510.1,2272.8L2526.8,2273.1L2543.4,2273.2L2560.1,2273.2L2576.8,2273.2L2593.5,2273.2L2610.2,2273.2L2626.9,2273.2L2643.6,2273.2L2660.3,2273.2L2677.0,2273.2L2693.7,2273.2L2710.4,2273.2L2727.1,2273.2L2743.8,2273.2L2760.5,2273.2L2777.2,2273.2L2793.9,2273.2L2810.6,2273.2L2827.3,2273.2L2844.0,2273.2L2860.7,2273.2L2877.4,2273.2L2894.0,2273.2L2910.7,2273.2L2927.4,2273.2L2944.1,2273.2L2960.8,2273.2"/>
<path d="M2109.4,2244.6L2126.1,2211.6L2142.8,2177.2L2159.5,2166.7L2176.2,1950.5L2192.8,2178.5L2209.5,2158.8L2226.2,2214.1L2242.9,2130.3L2259.6,2136.3L2276.3,2223.6L2293.0,2248.8L2309.7,2165.3L2326.4,2251.3L2343.1,2257.4L2359.8,2231.8L2376.5,2269.8L2393.2,2272.1L2409.9,2265.9L2426.6,2272.6L2443.3,2272.4L2460.0,2272.8L2476.7,2272.9L2493.4,2273.1L2510.1,2273.1L2526.8,2273.1L2543.4,2273.2L2560.1,2273.2L2576.8,2273.2L2593.5,2273.2L2610.2,2273.2L2626.9,2273.2L2643.6,2273.2L2660.3,2273.2L2677.0,2273.2L2693.7,2273.2L2710.4,2273.2L2727.1,2273.2L2743.8,2273.2L2760.5,2273.2L2777.2,2273.2L2793.9,2273.2L2810.6,2273.2L2827.3,2273.2L2844.0,2273.2L2860.7,2273.2L2877.4,2273.2L2894.0,2273.2L2910.7,2273.2L2927.4,2273.2L2944.1,2273.2L2960.8,2273.2"/>
<path d="M2109.4,2243.1L2126.1,2177.9L2142.8,2184.5L2159.5,2142.6L2176.2,2149.0L2192.8,2237.1L2209.5,2166.7L2226.2,2017.8L2242.9,2183.3L2259.6,2238.8L2276.3,2259.6L2293.0,2213.9L2309.7,2261.0L2326.4,2262.0L2343.1,2270.1L2359.8,2266.7L2376.5,2257.0L2393.2,2270.5L2409.9,2271.7L2426.6,2267.9L2443.3,2272.0L2460.0,2272.8L2476.7,2272.8L2493.4,2273.0L2510.1,2272.9L2526.8,2273.1L2543.4,2273.2L2560.1,2273.2L2576.8,2273.2L2593.5,2273.2L2610.2,2273.2L2626.9,2273.2L2643.6,2273.2L2660.3,2273.2L2677.0,2273.2L2693.7,2273.2L2710.4,2273.2L2727.1,2273.2L2743.8,2273.2L2760.5,2273.2L2777.2,2273.2L2793.9,2273.2L2810.6,2273.2L2827.3,2273.2L2844.0,2273.2L2860.7,2273.2L2877.4,2273.2L2894.0,2273.2L2910.7,2273.2L2927.4,2273.2L2944.1,2273.2L2960.8,2273.2"/>
<path d="M2109.4,2229.3L2126.1,2244.6L2142.8,2231.1L2159.5,2229.5L2176.2,2126.2L2192.8,2176.0L2209.5,2251.6L2226.2,2253.2L2242.9,2234.1L2259.6,2166.7L2276.3,2017.8L2293.0,2214.0L2309.7,2233.2L2326.4,2263.0L2343.1,2236.9L2359.8,2268.0L2376.5,2269.6L2393.2,2271.4L2409.9,2268.5L2426.6,2270.4L2443.3,2270.3L2460.0,2273.0L2476.7,2272.2L2493.4,2273.1L2510.1,2273.1L2526.8,2273.2L2543.4,2273.2L2560.1,2273.2L2576.8,2273.2L2593.5,2273.2L2610.2,2273.2L2626.9,2273.2L2643.6,2273.2L2660.3,2273.2L2677.0,2273.2L2693.7,2273.2L2710.4,2273.2L2727.1,2273.2L2743.8,2273.2L2760.5,2273.2L2777.2,2273.2L2793.9,2273.2L2810.6,2273.2L2827.3,2273.2L2844.0,2273.2L2860.7,2273.2L2877.4,2273.2L2894.0,2273.2L2910.7,2273.2L2927.4,2273.2L2944.1,2273.2L2960.8,2273.2"/>
<path d="M2109.4,2203.2L2126.1,2217.4L2142.8,2252.3L2159.5,2217.9L2176.2,2245.1L2192.8,2155.2L2209.5,2054.2L2226.2,2097.6L2242.9,2233.4L2259.6,2247.2L2276.3,2257.5L2293.0,2105.9L2309.7,2248.0L2326.4,2231.7L2343.1,2257.3L2359.8,2270.2L2376.5,2268.1L2393.2,2264.6L2409.9,2268.4L2426.6,2269.8L2443.3,2270.7L2460.0,2273.0L2476.7,2273.1L2493.4,2272.9L2510.1,2272.9L2526.8,2273.1L2543.4,2273.2L2560.1,2273.2L2576.8,2273.2L2593.5,2273.2L2610.2,2273.2L2626.9,2273.2L2643.6,2273.2L2660.3,2273.2L2677.0,2273.2L2693.7,2273.2L2710.4,2273.2L2727.1,2273.2L2743.8,2273.2L2760.5,2273.2L2777.2,2273.2L2793.9,2273.2L2810.6,2273.2L2827.3,2273.2L2844.0,2273.2L2860.7,2273.2L2877.4,2273.2L2894.0,2273.2L2910.7,2273.2L2927.4,2273.2L2944.1,2273.2L2960.8,2273.2"/>
<path d="M2109.4,2242.3L2126.1,2249.8L2142.8,2245.5L2159.5,2224.3L2176.2,2248.0L2192.8,2230.2L2209.5,2154.4L2226.2,2237.4L2242.9,2087.4L2259.6,2223.4L2276.3,2181.6L2293.0,2200.1L2309.7,2117.6L2326.4,2256.3L2343.1,2250.7L2359.8,2241.7L2376.5,2270.6L2393.2,2260.7L2409.9,2260.7L2426.6,2271.5L2443.3,2272.9L2460.0,2272.8L2476.7,2273.0L2493.4,2272.1L2510.1,2272.6L2526.8,2273.1L2543.4,2273.2L2560.1,2273.2L2576.8,2273.2L2593.5,2273.2L2610.2,2273.2L2626.9,2273.2L2643.6,2273.2L2660.3,2273.2L2677.0,2273.2L2693.7,2273.2L2710.4,2273.2L2727.1,2273.2L2743.8,2273.2L2760.5,2273.2L2777.2,2273.2L2793.9,2273.2L2810.6,2273.2L2827.3,2273.2L2844.0,2273.2L2860.7,2273.2L2877.4,2273.2L2894.0,2273.2L2910.7,2273.2L2927.4,2273.2L2944.1,2273.2L2960.8,2273.2"/>
<path d="M2109.4,2242.6L2126.1,2220.5L2142.8,2181.8L2159.5,2183.7L2176.2,2185.9L2192.8,2236.0L2209.5,2184.1L2226.2,2232.6L2242.9,2262.5L2259.6,2155.1L2276.3,2248.1L2293.0,2231.8L2309.7,2251.5L2326.4,2136.1L2343.1,2264.5L2359.8,2259.2L2376.5,2269.3L2393.2,2271.7L2409.9,2268.0L2426.6,2271.0L2443.3,2270.6L2460.0,2272.7L2476.7,2272.9L2493.4,2272.7L2510.1,2272.8L2526.8,2273.1L2543.4,2273.2L2560.1,2273.2L2576.8,2273.2L2593.5,2273.2L2610.2,2273.2L2626.9,2273.2L2643.6,2273.2L2660.3,2273.2L2677.0,2273.2L2693.7,2273.2L2710.4,2273.2L2727.1,2273.2L2743.8,2273.2L2760.5,2273.2L2777.2,2273.2L2793.9,2273.2L2810.6,2273.2L2827.3,2273.2L2844.0,2273.2L2860.7,2273.2L2877.4,2273.2L2894.0,2273.2L2910.7,2273.2L2927.4,2273.2L2944.1,2273.2L2960.8,2273.2"/>
<path d="M2109.4,2231.1L2126.1,2248.2L2142.8,2251.2L2159.5,2237.7L2176.2,2261.3L2192.8,2159.9L2209.5,2180.0L2226.2,2230.5L2242.9,2107.1L2259.6,2210.7L2276.3,2262.7L2293.0,2259.1L2309.7,2193.5L2326.4,2265.0L2343.1,2271.1L2359.8,2269.3L2376.5,2213.8L2393.2,2270.9L2409.9,2271.9L2426.6,2271.4L2443.3,2271.6L2460.0,2272.8L2476.7,2272.3L2493.4,2273.1L2510.1,2273.1L2526.8,2273.1L2543.4,2273.2L2560.1,2273.2L2576.8,2273.2L2593.5,2273.2L2610.2,2273.2L2626.9,2273.2L2643.6,2273.2L2660.3,2273.2L2677.0,2273.2L2693.7,2273.2L2710.4,2273.2L2727.1,2273.2L2743.8,2273.2L2760.5,2273.2L2777.2,2273.2L2793.9,2273.2L2810.6,2273.2L2827.3,2273.2L2844.0,2273.2L2860.7,2273.2L2877.4,2273.2L2894.0,2273.2L2910.7,2273.2L2927.4,2273.2L2944.1,2273.2L2960.8,2273.2"/>
<path d="M2109.4,2221.9L2126.1,2208.0L2142.8,2224.1L2159.5,2265.5L2176.2,2250.1L2192.8,2107.0L2209.5,2096.6L2226.2,2232.3L2242.9,2121.8L2259.6,2119.4L2276.3,2180.6L2293.0,2227.8L2309.7,2228.3L2326.4,2237.1L2343.1,2270.4L2359.8,2264.2L2376.5,2260.5L2393.2,2261.0L2409.9,2271.4L2426.6,2271.2L2443.3,2271.1L2460.0,2271.4L2476.7,2271.0L2493.4,2273.1L2510.1,2272.6L2526.8,2273.1L2543.4,2273.2L2560.1,2273.2L2576.8,2273.2L2593.5,2273.2L2610.2,2273.2L2626.9,2273.2L2643.6,2273.2L2660.3,2273.2L2677.0,2273.2L2693.7,2273.2L2710.4,2273.2L2727.1,2273.2L2743.8,2273.2L2760.5,2273.2L2777.2,2273.2L2793.9,2273.2L2810.6,2273.2L2827.3,2273.2L2844.0,2273.2L2860.7,2273.2L2877.4,2273.2L2894.0,2273.2L2910.7,2273.2L2927.4,2273.2L2944.1,2273.2L2960.8,2273.2"/>
<path d="M2109.4,2237.5L2126.1,2231.6L2142.8,2156.9L2159.5,2247.7L2176.2,2257.0L2192.8,2216.4L2209.5,2242.2L2226.2,2216.4L2242.9,2095.2L2259.6,2172.7L2276.3,2262.4L2293.0,2228.5L2309.7,2244.5L2326.4,2254.0L2343.1,2260.5L2359.8,2262.5L2376.5,2265.5L2393.2,2272.1L2409.9,2269.6L2426.6,2272.3L2443.3,2263.2L2460.0,2272.1L2476.7,2272.3L2493.4,2272.2L2510.1,2273.1L2526.8,2273.2L2543.4,2273.2L2560.1,2273.2L2576.8,2273.2L2593.5,2273.2L2610.2,2273.2L2626.9,2273.2L2643.6,2273.2L2660.3,2273.2L2677.0,2273.2L2693.7,2273.2L2710.4,2273.2L2727.1,2273.2L2743.8,2273.2L2760.5,2273.2L2777.2,2273.2L2793.9,2273.2L2810.6,2273.2L2827.3,2273.2L2844.0,2273.2L2860.7,2273.2L2877.4,2273.2L2894.0,2273.2L2910.7,2273.2L2927.4,2273.2L2944.1,2273.2L2960.8,2273.2"/>
<path d="M2109.4,2219.8L2126.1,2229.1L2142.8,2221.7L2159.5,2171.2L2176.2,2174.0L2192.8,2169.7L2209.5,2189.8L2226.2,2259.4L2242.9,2234.1L2259.6,2124.4L2276.3,2202.1L2293.0,2220.1L2309.7,2260.0L2326.4,2256.9L2343.1,2266.4L2359.8,2227.1L2376.5,2261.7L2393.2,2270.7L2409.9,2265.9L2426.6,2272.7L2443.3,2272.2L2460.0,2272.9L2476.7,2272.8L2493.4,2272.9L2510.1,2272.9L2526.8,2273.1L2543.4,2273.2L2560.1,2273.2L2576.8,2273.2L2593.5,2273.2L2610.2,2273.2L2626.9,2273.2L2643.6,2273.2L2660.3,2273.2L2677.0,2273.2L2693.7,2273.2L2710.4,2273.2L2727.1,2273.2L2743.8,2273.2L2760.5,2273.2L2777.2,2273.2L2793.9,2273.2L2810.6,2273.2L2827.3,2273.2L2844.0,2273.2L2860.7,2273.2L2877.4,2273.2L2894.0,2273.2L2910.7,2273.2L2927.4,2273.2L2944.1,2273.2L2960.8,2273.2"/>
<path d="M2109.4,2238.5L2126.1,2224.8L2142.8,2190.8L2159.5,2229.4L2176.2,2246.5L2192.8,2201.0L2209.5,2076.0L2226.2,2080.2L2242.9,2256.6L2259.6,2254.6L2276.3,2164.0L2293.0,2258.4L2309.7,2267.9L2326.4,2231.3L2343.1,2262.1L2359.8,2265.9L2376.5,2270.1L2393.2,2262.5L2409.9,2266.7L2426.6,2269.2L2443.3,2272.0L2460.0,2271.2L2476.7,2271.7L2493.4,2272.7L2510.1,2272.8L2526.8,2273.1L2543.4,2273.2L2560.1,2273.2L2576.8,2273.2L2593.5,2273.2L2610.2,2273.2L2626.9,2273.2L2643.6,2273.2L2660.3,2273.2L2677.0,2273.2L2693.7,2273.2L2710.4,2273.2L2727.1,2273.2L2743.8,2273.2L2760.5,2273.2L2777.2,2273.2L2793.9,2273.2L2810.6,2273.2L2827.3,2273.2L2844.0,2273.2L2860.7,2273.2L2877.4,2273.2L2894.0,2273.2L2910.7,2273.2L2927.4,2273.2L2944.1,2273.2L2960.8,2273.2"/>
<path d="M2109.4,2210.6L2126.1,2252.1L2142.8,2219.9L2159.5,2240.7L2176.2,2187.7L2192.8,2183.7L2209.5,2255.7L2226.2,2263.6L2242.9,2244.5L2259.6,2173.6L2276.3,2226.7L2293.0,2241.6L2309.7,2174.4L2326.4,2220.9L2343.1,2240.9L2359.8,2267.7L2376.5,2267.9L2393.2,2269.9L2409.9,2265.6L2426.6,2267.3L2443.3,2273.0L2460.0,2272.5L2476.7,2272.2L2493.4,2273.1L2510.1,2272.7L2526.8,2273.1L2543.4,2273.2L2560.1,2273.2L2576.8,2273.2L2593.5,2273.2L2610.2,2273.2L2626.9,2273.2L2643.6,2273.2L2660.3,2273.2L2677.0,2273.2L2693.7,2273.2L2710.4,2273.2L2727.1,2273.2L2743.8,2273.2L2760.5,2273.2L2777.2,2273.2L2793.9,2273.2L2810.6,2273.2L2827.3,2273.2L2844.0,2273.2L2860.7,2273.2L2877.4,2273.2L2894.0,2273.2L2910.7,2273.2L2927.4,2273.2L2944.1,2273.2L2960.8,2273.2"/>
</g>
<path class="obs" d="M2109.4,2212.2L2126.1,2239.3L2142.8,2249.3L2159.5,2213.8L2176.2,2186.7L2192.8,1945.9L2209.5,2098.5L2226.2,2112.4L2242.9,2217.3L2259.6,2241.6L2276.3,2224.9L2293.0,2191.8L2309.7,2260.2L2326.4,2183.7L2343.1,2262.2L2359.8,2261.0L2376.5,2257.0L2393.2,2269.2L2409.9,2264.4L2426.6,2270.7L2443.3,2269.6L2460.0,2272.1L2476.7,2268.7L2493.4,2271.7L2510.1,2271.4L2526.8,2272.1L2543.4,2272.7L2560.1,2272.9L2576.8,2272.9L2593.5,2272.9L2610.2,2272.9L2626.9,2272.9L2643.6,2272.9L2660.3,2272.9L2677.0,2272.9L2693.7,2272.9L2710.4,2272.9L2727.1,2272.9L2743.8,2272.9L2760.5,2272.9L2777.2,2272.9L2793.9,2272.9L2810.6,2272.9L2827.3,2272.9L2844.0,2272.9L2860.7,2272.9L2877.4,2272.9L2894.0,2272.9L2910.7,2272.9L2927.4,2272.9L2944.1,2272.9L2960.8,2272.9"/>
</g>
<text class="ttl" x="2535.1" y="1610.0" text-anchor="middle">product=P8</text>
<text class="tick" x="2109.9" y="2344.4" text-anchor="middle">0</text>
<text class="tick" x="2276.8" y="2344.4" text-anchor="middle">10</text>
<text class="tick" x="2443.8" y="2344.4" text-anchor="middle">20</text>
<text class="tick" x="2610.7" y="2344.4" text-anchor="middle">30</text>
<text class="tick" x="2777.7" y="2344.4" text-anchor="middle">40</text>
<text class="tick" x="2944.6" y="2344.4" text-anchor="middle">50</text>
<text class="xl" x="2536.1" y="2394.1" text-anchor="middle">T</text>
</g>
</svg>
</body></html>
